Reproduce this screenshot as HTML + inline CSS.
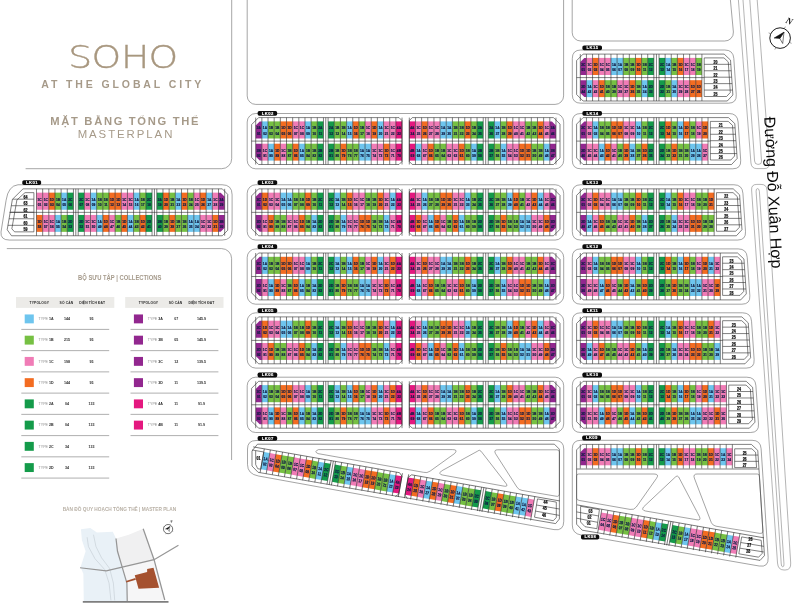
<!DOCTYPE html>
<html lang="vi"><head><meta charset="utf-8"><title>SOHO at The Global City - Masterplan</title>
<style>
html,body{margin:0;padding:0;background:#fff}
body{width:800px;height:605px;overflow:hidden}
svg{display:block;will-change:transform}
.ln{fill:none;stroke:#4a4a4a;stroke-width:0.5}
.ll{fill:none;stroke:#2e2e2e;stroke-width:0.6}
.ln2{fill:none;stroke:#6a6a6a;stroke-width:0.6}
.lt text{font:700 4.25px "Liberation Sans",sans-serif;fill:#101c44;text-anchor:middle;stroke:#101c44;stroke-width:0.24px}
.lt text.le{fill:#0c0c0c;stroke:#0c0c0c;font-size:4.7px}
.pl{font:700 4.2px "Liberation Sans",sans-serif;fill:#fff;stroke:#fff;stroke-width:0.12px;text-anchor:middle;letter-spacing:0.4px}
.soho{font:200 32.2px "DejaVu Sans Light","DejaVu Sans","Liberation Sans",sans-serif;fill:#a8977f;stroke:#a8977f;stroke-width:0.35px}
.t1{font:700 10.5px "Liberation Sans",sans-serif;fill:#a69a89;letter-spacing:2.88px}
.t2{font:700 11.2px "Liberation Sans",sans-serif;fill:#a69a89;letter-spacing:1.68px}
.rd{fill:none;stroke:#6b6b6b;stroke-width:0.5}
.rt{font:400 15.8px "Liberation Sans",sans-serif;fill:#0a0a0a}
.nn{font:italic 700 8px "Liberation Serif",serif;fill:#111}
.lg1{font:700 6.9px "Liberation Sans",sans-serif;fill:#a59a8b}
.lg2{font:700 4.78px "Liberation Sans",sans-serif;fill:#b9b1a6}
.lh{font:700 3.35px "Liberation Sans",sans-serif;fill:#2b2b2b;text-anchor:middle;letter-spacing:0.1px}
.lr{font:700 3.6px "Liberation Sans",sans-serif;fill:#2b2b2b}
.lr.m{text-anchor:middle}
.ty{font-weight:400;fill:#8d8d8d}
.t3{font:400 11.4px "Liberation Sans",sans-serif;fill:#a69a89;letter-spacing:1.95px}
</style></head><body>
<svg width="800" height="605" viewBox="0 0 800 605">
<rect width="800" height="605" fill="#fff"/>
<path d="M231.7 0V158.7A10 10 0 0 1 221.7 168.7H25.6" class="ln2"/>
<path d="M6.8 248.6H221.6A10 10 0 0 1 231.6 258.6V460" class="ln2"/>
<path d="M247.2 0V95.9A8.5 8.5 0 0 0 255.7 104.4H555.1A8.5 8.5 0 0 0 563.6 95.9V0" class="ln"/>
<path d="M572.2 0V32.5A8.5 8.5 0 0 0 580.7 41H724.5A8.5 8.5 0 0 0 733.4 32L730.4 0" class="ln"/>
<text transform="translate(0 67.9) scale(1.17 1)" x="58.29 78.29 103.33 126.84" y="0" class="soho">SOHO</text>
<text x="41.3" y="87.6" class="t1">AT THE GLOBAL CITY</text>
<text x="125.2" y="125.3" class="t2" text-anchor="middle">MẶT BẰNG TỔNG THỂ</text>
<text x="126" y="138.4" class="t3" text-anchor="middle">MASTERPLAN</text>
<rect x="247.2" y="113.5" width="316.5" height="55.3" rx="8.5" class="ln"/>
<polygon points="259.7,121.4 261.86,121.4 261.86,138.5 255.7,138.5 255.7,125.4" fill="#92278f"/><polygon points="255.7,143.7 261.86,143.7 261.86,160.6 259.7,160.6 255.7,156.6" fill="#92278f"/><rect x="261.86" y="121.4" width="6.16" height="17.1" fill="#6ec5ee"/><rect x="261.86" y="143.7" width="6.16" height="16.9" fill="#f07cb6"/><rect x="268.02" y="121.4" width="6.16" height="17.1" fill="#76c043"/><rect x="268.02" y="143.7" width="6.16" height="16.9" fill="#6ec5ee"/><rect x="274.18" y="121.4" width="6.16" height="17.1" fill="#76c043"/><rect x="274.18" y="143.7" width="6.16" height="16.9" fill="#f36c21"/><rect x="280.34" y="121.4" width="6.16" height="17.1" fill="#f36c21"/><rect x="280.34" y="143.7" width="6.16" height="16.9" fill="#f07cb6"/><rect x="286.5" y="121.4" width="6.16" height="17.1" fill="#f36c21"/><rect x="286.5" y="143.7" width="6.16" height="16.9" fill="#76c043"/><rect x="292.66" y="121.4" width="6.16" height="17.1" fill="#f07cb6"/><rect x="292.66" y="143.7" width="6.16" height="16.9" fill="#f36c21"/><rect x="298.82" y="121.4" width="6.16" height="17.1" fill="#f07cb6"/><rect x="298.82" y="143.7" width="6.16" height="16.9" fill="#6ec5ee"/><rect x="304.98" y="121.4" width="6.16" height="17.1" fill="#6ec5ee"/><rect x="304.98" y="143.7" width="6.16" height="16.9" fill="#76c043"/><rect x="311.14" y="121.4" width="6.16" height="17.1" fill="#76c043"/><rect x="311.14" y="143.7" width="6.16" height="16.9" fill="#76c043"/><rect x="317.3" y="121.4" width="6.16" height="17.1" fill="#149b4a"/><rect x="317.3" y="143.7" width="6.16" height="16.9" fill="#149b4a"/><rect x="328.1" y="121.4" width="6.16" height="17.1" fill="#149b4a"/><rect x="328.1" y="143.7" width="6.16" height="16.9" fill="#149b4a"/><rect x="334.26" y="121.4" width="6.16" height="17.1" fill="#76c043"/><rect x="334.26" y="143.7" width="6.16" height="16.9" fill="#76c043"/><rect x="340.42" y="121.4" width="6.16" height="17.1" fill="#76c043"/><rect x="340.42" y="143.7" width="6.16" height="16.9" fill="#f36c21"/><rect x="346.58" y="121.4" width="6.16" height="17.1" fill="#6ec5ee"/><rect x="346.58" y="143.7" width="6.16" height="16.9" fill="#76c043"/><rect x="352.74" y="121.4" width="6.16" height="17.1" fill="#f36c21"/><rect x="352.74" y="143.7" width="6.16" height="16.9" fill="#76c043"/><rect x="358.9" y="121.4" width="6.16" height="17.1" fill="#76c043"/><rect x="358.9" y="143.7" width="6.16" height="16.9" fill="#6ec5ee"/><rect x="365.06" y="121.4" width="6.16" height="17.1" fill="#f07cb6"/><rect x="365.06" y="143.7" width="6.16" height="16.9" fill="#6ec5ee"/><rect x="371.22" y="121.4" width="6.16" height="17.1" fill="#f36c21"/><rect x="371.22" y="143.7" width="6.16" height="16.9" fill="#f07cb6"/><rect x="377.38" y="121.4" width="6.16" height="17.1" fill="#6ec5ee"/><rect x="377.38" y="143.7" width="6.16" height="16.9" fill="#f07cb6"/><rect x="383.54" y="121.4" width="6.16" height="17.1" fill="#f07cb6"/><rect x="383.54" y="143.7" width="6.16" height="16.9" fill="#f36c21"/><rect x="389.7" y="121.4" width="6.16" height="17.1" fill="#f07cb6"/><rect x="389.7" y="143.7" width="6.16" height="16.9" fill="#f07cb6"/><rect x="395.86" y="121.4" width="6.16" height="17.1" fill="#e4187f"/><rect x="395.86" y="143.7" width="6.16" height="16.9" fill="#e4187f"/><rect x="409.3" y="121.4" width="6.16" height="17.1" fill="#e4187f"/><rect x="409.3" y="143.7" width="6.16" height="16.9" fill="#e4187f"/><rect x="415.46" y="121.4" width="6.16" height="17.1" fill="#f07cb6"/><rect x="415.46" y="143.7" width="6.16" height="16.9" fill="#6ec5ee"/><rect x="421.62" y="121.4" width="6.16" height="17.1" fill="#f36c21"/><rect x="421.62" y="143.7" width="6.16" height="16.9" fill="#f07cb6"/><rect x="427.78" y="121.4" width="6.16" height="17.1" fill="#f07cb6"/><rect x="427.78" y="143.7" width="6.16" height="16.9" fill="#f36c21"/><rect x="433.94" y="121.4" width="6.16" height="17.1" fill="#f07cb6"/><rect x="433.94" y="143.7" width="6.16" height="16.9" fill="#76c043"/><rect x="440.1" y="121.4" width="6.16" height="17.1" fill="#6ec5ee"/><rect x="440.1" y="143.7" width="6.16" height="16.9" fill="#76c043"/><rect x="446.26" y="121.4" width="6.16" height="17.1" fill="#6ec5ee"/><rect x="446.26" y="143.7" width="6.16" height="16.9" fill="#f07cb6"/><rect x="452.42" y="121.4" width="6.16" height="17.1" fill="#76c043"/><rect x="452.42" y="143.7" width="6.16" height="16.9" fill="#f07cb6"/><rect x="458.58" y="121.4" width="6.16" height="17.1" fill="#76c043"/><rect x="458.58" y="143.7" width="6.16" height="16.9" fill="#f36c21"/><rect x="464.74" y="121.4" width="6.16" height="17.1" fill="#f36c21"/><rect x="464.74" y="143.7" width="6.16" height="16.9" fill="#76c043"/><rect x="470.9" y="121.4" width="6.16" height="17.1" fill="#76c043"/><rect x="470.9" y="143.7" width="6.16" height="16.9" fill="#6ec5ee"/><rect x="477.06" y="121.4" width="6.16" height="17.1" fill="#149b4a"/><rect x="477.06" y="143.7" width="6.16" height="16.9" fill="#149b4a"/><rect x="488.2" y="121.4" width="6.16" height="17.1" fill="#149b4a"/><rect x="488.2" y="143.7" width="6.16" height="16.9" fill="#149b4a"/><rect x="494.36" y="121.4" width="6.16" height="17.1" fill="#6ec5ee"/><rect x="494.36" y="143.7" width="6.16" height="16.9" fill="#76c043"/><rect x="500.52" y="121.4" width="6.16" height="17.1" fill="#76c043"/><rect x="500.52" y="143.7" width="6.16" height="16.9" fill="#6ec5ee"/><rect x="506.68" y="121.4" width="6.16" height="17.1" fill="#f36c21"/><rect x="506.68" y="143.7" width="6.16" height="16.9" fill="#f07cb6"/><rect x="512.84" y="121.4" width="6.16" height="17.1" fill="#f07cb6"/><rect x="512.84" y="143.7" width="6.16" height="16.9" fill="#f07cb6"/><rect x="519" y="121.4" width="6.16" height="17.1" fill="#f07cb6"/><rect x="519" y="143.7" width="6.16" height="16.9" fill="#f36c21"/><rect x="525.16" y="121.4" width="6.16" height="17.1" fill="#76c043"/><rect x="525.16" y="143.7" width="6.16" height="16.9" fill="#f36c21"/><rect x="531.32" y="121.4" width="6.16" height="17.1" fill="#76c043"/><rect x="531.32" y="143.7" width="6.16" height="16.9" fill="#76c043"/><rect x="537.48" y="121.4" width="6.16" height="17.1" fill="#f36c21"/><rect x="537.48" y="143.7" width="6.16" height="16.9" fill="#76c043"/><rect x="543.64" y="121.4" width="6.16" height="17.1" fill="#f07cb6"/><rect x="543.64" y="143.7" width="6.16" height="16.9" fill="#6ec5ee"/><polygon points="549.8,121.4 551.96,121.4 555.96,125.4 555.96,138.5 549.8,138.5" fill="#92278f"/><polygon points="549.8,143.7 555.96,143.7 555.96,156.6 551.96,160.6 549.8,160.6" fill="#92278f"/>
<path d="M258.6 117.6L399.02 117.6L402.02 120.6L402.02 161.5L399.02 164.5L258.6 164.5L251.6 157.5L251.6 124.6ZM412.3 117.6L553.5 117.6L560 124.1L560 158L553.5 164.5L412.3 164.5L409.3 161.5L409.3 120.6ZM251.6 141.1L402.02 141.1M409.3 141.1L560 141.1M325.78 117.6L325.78 164.5M485.71 117.6L485.71 164.5M255.7 117.6L255.7 164.5M261.86 117.6L261.86 164.5M268.02 117.6L268.02 164.5M274.18 117.6L274.18 164.5M280.34 117.6L280.34 164.5M286.5 117.6L286.5 164.5M292.66 117.6L292.66 164.5M298.82 117.6L298.82 164.5M304.98 117.6L304.98 164.5M311.14 117.6L311.14 164.5M317.3 117.6L317.3 164.5M323.46 117.6L323.46 164.5M328.1 117.6L328.1 164.5M334.26 117.6L334.26 164.5M340.42 117.6L340.42 164.5M346.58 117.6L346.58 164.5M352.74 117.6L352.74 164.5M358.9 117.6L358.9 164.5M365.06 117.6L365.06 164.5M371.22 117.6L371.22 164.5M377.38 117.6L377.38 164.5M383.54 117.6L383.54 164.5M389.7 117.6L389.7 164.5M395.86 117.6L395.86 164.5M402.02 117.6L402.02 164.5M409.3 117.6L409.3 164.5M415.46 117.6L415.46 164.5M421.62 117.6L421.62 164.5M427.78 117.6L427.78 164.5M433.94 117.6L433.94 164.5M440.1 117.6L440.1 164.5M446.26 117.6L446.26 164.5M452.42 117.6L452.42 164.5M458.58 117.6L458.58 164.5M464.74 117.6L464.74 164.5M470.9 117.6L470.9 164.5M477.06 117.6L477.06 164.5M483.22 117.6L483.22 164.5M488.2 117.6L488.2 164.5M494.36 117.6L494.36 164.5M500.52 117.6L500.52 164.5M506.68 117.6L506.68 164.5M512.84 117.6L512.84 164.5M519 117.6L519 164.5M525.16 117.6L525.16 164.5M531.32 117.6L531.32 164.5M537.48 117.6L537.48 164.5M543.64 117.6L543.64 164.5M549.8 117.6L549.8 164.5M555.96 117.6L555.96 164.5" class="ll"/>
<g class="lt" transform="scale(0.76 1)">
<text x="340.5" y="129.4">3A<tspan x="340.5" dy="5.2">01</tspan></text>
<text x="340.5" y="151.6">3B<tspan x="340.5" dy="5.2">92</tspan></text>
<text x="348.61" y="129.4">1A<tspan x="348.61" dy="5.2">02</tspan></text>
<text x="348.61" y="151.6">1C<tspan x="348.61" dy="5.2">91</tspan></text>
<text x="356.71" y="129.4">1B<tspan x="356.71" dy="5.2">03</tspan></text>
<text x="356.71" y="151.6">1A<tspan x="356.71" dy="5.2">90</tspan></text>
<text x="364.82" y="129.4">1B<tspan x="364.82" dy="5.2">04</tspan></text>
<text x="364.82" y="151.6">1D<tspan x="364.82" dy="5.2">89</tspan></text>
<text x="372.92" y="129.4">1D<tspan x="372.92" dy="5.2">05</tspan></text>
<text x="372.92" y="151.6">1C<tspan x="372.92" dy="5.2">88</tspan></text>
<text x="381.03" y="129.4">1D<tspan x="381.03" dy="5.2">06</tspan></text>
<text x="381.03" y="151.6">1B<tspan x="381.03" dy="5.2">87</tspan></text>
<text x="389.13" y="129.4">1C<tspan x="389.13" dy="5.2">07</tspan></text>
<text x="389.13" y="151.6">1D<tspan x="389.13" dy="5.2">86</tspan></text>
<text x="397.24" y="129.4">1C<tspan x="397.24" dy="5.2">08</tspan></text>
<text x="397.24" y="151.6">1A<tspan x="397.24" dy="5.2">85</tspan></text>
<text x="405.34" y="129.4">1A<tspan x="405.34" dy="5.2">09</tspan></text>
<text x="405.34" y="151.6">1B<tspan x="405.34" dy="5.2">84</tspan></text>
<text x="413.45" y="129.4">1B<tspan x="413.45" dy="5.2">10</tspan></text>
<text x="413.45" y="151.6">1B<tspan x="413.45" dy="5.2">83</tspan></text>
<text x="421.55" y="129.4">2A<tspan x="421.55" dy="5.2">11</tspan></text>
<text x="421.55" y="151.6">2B<tspan x="421.55" dy="5.2">82</tspan></text>
<text x="435.76" y="129.4">2A<tspan x="435.76" dy="5.2">12</tspan></text>
<text x="435.76" y="151.6">2B<tspan x="435.76" dy="5.2">81</tspan></text>
<text x="443.87" y="129.4">1B<tspan x="443.87" dy="5.2">13</tspan></text>
<text x="443.87" y="151.6">1B<tspan x="443.87" dy="5.2">80</tspan></text>
<text x="451.97" y="129.4">1B<tspan x="451.97" dy="5.2">14</tspan></text>
<text x="451.97" y="151.6">1D<tspan x="451.97" dy="5.2">79</tspan></text>
<text x="460.08" y="129.4">1A<tspan x="460.08" dy="5.2">15</tspan></text>
<text x="460.08" y="151.6">1B<tspan x="460.08" dy="5.2">78</tspan></text>
<text x="468.18" y="129.4">1D<tspan x="468.18" dy="5.2">16</tspan></text>
<text x="468.18" y="151.6">1B<tspan x="468.18" dy="5.2">77</tspan></text>
<text x="476.29" y="129.4">1B<tspan x="476.29" dy="5.2">17</tspan></text>
<text x="476.29" y="151.6">1A<tspan x="476.29" dy="5.2">76</tspan></text>
<text x="484.39" y="129.4">1C<tspan x="484.39" dy="5.2">18</tspan></text>
<text x="484.39" y="151.6">1A<tspan x="484.39" dy="5.2">75</tspan></text>
<text x="492.5" y="129.4">1D<tspan x="492.5" dy="5.2">19</tspan></text>
<text x="492.5" y="151.6">1C<tspan x="492.5" dy="5.2">74</tspan></text>
<text x="500.61" y="129.4">1A<tspan x="500.61" dy="5.2">20</tspan></text>
<text x="500.61" y="151.6">1C<tspan x="500.61" dy="5.2">73</tspan></text>
<text x="508.71" y="129.4">1C<tspan x="508.71" dy="5.2">21</tspan></text>
<text x="508.71" y="151.6">1D<tspan x="508.71" dy="5.2">72</tspan></text>
<text x="516.82" y="129.4">1C<tspan x="516.82" dy="5.2">22</tspan></text>
<text x="516.82" y="151.6">1C<tspan x="516.82" dy="5.2">71</tspan></text>
<text x="524.92" y="129.4">4A<tspan x="524.92" dy="5.2">23</tspan></text>
<text x="524.92" y="151.6">4B<tspan x="524.92" dy="5.2">70</tspan></text>
<text x="542.61" y="129.4">4A<tspan x="542.61" dy="5.2">24</tspan></text>
<text x="542.61" y="151.6">4B<tspan x="542.61" dy="5.2">69</tspan></text>
<text x="550.71" y="129.4">1C<tspan x="550.71" dy="5.2">25</tspan></text>
<text x="550.71" y="151.6">1A<tspan x="550.71" dy="5.2">68</tspan></text>
<text x="558.82" y="129.4">1D<tspan x="558.82" dy="5.2">26</tspan></text>
<text x="558.82" y="151.6">1C<tspan x="558.82" dy="5.2">67</tspan></text>
<text x="566.92" y="129.4">1C<tspan x="566.92" dy="5.2">27</tspan></text>
<text x="566.92" y="151.6">1D<tspan x="566.92" dy="5.2">66</tspan></text>
<text x="575.03" y="129.4">1C<tspan x="575.03" dy="5.2">28</tspan></text>
<text x="575.03" y="151.6">1B<tspan x="575.03" dy="5.2">65</tspan></text>
<text x="583.13" y="129.4">1A<tspan x="583.13" dy="5.2">29</tspan></text>
<text x="583.13" y="151.6">1B<tspan x="583.13" dy="5.2">64</tspan></text>
<text x="591.24" y="129.4">1A<tspan x="591.24" dy="5.2">30</tspan></text>
<text x="591.24" y="151.6">1C<tspan x="591.24" dy="5.2">63</tspan></text>
<text x="599.34" y="129.4">1B<tspan x="599.34" dy="5.2">31</tspan></text>
<text x="599.34" y="151.6">1C<tspan x="599.34" dy="5.2">62</tspan></text>
<text x="607.45" y="129.4">1B<tspan x="607.45" dy="5.2">32</tspan></text>
<text x="607.45" y="151.6">1D<tspan x="607.45" dy="5.2">61</tspan></text>
<text x="615.55" y="129.4">1D<tspan x="615.55" dy="5.2">33</tspan></text>
<text x="615.55" y="151.6">1B<tspan x="615.55" dy="5.2">60</tspan></text>
<text x="623.66" y="129.4">1B<tspan x="623.66" dy="5.2">34</tspan></text>
<text x="623.66" y="151.6">1A<tspan x="623.66" dy="5.2">59</tspan></text>
<text x="631.76" y="129.4">2A<tspan x="631.76" dy="5.2">35</tspan></text>
<text x="631.76" y="151.6">2B<tspan x="631.76" dy="5.2">58</tspan></text>
<text x="646.42" y="129.4">2A<tspan x="646.42" dy="5.2">36</tspan></text>
<text x="646.42" y="151.6">2B<tspan x="646.42" dy="5.2">57</tspan></text>
<text x="654.53" y="129.4">1A<tspan x="654.53" dy="5.2">37</tspan></text>
<text x="654.53" y="151.6">1B<tspan x="654.53" dy="5.2">56</tspan></text>
<text x="662.63" y="129.4">1B<tspan x="662.63" dy="5.2">38</tspan></text>
<text x="662.63" y="151.6">1A<tspan x="662.63" dy="5.2">55</tspan></text>
<text x="670.74" y="129.4">1D<tspan x="670.74" dy="5.2">39</tspan></text>
<text x="670.74" y="151.6">1C<tspan x="670.74" dy="5.2">54</tspan></text>
<text x="678.84" y="129.4">1C<tspan x="678.84" dy="5.2">40</tspan></text>
<text x="678.84" y="151.6">1C<tspan x="678.84" dy="5.2">53</tspan></text>
<text x="686.95" y="129.4">1C<tspan x="686.95" dy="5.2">41</tspan></text>
<text x="686.95" y="151.6">1D<tspan x="686.95" dy="5.2">52</tspan></text>
<text x="695.05" y="129.4">1B<tspan x="695.05" dy="5.2">42</tspan></text>
<text x="695.05" y="151.6">1D<tspan x="695.05" dy="5.2">51</tspan></text>
<text x="703.16" y="129.4">1B<tspan x="703.16" dy="5.2">43</tspan></text>
<text x="703.16" y="151.6">1B<tspan x="703.16" dy="5.2">50</tspan></text>
<text x="711.26" y="129.4">1D<tspan x="711.26" dy="5.2">44</tspan></text>
<text x="711.26" y="151.6">1B<tspan x="711.26" dy="5.2">49</tspan></text>
<text x="719.37" y="129.4">1C<tspan x="719.37" dy="5.2">45</tspan></text>
<text x="719.37" y="151.6">1A<tspan x="719.37" dy="5.2">48</tspan></text>
<text x="727.47" y="129.4">3A<tspan x="727.47" dy="5.2">46</tspan></text>
<text x="727.47" y="151.6">3B<tspan x="727.47" dy="5.2">47</tspan></text>
</g>
<rect x="257.6" y="111" width="19.6" height="4.8" rx="1.7" fill="#0b0b0b"/>
<text x="267.7" y="114.85" class="pl">LK02</text>
<rect x="247.2" y="184.75" width="316.5" height="55.3" rx="8.5" class="ln"/>
<polygon points="259.7,192.65 261.86,192.65 261.86,209.75 255.7,209.75 255.7,196.65" fill="#92278f"/><polygon points="255.7,214.95 261.86,214.95 261.86,231.85 259.7,231.85 255.7,227.85" fill="#92278f"/><rect x="261.86" y="192.65" width="6.16" height="17.1" fill="#f36c21"/><rect x="261.86" y="214.95" width="6.16" height="16.9" fill="#f07cb6"/><rect x="268.02" y="192.65" width="6.16" height="17.1" fill="#f07cb6"/><rect x="268.02" y="214.95" width="6.16" height="16.9" fill="#f36c21"/><rect x="274.18" y="192.65" width="6.16" height="17.1" fill="#f07cb6"/><rect x="274.18" y="214.95" width="6.16" height="16.9" fill="#76c043"/><rect x="280.34" y="192.65" width="6.16" height="17.1" fill="#6ec5ee"/><rect x="280.34" y="214.95" width="6.16" height="16.9" fill="#76c043"/><rect x="286.5" y="192.65" width="6.16" height="17.1" fill="#6ec5ee"/><rect x="286.5" y="214.95" width="6.16" height="16.9" fill="#f07cb6"/><rect x="292.66" y="192.65" width="6.16" height="17.1" fill="#76c043"/><rect x="292.66" y="214.95" width="6.16" height="16.9" fill="#f07cb6"/><rect x="298.82" y="192.65" width="6.16" height="17.1" fill="#76c043"/><rect x="298.82" y="214.95" width="6.16" height="16.9" fill="#f36c21"/><rect x="304.98" y="192.65" width="6.16" height="17.1" fill="#f36c21"/><rect x="304.98" y="214.95" width="6.16" height="16.9" fill="#76c043"/><rect x="311.14" y="192.65" width="6.16" height="17.1" fill="#76c043"/><rect x="311.14" y="214.95" width="6.16" height="16.9" fill="#6ec5ee"/><rect x="317.3" y="192.65" width="6.16" height="17.1" fill="#149b4a"/><rect x="317.3" y="214.95" width="6.16" height="16.9" fill="#149b4a"/><rect x="328.1" y="192.65" width="6.16" height="17.1" fill="#149b4a"/><rect x="328.1" y="214.95" width="6.16" height="16.9" fill="#149b4a"/><rect x="334.26" y="192.65" width="6.16" height="17.1" fill="#6ec5ee"/><rect x="334.26" y="214.95" width="6.16" height="16.9" fill="#76c043"/><rect x="340.42" y="192.65" width="6.16" height="17.1" fill="#76c043"/><rect x="340.42" y="214.95" width="6.16" height="16.9" fill="#6ec5ee"/><rect x="346.58" y="192.65" width="6.16" height="17.1" fill="#f36c21"/><rect x="346.58" y="214.95" width="6.16" height="16.9" fill="#f07cb6"/><rect x="352.74" y="192.65" width="6.16" height="17.1" fill="#f07cb6"/><rect x="352.74" y="214.95" width="6.16" height="16.9" fill="#f07cb6"/><rect x="358.9" y="192.65" width="6.16" height="17.1" fill="#f07cb6"/><rect x="358.9" y="214.95" width="6.16" height="16.9" fill="#f36c21"/><rect x="365.06" y="192.65" width="6.16" height="17.1" fill="#76c043"/><rect x="365.06" y="214.95" width="6.16" height="16.9" fill="#f36c21"/><rect x="371.22" y="192.65" width="6.16" height="17.1" fill="#76c043"/><rect x="371.22" y="214.95" width="6.16" height="16.9" fill="#76c043"/><rect x="377.38" y="192.65" width="6.16" height="17.1" fill="#f36c21"/><rect x="377.38" y="214.95" width="6.16" height="16.9" fill="#76c043"/><rect x="383.54" y="192.65" width="6.16" height="17.1" fill="#f07cb6"/><rect x="383.54" y="214.95" width="6.16" height="16.9" fill="#6ec5ee"/><rect x="389.7" y="192.65" width="6.16" height="17.1" fill="#6ec5ee"/><rect x="389.7" y="214.95" width="6.16" height="16.9" fill="#f07cb6"/><rect x="395.86" y="192.65" width="6.16" height="17.1" fill="#e4187f"/><rect x="395.86" y="214.95" width="6.16" height="16.9" fill="#e4187f"/><rect x="409.3" y="192.65" width="6.16" height="17.1" fill="#e4187f"/><rect x="409.3" y="214.95" width="6.16" height="16.9" fill="#e4187f"/><rect x="415.46" y="192.65" width="6.16" height="17.1" fill="#f07cb6"/><rect x="415.46" y="214.95" width="6.16" height="16.9" fill="#f36c21"/><rect x="421.62" y="192.65" width="6.16" height="17.1" fill="#6ec5ee"/><rect x="421.62" y="214.95" width="6.16" height="16.9" fill="#f07cb6"/><rect x="427.78" y="192.65" width="6.16" height="17.1" fill="#76c043"/><rect x="427.78" y="214.95" width="6.16" height="16.9" fill="#6ec5ee"/><rect x="433.94" y="192.65" width="6.16" height="17.1" fill="#76c043"/><rect x="433.94" y="214.95" width="6.16" height="16.9" fill="#f36c21"/><rect x="440.1" y="192.65" width="6.16" height="17.1" fill="#f36c21"/><rect x="440.1" y="214.95" width="6.16" height="16.9" fill="#f07cb6"/><rect x="446.26" y="192.65" width="6.16" height="17.1" fill="#f36c21"/><rect x="446.26" y="214.95" width="6.16" height="16.9" fill="#76c043"/><rect x="452.42" y="192.65" width="6.16" height="17.1" fill="#f07cb6"/><rect x="452.42" y="214.95" width="6.16" height="16.9" fill="#f36c21"/><rect x="458.58" y="192.65" width="6.16" height="17.1" fill="#f07cb6"/><rect x="458.58" y="214.95" width="6.16" height="16.9" fill="#6ec5ee"/><rect x="464.74" y="192.65" width="6.16" height="17.1" fill="#6ec5ee"/><rect x="464.74" y="214.95" width="6.16" height="16.9" fill="#76c043"/><rect x="470.9" y="192.65" width="6.16" height="17.1" fill="#76c043"/><rect x="470.9" y="214.95" width="6.16" height="16.9" fill="#76c043"/><rect x="477.06" y="192.65" width="6.16" height="17.1" fill="#149b4a"/><rect x="477.06" y="214.95" width="6.16" height="16.9" fill="#149b4a"/><rect x="488.2" y="192.65" width="6.16" height="17.1" fill="#149b4a"/><rect x="488.2" y="214.95" width="6.16" height="16.9" fill="#149b4a"/><rect x="494.36" y="192.65" width="6.16" height="17.1" fill="#76c043"/><rect x="494.36" y="214.95" width="6.16" height="16.9" fill="#76c043"/><rect x="500.52" y="192.65" width="6.16" height="17.1" fill="#76c043"/><rect x="500.52" y="214.95" width="6.16" height="16.9" fill="#f36c21"/><rect x="506.68" y="192.65" width="6.16" height="17.1" fill="#6ec5ee"/><rect x="506.68" y="214.95" width="6.16" height="16.9" fill="#76c043"/><rect x="512.84" y="192.65" width="6.16" height="17.1" fill="#f36c21"/><rect x="512.84" y="214.95" width="6.16" height="16.9" fill="#76c043"/><rect x="519" y="192.65" width="6.16" height="17.1" fill="#76c043"/><rect x="519" y="214.95" width="6.16" height="16.9" fill="#6ec5ee"/><rect x="525.16" y="192.65" width="6.16" height="17.1" fill="#f07cb6"/><rect x="525.16" y="214.95" width="6.16" height="16.9" fill="#6ec5ee"/><rect x="531.32" y="192.65" width="6.16" height="17.1" fill="#f36c21"/><rect x="531.32" y="214.95" width="6.16" height="16.9" fill="#f07cb6"/><rect x="537.48" y="192.65" width="6.16" height="17.1" fill="#6ec5ee"/><rect x="537.48" y="214.95" width="6.16" height="16.9" fill="#f07cb6"/><rect x="543.64" y="192.65" width="6.16" height="17.1" fill="#f07cb6"/><rect x="543.64" y="214.95" width="6.16" height="16.9" fill="#f36c21"/><polygon points="549.8,192.65 551.96,192.65 555.96,196.65 555.96,209.75 549.8,209.75" fill="#92278f"/><polygon points="549.8,214.95 555.96,214.95 555.96,227.85 551.96,231.85 549.8,231.85" fill="#92278f"/>
<path d="M258.6 188.85L399.02 188.85L402.02 191.85L402.02 232.75L399.02 235.75L258.6 235.75L251.6 228.75L251.6 195.85ZM412.3 188.85L553.5 188.85L560 195.35L560 229.25L553.5 235.75L412.3 235.75L409.3 232.75L409.3 191.85ZM251.6 212.35L402.02 212.35M409.3 212.35L560 212.35M325.78 188.85L325.78 235.75M485.71 188.85L485.71 235.75M255.7 188.85L255.7 235.75M261.86 188.85L261.86 235.75M268.02 188.85L268.02 235.75M274.18 188.85L274.18 235.75M280.34 188.85L280.34 235.75M286.5 188.85L286.5 235.75M292.66 188.85L292.66 235.75M298.82 188.85L298.82 235.75M304.98 188.85L304.98 235.75M311.14 188.85L311.14 235.75M317.3 188.85L317.3 235.75M323.46 188.85L323.46 235.75M328.1 188.85L328.1 235.75M334.26 188.85L334.26 235.75M340.42 188.85L340.42 235.75M346.58 188.85L346.58 235.75M352.74 188.85L352.74 235.75M358.9 188.85L358.9 235.75M365.06 188.85L365.06 235.75M371.22 188.85L371.22 235.75M377.38 188.85L377.38 235.75M383.54 188.85L383.54 235.75M389.7 188.85L389.7 235.75M395.86 188.85L395.86 235.75M402.02 188.85L402.02 235.75M409.3 188.85L409.3 235.75M415.46 188.85L415.46 235.75M421.62 188.85L421.62 235.75M427.78 188.85L427.78 235.75M433.94 188.85L433.94 235.75M440.1 188.85L440.1 235.75M446.26 188.85L446.26 235.75M452.42 188.85L452.42 235.75M458.58 188.85L458.58 235.75M464.74 188.85L464.74 235.75M470.9 188.85L470.9 235.75M477.06 188.85L477.06 235.75M483.22 188.85L483.22 235.75M488.2 188.85L488.2 235.75M494.36 188.85L494.36 235.75M500.52 188.85L500.52 235.75M506.68 188.85L506.68 235.75M512.84 188.85L512.84 235.75M519 188.85L519 235.75M525.16 188.85L525.16 235.75M531.32 188.85L531.32 235.75M537.48 188.85L537.48 235.75M543.64 188.85L543.64 235.75M549.8 188.85L549.8 235.75M555.96 188.85L555.96 235.75" class="ll"/>
<g class="lt" transform="scale(0.76 1)">
<text x="340.5" y="200.65">3C<tspan x="340.5" dy="5.2">01</tspan></text>
<text x="340.5" y="222.85">3D<tspan x="340.5" dy="5.2">92</tspan></text>
<text x="348.61" y="200.65">1D<tspan x="348.61" dy="5.2">02</tspan></text>
<text x="348.61" y="222.85">1C<tspan x="348.61" dy="5.2">91</tspan></text>
<text x="356.71" y="200.65">1C<tspan x="356.71" dy="5.2">03</tspan></text>
<text x="356.71" y="222.85">1D<tspan x="356.71" dy="5.2">90</tspan></text>
<text x="364.82" y="200.65">1C<tspan x="364.82" dy="5.2">04</tspan></text>
<text x="364.82" y="222.85">1B<tspan x="364.82" dy="5.2">89</tspan></text>
<text x="372.92" y="200.65">1A<tspan x="372.92" dy="5.2">05</tspan></text>
<text x="372.92" y="222.85">1B<tspan x="372.92" dy="5.2">88</tspan></text>
<text x="381.03" y="200.65">1A<tspan x="381.03" dy="5.2">06</tspan></text>
<text x="381.03" y="222.85">1C<tspan x="381.03" dy="5.2">87</tspan></text>
<text x="389.13" y="200.65">1B<tspan x="389.13" dy="5.2">07</tspan></text>
<text x="389.13" y="222.85">1C<tspan x="389.13" dy="5.2">86</tspan></text>
<text x="397.24" y="200.65">1B<tspan x="397.24" dy="5.2">08</tspan></text>
<text x="397.24" y="222.85">1D<tspan x="397.24" dy="5.2">85</tspan></text>
<text x="405.34" y="200.65">1D<tspan x="405.34" dy="5.2">09</tspan></text>
<text x="405.34" y="222.85">1B<tspan x="405.34" dy="5.2">84</tspan></text>
<text x="413.45" y="200.65">1B<tspan x="413.45" dy="5.2">10</tspan></text>
<text x="413.45" y="222.85">1A<tspan x="413.45" dy="5.2">83</tspan></text>
<text x="421.55" y="200.65">2C<tspan x="421.55" dy="5.2">11</tspan></text>
<text x="421.55" y="222.85">2D<tspan x="421.55" dy="5.2">82</tspan></text>
<text x="435.76" y="200.65">2C<tspan x="435.76" dy="5.2">12</tspan></text>
<text x="435.76" y="222.85">2D<tspan x="435.76" dy="5.2">81</tspan></text>
<text x="443.87" y="200.65">1A<tspan x="443.87" dy="5.2">13</tspan></text>
<text x="443.87" y="222.85">1B<tspan x="443.87" dy="5.2">80</tspan></text>
<text x="451.97" y="200.65">1B<tspan x="451.97" dy="5.2">14</tspan></text>
<text x="451.97" y="222.85">1A<tspan x="451.97" dy="5.2">79</tspan></text>
<text x="460.08" y="200.65">1D<tspan x="460.08" dy="5.2">15</tspan></text>
<text x="460.08" y="222.85">1C<tspan x="460.08" dy="5.2">78</tspan></text>
<text x="468.18" y="200.65">1C<tspan x="468.18" dy="5.2">16</tspan></text>
<text x="468.18" y="222.85">1C<tspan x="468.18" dy="5.2">77</tspan></text>
<text x="476.29" y="200.65">1C<tspan x="476.29" dy="5.2">17</tspan></text>
<text x="476.29" y="222.85">1D<tspan x="476.29" dy="5.2">76</tspan></text>
<text x="484.39" y="200.65">1B<tspan x="484.39" dy="5.2">18</tspan></text>
<text x="484.39" y="222.85">1D<tspan x="484.39" dy="5.2">75</tspan></text>
<text x="492.5" y="200.65">1B<tspan x="492.5" dy="5.2">19</tspan></text>
<text x="492.5" y="222.85">1B<tspan x="492.5" dy="5.2">74</tspan></text>
<text x="500.61" y="200.65">1D<tspan x="500.61" dy="5.2">20</tspan></text>
<text x="500.61" y="222.85">1B<tspan x="500.61" dy="5.2">73</tspan></text>
<text x="508.71" y="200.65">1C<tspan x="508.71" dy="5.2">21</tspan></text>
<text x="508.71" y="222.85">1A<tspan x="508.71" dy="5.2">72</tspan></text>
<text x="516.82" y="200.65">1A<tspan x="516.82" dy="5.2">22</tspan></text>
<text x="516.82" y="222.85">1C<tspan x="516.82" dy="5.2">71</tspan></text>
<text x="524.92" y="200.65">4A<tspan x="524.92" dy="5.2">23</tspan></text>
<text x="524.92" y="222.85">4B<tspan x="524.92" dy="5.2">70</tspan></text>
<text x="542.61" y="200.65">4A<tspan x="542.61" dy="5.2">24</tspan></text>
<text x="542.61" y="222.85">4B<tspan x="542.61" dy="5.2">69</tspan></text>
<text x="550.71" y="200.65">1C<tspan x="550.71" dy="5.2">25</tspan></text>
<text x="550.71" y="222.85">1D<tspan x="550.71" dy="5.2">68</tspan></text>
<text x="558.82" y="200.65">1A<tspan x="558.82" dy="5.2">26</tspan></text>
<text x="558.82" y="222.85">1C<tspan x="558.82" dy="5.2">67</tspan></text>
<text x="566.92" y="200.65">1B<tspan x="566.92" dy="5.2">27</tspan></text>
<text x="566.92" y="222.85">1A<tspan x="566.92" dy="5.2">66</tspan></text>
<text x="575.03" y="200.65">1B<tspan x="575.03" dy="5.2">28</tspan></text>
<text x="575.03" y="222.85">1D<tspan x="575.03" dy="5.2">65</tspan></text>
<text x="583.13" y="200.65">1D<tspan x="583.13" dy="5.2">29</tspan></text>
<text x="583.13" y="222.85">1C<tspan x="583.13" dy="5.2">64</tspan></text>
<text x="591.24" y="200.65">1D<tspan x="591.24" dy="5.2">30</tspan></text>
<text x="591.24" y="222.85">1B<tspan x="591.24" dy="5.2">63</tspan></text>
<text x="599.34" y="200.65">1C<tspan x="599.34" dy="5.2">31</tspan></text>
<text x="599.34" y="222.85">1D<tspan x="599.34" dy="5.2">62</tspan></text>
<text x="607.45" y="200.65">1C<tspan x="607.45" dy="5.2">32</tspan></text>
<text x="607.45" y="222.85">1A<tspan x="607.45" dy="5.2">61</tspan></text>
<text x="615.55" y="200.65">1A<tspan x="615.55" dy="5.2">33</tspan></text>
<text x="615.55" y="222.85">1B<tspan x="615.55" dy="5.2">60</tspan></text>
<text x="623.66" y="200.65">1B<tspan x="623.66" dy="5.2">34</tspan></text>
<text x="623.66" y="222.85">1B<tspan x="623.66" dy="5.2">59</tspan></text>
<text x="631.76" y="200.65">2C<tspan x="631.76" dy="5.2">35</tspan></text>
<text x="631.76" y="222.85">2D<tspan x="631.76" dy="5.2">58</tspan></text>
<text x="646.42" y="200.65">2C<tspan x="646.42" dy="5.2">36</tspan></text>
<text x="646.42" y="222.85">2D<tspan x="646.42" dy="5.2">57</tspan></text>
<text x="654.53" y="200.65">1B<tspan x="654.53" dy="5.2">37</tspan></text>
<text x="654.53" y="222.85">1B<tspan x="654.53" dy="5.2">56</tspan></text>
<text x="662.63" y="200.65">1B<tspan x="662.63" dy="5.2">38</tspan></text>
<text x="662.63" y="222.85">1D<tspan x="662.63" dy="5.2">55</tspan></text>
<text x="670.74" y="200.65">1A<tspan x="670.74" dy="5.2">39</tspan></text>
<text x="670.74" y="222.85">1B<tspan x="670.74" dy="5.2">54</tspan></text>
<text x="678.84" y="200.65">1D<tspan x="678.84" dy="5.2">40</tspan></text>
<text x="678.84" y="222.85">1B<tspan x="678.84" dy="5.2">53</tspan></text>
<text x="686.95" y="200.65">1B<tspan x="686.95" dy="5.2">41</tspan></text>
<text x="686.95" y="222.85">1A<tspan x="686.95" dy="5.2">52</tspan></text>
<text x="695.05" y="200.65">1C<tspan x="695.05" dy="5.2">42</tspan></text>
<text x="695.05" y="222.85">1A<tspan x="695.05" dy="5.2">51</tspan></text>
<text x="703.16" y="200.65">1D<tspan x="703.16" dy="5.2">43</tspan></text>
<text x="703.16" y="222.85">1C<tspan x="703.16" dy="5.2">50</tspan></text>
<text x="711.26" y="200.65">1A<tspan x="711.26" dy="5.2">44</tspan></text>
<text x="711.26" y="222.85">1C<tspan x="711.26" dy="5.2">49</tspan></text>
<text x="719.37" y="200.65">1C<tspan x="719.37" dy="5.2">45</tspan></text>
<text x="719.37" y="222.85">1D<tspan x="719.37" dy="5.2">48</tspan></text>
<text x="727.47" y="200.65">3C<tspan x="727.47" dy="5.2">46</tspan></text>
<text x="727.47" y="222.85">3D<tspan x="727.47" dy="5.2">47</tspan></text>
</g>
<rect x="257.6" y="180.15" width="19.6" height="4.8" rx="1.7" fill="#0b0b0b"/>
<text x="267.7" y="184" class="pl">LK03</text>
<rect x="247.2" y="248.9" width="316.5" height="55.3" rx="8.5" class="ln"/>
<polygon points="259.7,256.8 261.86,256.8 261.86,273.9 255.7,273.9 255.7,260.8" fill="#92278f"/><polygon points="255.7,279.1 261.86,279.1 261.86,296 259.7,296 255.7,292" fill="#92278f"/><rect x="261.86" y="256.8" width="6.16" height="17.1" fill="#6ec5ee"/><rect x="261.86" y="279.1" width="6.16" height="16.9" fill="#f07cb6"/><rect x="268.02" y="256.8" width="6.16" height="17.1" fill="#76c043"/><rect x="268.02" y="279.1" width="6.16" height="16.9" fill="#6ec5ee"/><rect x="274.18" y="256.8" width="6.16" height="17.1" fill="#76c043"/><rect x="274.18" y="279.1" width="6.16" height="16.9" fill="#f36c21"/><rect x="280.34" y="256.8" width="6.16" height="17.1" fill="#f36c21"/><rect x="280.34" y="279.1" width="6.16" height="16.9" fill="#f07cb6"/><rect x="286.5" y="256.8" width="6.16" height="17.1" fill="#f36c21"/><rect x="286.5" y="279.1" width="6.16" height="16.9" fill="#76c043"/><rect x="292.66" y="256.8" width="6.16" height="17.1" fill="#f07cb6"/><rect x="292.66" y="279.1" width="6.16" height="16.9" fill="#f36c21"/><rect x="298.82" y="256.8" width="6.16" height="17.1" fill="#f07cb6"/><rect x="298.82" y="279.1" width="6.16" height="16.9" fill="#6ec5ee"/><rect x="304.98" y="256.8" width="6.16" height="17.1" fill="#6ec5ee"/><rect x="304.98" y="279.1" width="6.16" height="16.9" fill="#76c043"/><rect x="311.14" y="256.8" width="6.16" height="17.1" fill="#76c043"/><rect x="311.14" y="279.1" width="6.16" height="16.9" fill="#6ec5ee"/><rect x="317.3" y="256.8" width="6.16" height="17.1" fill="#149b4a"/><rect x="317.3" y="279.1" width="6.16" height="16.9" fill="#149b4a"/><rect x="328.1" y="256.8" width="6.16" height="17.1" fill="#149b4a"/><rect x="328.1" y="279.1" width="6.16" height="16.9" fill="#149b4a"/><rect x="334.26" y="256.8" width="6.16" height="17.1" fill="#6ec5ee"/><rect x="334.26" y="279.1" width="6.16" height="16.9" fill="#76c043"/><rect x="340.42" y="256.8" width="6.16" height="17.1" fill="#76c043"/><rect x="340.42" y="279.1" width="6.16" height="16.9" fill="#f36c21"/><rect x="346.58" y="256.8" width="6.16" height="17.1" fill="#6ec5ee"/><rect x="346.58" y="279.1" width="6.16" height="16.9" fill="#76c043"/><rect x="352.74" y="256.8" width="6.16" height="17.1" fill="#f36c21"/><rect x="352.74" y="279.1" width="6.16" height="16.9" fill="#76c043"/><rect x="358.9" y="256.8" width="6.16" height="17.1" fill="#76c043"/><rect x="358.9" y="279.1" width="6.16" height="16.9" fill="#6ec5ee"/><rect x="365.06" y="256.8" width="6.16" height="17.1" fill="#f07cb6"/><rect x="365.06" y="279.1" width="6.16" height="16.9" fill="#6ec5ee"/><rect x="371.22" y="256.8" width="6.16" height="17.1" fill="#f36c21"/><rect x="371.22" y="279.1" width="6.16" height="16.9" fill="#f07cb6"/><rect x="377.38" y="256.8" width="6.16" height="17.1" fill="#6ec5ee"/><rect x="377.38" y="279.1" width="6.16" height="16.9" fill="#f07cb6"/><rect x="383.54" y="256.8" width="6.16" height="17.1" fill="#f07cb6"/><rect x="383.54" y="279.1" width="6.16" height="16.9" fill="#f36c21"/><rect x="389.7" y="256.8" width="6.16" height="17.1" fill="#f36c21"/><rect x="389.7" y="279.1" width="6.16" height="16.9" fill="#f07cb6"/><rect x="395.86" y="256.8" width="6.16" height="17.1" fill="#e4187f"/><rect x="395.86" y="279.1" width="6.16" height="16.9" fill="#e4187f"/><rect x="409.3" y="256.8" width="6.16" height="17.1" fill="#e4187f"/><rect x="409.3" y="279.1" width="6.16" height="16.9" fill="#e4187f"/><rect x="415.46" y="256.8" width="6.16" height="17.1" fill="#f07cb6"/><rect x="415.46" y="279.1" width="6.16" height="16.9" fill="#6ec5ee"/><rect x="421.62" y="256.8" width="6.16" height="17.1" fill="#f36c21"/><rect x="421.62" y="279.1" width="6.16" height="16.9" fill="#f07cb6"/><rect x="427.78" y="256.8" width="6.16" height="17.1" fill="#f07cb6"/><rect x="427.78" y="279.1" width="6.16" height="16.9" fill="#f36c21"/><rect x="433.94" y="256.8" width="6.16" height="17.1" fill="#f07cb6"/><rect x="433.94" y="279.1" width="6.16" height="16.9" fill="#76c043"/><rect x="440.1" y="256.8" width="6.16" height="17.1" fill="#6ec5ee"/><rect x="440.1" y="279.1" width="6.16" height="16.9" fill="#76c043"/><rect x="446.26" y="256.8" width="6.16" height="17.1" fill="#6ec5ee"/><rect x="446.26" y="279.1" width="6.16" height="16.9" fill="#f07cb6"/><rect x="452.42" y="256.8" width="6.16" height="17.1" fill="#76c043"/><rect x="452.42" y="279.1" width="6.16" height="16.9" fill="#f07cb6"/><rect x="458.58" y="256.8" width="6.16" height="17.1" fill="#76c043"/><rect x="458.58" y="279.1" width="6.16" height="16.9" fill="#f36c21"/><rect x="464.74" y="256.8" width="6.16" height="17.1" fill="#f36c21"/><rect x="464.74" y="279.1" width="6.16" height="16.9" fill="#76c043"/><rect x="470.9" y="256.8" width="6.16" height="17.1" fill="#76c043"/><rect x="470.9" y="279.1" width="6.16" height="16.9" fill="#6ec5ee"/><rect x="477.06" y="256.8" width="6.16" height="17.1" fill="#149b4a"/><rect x="477.06" y="279.1" width="6.16" height="16.9" fill="#149b4a"/><rect x="488.2" y="256.8" width="6.16" height="17.1" fill="#149b4a"/><rect x="488.2" y="279.1" width="6.16" height="16.9" fill="#149b4a"/><rect x="494.36" y="256.8" width="6.16" height="17.1" fill="#6ec5ee"/><rect x="494.36" y="279.1" width="6.16" height="16.9" fill="#76c043"/><rect x="500.52" y="256.8" width="6.16" height="17.1" fill="#76c043"/><rect x="500.52" y="279.1" width="6.16" height="16.9" fill="#6ec5ee"/><rect x="506.68" y="256.8" width="6.16" height="17.1" fill="#f36c21"/><rect x="506.68" y="279.1" width="6.16" height="16.9" fill="#f07cb6"/><rect x="512.84" y="256.8" width="6.16" height="17.1" fill="#f07cb6"/><rect x="512.84" y="279.1" width="6.16" height="16.9" fill="#f07cb6"/><rect x="519" y="256.8" width="6.16" height="17.1" fill="#f07cb6"/><rect x="519" y="279.1" width="6.16" height="16.9" fill="#f36c21"/><rect x="525.16" y="256.8" width="6.16" height="17.1" fill="#76c043"/><rect x="525.16" y="279.1" width="6.16" height="16.9" fill="#f36c21"/><rect x="531.32" y="256.8" width="6.16" height="17.1" fill="#76c043"/><rect x="531.32" y="279.1" width="6.16" height="16.9" fill="#76c043"/><rect x="537.48" y="256.8" width="6.16" height="17.1" fill="#f36c21"/><rect x="537.48" y="279.1" width="6.16" height="16.9" fill="#76c043"/><rect x="543.64" y="256.8" width="6.16" height="17.1" fill="#f07cb6"/><rect x="543.64" y="279.1" width="6.16" height="16.9" fill="#6ec5ee"/><polygon points="549.8,256.8 551.96,256.8 555.96,260.8 555.96,273.9 549.8,273.9" fill="#92278f"/><polygon points="549.8,279.1 555.96,279.1 555.96,292 551.96,296 549.8,296" fill="#92278f"/>
<path d="M258.6 253L399.02 253L402.02 256L402.02 296.9L399.02 299.9L258.6 299.9L251.6 292.9L251.6 260ZM412.3 253L553.5 253L560 259.5L560 293.4L553.5 299.9L412.3 299.9L409.3 296.9L409.3 256ZM251.6 276.5L402.02 276.5M409.3 276.5L560 276.5M325.78 253L325.78 299.9M485.71 253L485.71 299.9M255.7 253L255.7 299.9M261.86 253L261.86 299.9M268.02 253L268.02 299.9M274.18 253L274.18 299.9M280.34 253L280.34 299.9M286.5 253L286.5 299.9M292.66 253L292.66 299.9M298.82 253L298.82 299.9M304.98 253L304.98 299.9M311.14 253L311.14 299.9M317.3 253L317.3 299.9M323.46 253L323.46 299.9M328.1 253L328.1 299.9M334.26 253L334.26 299.9M340.42 253L340.42 299.9M346.58 253L346.58 299.9M352.74 253L352.74 299.9M358.9 253L358.9 299.9M365.06 253L365.06 299.9M371.22 253L371.22 299.9M377.38 253L377.38 299.9M383.54 253L383.54 299.9M389.7 253L389.7 299.9M395.86 253L395.86 299.9M402.02 253L402.02 299.9M409.3 253L409.3 299.9M415.46 253L415.46 299.9M421.62 253L421.62 299.9M427.78 253L427.78 299.9M433.94 253L433.94 299.9M440.1 253L440.1 299.9M446.26 253L446.26 299.9M452.42 253L452.42 299.9M458.58 253L458.58 299.9M464.74 253L464.74 299.9M470.9 253L470.9 299.9M477.06 253L477.06 299.9M483.22 253L483.22 299.9M488.2 253L488.2 299.9M494.36 253L494.36 299.9M500.52 253L500.52 299.9M506.68 253L506.68 299.9M512.84 253L512.84 299.9M519 253L519 299.9M525.16 253L525.16 299.9M531.32 253L531.32 299.9M537.48 253L537.48 299.9M543.64 253L543.64 299.9M549.8 253L549.8 299.9M555.96 253L555.96 299.9" class="ll"/>
<g class="lt" transform="scale(0.76 1)">
<text x="340.5" y="264.8">3C<tspan x="340.5" dy="5.2">01</tspan></text>
<text x="340.5" y="287">3D<tspan x="340.5" dy="5.2">92</tspan></text>
<text x="348.61" y="264.8">1A<tspan x="348.61" dy="5.2">02</tspan></text>
<text x="348.61" y="287">1C<tspan x="348.61" dy="5.2">91</tspan></text>
<text x="356.71" y="264.8">1B<tspan x="356.71" dy="5.2">03</tspan></text>
<text x="356.71" y="287">1A<tspan x="356.71" dy="5.2">90</tspan></text>
<text x="364.82" y="264.8">1B<tspan x="364.82" dy="5.2">04</tspan></text>
<text x="364.82" y="287">1D<tspan x="364.82" dy="5.2">89</tspan></text>
<text x="372.92" y="264.8">1D<tspan x="372.92" dy="5.2">05</tspan></text>
<text x="372.92" y="287">1C<tspan x="372.92" dy="5.2">88</tspan></text>
<text x="381.03" y="264.8">1D<tspan x="381.03" dy="5.2">06</tspan></text>
<text x="381.03" y="287">1B<tspan x="381.03" dy="5.2">87</tspan></text>
<text x="389.13" y="264.8">1C<tspan x="389.13" dy="5.2">07</tspan></text>
<text x="389.13" y="287">1D<tspan x="389.13" dy="5.2">86</tspan></text>
<text x="397.24" y="264.8">1C<tspan x="397.24" dy="5.2">08</tspan></text>
<text x="397.24" y="287">1A<tspan x="397.24" dy="5.2">85</tspan></text>
<text x="405.34" y="264.8">1A<tspan x="405.34" dy="5.2">09</tspan></text>
<text x="405.34" y="287">1B<tspan x="405.34" dy="5.2">84</tspan></text>
<text x="413.45" y="264.8">1B<tspan x="413.45" dy="5.2">10</tspan></text>
<text x="413.45" y="287">1A<tspan x="413.45" dy="5.2">83</tspan></text>
<text x="421.55" y="264.8">2C<tspan x="421.55" dy="5.2">11</tspan></text>
<text x="421.55" y="287">2D<tspan x="421.55" dy="5.2">82</tspan></text>
<text x="435.76" y="264.8">2C<tspan x="435.76" dy="5.2">12</tspan></text>
<text x="435.76" y="287">2D<tspan x="435.76" dy="5.2">81</tspan></text>
<text x="443.87" y="264.8">1A<tspan x="443.87" dy="5.2">13</tspan></text>
<text x="443.87" y="287">1B<tspan x="443.87" dy="5.2">80</tspan></text>
<text x="451.97" y="264.8">1B<tspan x="451.97" dy="5.2">14</tspan></text>
<text x="451.97" y="287">1D<tspan x="451.97" dy="5.2">79</tspan></text>
<text x="460.08" y="264.8">1A<tspan x="460.08" dy="5.2">15</tspan></text>
<text x="460.08" y="287">1B<tspan x="460.08" dy="5.2">78</tspan></text>
<text x="468.18" y="264.8">1D<tspan x="468.18" dy="5.2">16</tspan></text>
<text x="468.18" y="287">1B<tspan x="468.18" dy="5.2">77</tspan></text>
<text x="476.29" y="264.8">1B<tspan x="476.29" dy="5.2">17</tspan></text>
<text x="476.29" y="287">1A<tspan x="476.29" dy="5.2">76</tspan></text>
<text x="484.39" y="264.8">1C<tspan x="484.39" dy="5.2">18</tspan></text>
<text x="484.39" y="287">1A<tspan x="484.39" dy="5.2">75</tspan></text>
<text x="492.5" y="264.8">1D<tspan x="492.5" dy="5.2">19</tspan></text>
<text x="492.5" y="287">1C<tspan x="492.5" dy="5.2">74</tspan></text>
<text x="500.61" y="264.8">1A<tspan x="500.61" dy="5.2">20</tspan></text>
<text x="500.61" y="287">1C<tspan x="500.61" dy="5.2">73</tspan></text>
<text x="508.71" y="264.8">1C<tspan x="508.71" dy="5.2">21</tspan></text>
<text x="508.71" y="287">1D<tspan x="508.71" dy="5.2">72</tspan></text>
<text x="516.82" y="264.8">1D<tspan x="516.82" dy="5.2">22</tspan></text>
<text x="516.82" y="287">1C<tspan x="516.82" dy="5.2">71</tspan></text>
<text x="524.92" y="264.8">4A<tspan x="524.92" dy="5.2">23</tspan></text>
<text x="524.92" y="287">4B<tspan x="524.92" dy="5.2">70</tspan></text>
<text x="542.61" y="264.8">4A<tspan x="542.61" dy="5.2">24</tspan></text>
<text x="542.61" y="287">4B<tspan x="542.61" dy="5.2">69</tspan></text>
<text x="550.71" y="264.8">1C<tspan x="550.71" dy="5.2">25</tspan></text>
<text x="550.71" y="287">1A<tspan x="550.71" dy="5.2">68</tspan></text>
<text x="558.82" y="264.8">1D<tspan x="558.82" dy="5.2">26</tspan></text>
<text x="558.82" y="287">1C<tspan x="558.82" dy="5.2">67</tspan></text>
<text x="566.92" y="264.8">1C<tspan x="566.92" dy="5.2">27</tspan></text>
<text x="566.92" y="287">1D<tspan x="566.92" dy="5.2">66</tspan></text>
<text x="575.03" y="264.8">1C<tspan x="575.03" dy="5.2">28</tspan></text>
<text x="575.03" y="287">1B<tspan x="575.03" dy="5.2">65</tspan></text>
<text x="583.13" y="264.8">1A<tspan x="583.13" dy="5.2">29</tspan></text>
<text x="583.13" y="287">1B<tspan x="583.13" dy="5.2">64</tspan></text>
<text x="591.24" y="264.8">1A<tspan x="591.24" dy="5.2">30</tspan></text>
<text x="591.24" y="287">1C<tspan x="591.24" dy="5.2">63</tspan></text>
<text x="599.34" y="264.8">1B<tspan x="599.34" dy="5.2">31</tspan></text>
<text x="599.34" y="287">1C<tspan x="599.34" dy="5.2">62</tspan></text>
<text x="607.45" y="264.8">1B<tspan x="607.45" dy="5.2">32</tspan></text>
<text x="607.45" y="287">1D<tspan x="607.45" dy="5.2">61</tspan></text>
<text x="615.55" y="264.8">1D<tspan x="615.55" dy="5.2">33</tspan></text>
<text x="615.55" y="287">1B<tspan x="615.55" dy="5.2">60</tspan></text>
<text x="623.66" y="264.8">1B<tspan x="623.66" dy="5.2">34</tspan></text>
<text x="623.66" y="287">1A<tspan x="623.66" dy="5.2">59</tspan></text>
<text x="631.76" y="264.8">2C<tspan x="631.76" dy="5.2">35</tspan></text>
<text x="631.76" y="287">2D<tspan x="631.76" dy="5.2">58</tspan></text>
<text x="646.42" y="264.8">2C<tspan x="646.42" dy="5.2">36</tspan></text>
<text x="646.42" y="287">2D<tspan x="646.42" dy="5.2">57</tspan></text>
<text x="654.53" y="264.8">1A<tspan x="654.53" dy="5.2">37</tspan></text>
<text x="654.53" y="287">1B<tspan x="654.53" dy="5.2">56</tspan></text>
<text x="662.63" y="264.8">1B<tspan x="662.63" dy="5.2">38</tspan></text>
<text x="662.63" y="287">1A<tspan x="662.63" dy="5.2">55</tspan></text>
<text x="670.74" y="264.8">1D<tspan x="670.74" dy="5.2">39</tspan></text>
<text x="670.74" y="287">1C<tspan x="670.74" dy="5.2">54</tspan></text>
<text x="678.84" y="264.8">1C<tspan x="678.84" dy="5.2">40</tspan></text>
<text x="678.84" y="287">1C<tspan x="678.84" dy="5.2">53</tspan></text>
<text x="686.95" y="264.8">1C<tspan x="686.95" dy="5.2">41</tspan></text>
<text x="686.95" y="287">1D<tspan x="686.95" dy="5.2">52</tspan></text>
<text x="695.05" y="264.8">1B<tspan x="695.05" dy="5.2">42</tspan></text>
<text x="695.05" y="287">1D<tspan x="695.05" dy="5.2">51</tspan></text>
<text x="703.16" y="264.8">1B<tspan x="703.16" dy="5.2">43</tspan></text>
<text x="703.16" y="287">1B<tspan x="703.16" dy="5.2">50</tspan></text>
<text x="711.26" y="264.8">1D<tspan x="711.26" dy="5.2">44</tspan></text>
<text x="711.26" y="287">1B<tspan x="711.26" dy="5.2">49</tspan></text>
<text x="719.37" y="264.8">1C<tspan x="719.37" dy="5.2">45</tspan></text>
<text x="719.37" y="287">1A<tspan x="719.37" dy="5.2">48</tspan></text>
<text x="727.47" y="264.8">3C<tspan x="727.47" dy="5.2">46</tspan></text>
<text x="727.47" y="287">3D<tspan x="727.47" dy="5.2">47</tspan></text>
</g>
<rect x="257.6" y="244.3" width="19.6" height="4.8" rx="1.7" fill="#0b0b0b"/>
<text x="267.7" y="248.15" class="pl">LK04</text>
<rect x="247.2" y="312.8" width="316.5" height="55.3" rx="8.5" class="ln"/>
<polygon points="259.7,320.7 261.86,320.7 261.86,337.8 255.7,337.8 255.7,324.7" fill="#92278f"/><polygon points="255.7,343 261.86,343 261.86,359.9 259.7,359.9 255.7,355.9" fill="#92278f"/><rect x="261.86" y="320.7" width="6.16" height="17.1" fill="#f36c21"/><rect x="261.86" y="343" width="6.16" height="16.9" fill="#f07cb6"/><rect x="268.02" y="320.7" width="6.16" height="17.1" fill="#f07cb6"/><rect x="268.02" y="343" width="6.16" height="16.9" fill="#f36c21"/><rect x="274.18" y="320.7" width="6.16" height="17.1" fill="#f07cb6"/><rect x="274.18" y="343" width="6.16" height="16.9" fill="#76c043"/><rect x="280.34" y="320.7" width="6.16" height="17.1" fill="#6ec5ee"/><rect x="280.34" y="343" width="6.16" height="16.9" fill="#76c043"/><rect x="286.5" y="320.7" width="6.16" height="17.1" fill="#6ec5ee"/><rect x="286.5" y="343" width="6.16" height="16.9" fill="#f07cb6"/><rect x="292.66" y="320.7" width="6.16" height="17.1" fill="#76c043"/><rect x="292.66" y="343" width="6.16" height="16.9" fill="#f07cb6"/><rect x="298.82" y="320.7" width="6.16" height="17.1" fill="#76c043"/><rect x="298.82" y="343" width="6.16" height="16.9" fill="#f36c21"/><rect x="304.98" y="320.7" width="6.16" height="17.1" fill="#f36c21"/><rect x="304.98" y="343" width="6.16" height="16.9" fill="#76c043"/><rect x="311.14" y="320.7" width="6.16" height="17.1" fill="#76c043"/><rect x="311.14" y="343" width="6.16" height="16.9" fill="#6ec5ee"/><rect x="317.3" y="320.7" width="6.16" height="17.1" fill="#149b4a"/><rect x="317.3" y="343" width="6.16" height="16.9" fill="#149b4a"/><rect x="328.1" y="320.7" width="6.16" height="17.1" fill="#149b4a"/><rect x="328.1" y="343" width="6.16" height="16.9" fill="#149b4a"/><rect x="334.26" y="320.7" width="6.16" height="17.1" fill="#6ec5ee"/><rect x="334.26" y="343" width="6.16" height="16.9" fill="#76c043"/><rect x="340.42" y="320.7" width="6.16" height="17.1" fill="#76c043"/><rect x="340.42" y="343" width="6.16" height="16.9" fill="#6ec5ee"/><rect x="346.58" y="320.7" width="6.16" height="17.1" fill="#f36c21"/><rect x="346.58" y="343" width="6.16" height="16.9" fill="#f07cb6"/><rect x="352.74" y="320.7" width="6.16" height="17.1" fill="#f07cb6"/><rect x="352.74" y="343" width="6.16" height="16.9" fill="#f07cb6"/><rect x="358.9" y="320.7" width="6.16" height="17.1" fill="#f07cb6"/><rect x="358.9" y="343" width="6.16" height="16.9" fill="#f36c21"/><rect x="365.06" y="320.7" width="6.16" height="17.1" fill="#76c043"/><rect x="365.06" y="343" width="6.16" height="16.9" fill="#f36c21"/><rect x="371.22" y="320.7" width="6.16" height="17.1" fill="#76c043"/><rect x="371.22" y="343" width="6.16" height="16.9" fill="#76c043"/><rect x="377.38" y="320.7" width="6.16" height="17.1" fill="#f36c21"/><rect x="377.38" y="343" width="6.16" height="16.9" fill="#76c043"/><rect x="383.54" y="320.7" width="6.16" height="17.1" fill="#f07cb6"/><rect x="383.54" y="343" width="6.16" height="16.9" fill="#6ec5ee"/><rect x="389.7" y="320.7" width="6.16" height="17.1" fill="#6ec5ee"/><rect x="389.7" y="343" width="6.16" height="16.9" fill="#f07cb6"/><rect x="395.86" y="320.7" width="6.16" height="17.1" fill="#e4187f"/><rect x="395.86" y="343" width="6.16" height="16.9" fill="#e4187f"/><rect x="409.3" y="320.7" width="6.16" height="17.1" fill="#e4187f"/><rect x="409.3" y="343" width="6.16" height="16.9" fill="#e4187f"/><rect x="415.46" y="320.7" width="6.16" height="17.1" fill="#f07cb6"/><rect x="415.46" y="343" width="6.16" height="16.9" fill="#f36c21"/><rect x="421.62" y="320.7" width="6.16" height="17.1" fill="#6ec5ee"/><rect x="421.62" y="343" width="6.16" height="16.9" fill="#f07cb6"/><rect x="427.78" y="320.7" width="6.16" height="17.1" fill="#76c043"/><rect x="427.78" y="343" width="6.16" height="16.9" fill="#6ec5ee"/><rect x="433.94" y="320.7" width="6.16" height="17.1" fill="#76c043"/><rect x="433.94" y="343" width="6.16" height="16.9" fill="#f36c21"/><rect x="440.1" y="320.7" width="6.16" height="17.1" fill="#f36c21"/><rect x="440.1" y="343" width="6.16" height="16.9" fill="#f07cb6"/><rect x="446.26" y="320.7" width="6.16" height="17.1" fill="#f36c21"/><rect x="446.26" y="343" width="6.16" height="16.9" fill="#76c043"/><rect x="452.42" y="320.7" width="6.16" height="17.1" fill="#f07cb6"/><rect x="452.42" y="343" width="6.16" height="16.9" fill="#f36c21"/><rect x="458.58" y="320.7" width="6.16" height="17.1" fill="#f07cb6"/><rect x="458.58" y="343" width="6.16" height="16.9" fill="#6ec5ee"/><rect x="464.74" y="320.7" width="6.16" height="17.1" fill="#6ec5ee"/><rect x="464.74" y="343" width="6.16" height="16.9" fill="#76c043"/><rect x="470.9" y="320.7" width="6.16" height="17.1" fill="#76c043"/><rect x="470.9" y="343" width="6.16" height="16.9" fill="#76c043"/><rect x="477.06" y="320.7" width="6.16" height="17.1" fill="#149b4a"/><rect x="477.06" y="343" width="6.16" height="16.9" fill="#149b4a"/><rect x="488.2" y="320.7" width="6.16" height="17.1" fill="#149b4a"/><rect x="488.2" y="343" width="6.16" height="16.9" fill="#149b4a"/><rect x="494.36" y="320.7" width="6.16" height="17.1" fill="#76c043"/><rect x="494.36" y="343" width="6.16" height="16.9" fill="#76c043"/><rect x="500.52" y="320.7" width="6.16" height="17.1" fill="#76c043"/><rect x="500.52" y="343" width="6.16" height="16.9" fill="#f36c21"/><rect x="506.68" y="320.7" width="6.16" height="17.1" fill="#6ec5ee"/><rect x="506.68" y="343" width="6.16" height="16.9" fill="#76c043"/><rect x="512.84" y="320.7" width="6.16" height="17.1" fill="#f36c21"/><rect x="512.84" y="343" width="6.16" height="16.9" fill="#76c043"/><rect x="519" y="320.7" width="6.16" height="17.1" fill="#76c043"/><rect x="519" y="343" width="6.16" height="16.9" fill="#6ec5ee"/><rect x="525.16" y="320.7" width="6.16" height="17.1" fill="#f07cb6"/><rect x="525.16" y="343" width="6.16" height="16.9" fill="#6ec5ee"/><rect x="531.32" y="320.7" width="6.16" height="17.1" fill="#f36c21"/><rect x="531.32" y="343" width="6.16" height="16.9" fill="#f07cb6"/><rect x="537.48" y="320.7" width="6.16" height="17.1" fill="#6ec5ee"/><rect x="537.48" y="343" width="6.16" height="16.9" fill="#f07cb6"/><rect x="543.64" y="320.7" width="6.16" height="17.1" fill="#f07cb6"/><rect x="543.64" y="343" width="6.16" height="16.9" fill="#f36c21"/><polygon points="549.8,320.7 551.96,320.7 555.96,324.7 555.96,337.8 549.8,337.8" fill="#92278f"/><polygon points="549.8,343 555.96,343 555.96,355.9 551.96,359.9 549.8,359.9" fill="#92278f"/>
<path d="M258.6 316.9L399.02 316.9L402.02 319.9L402.02 360.8L399.02 363.8L258.6 363.8L251.6 356.8L251.6 323.9ZM412.3 316.9L553.5 316.9L560 323.4L560 357.3L553.5 363.8L412.3 363.8L409.3 360.8L409.3 319.9ZM251.6 340.4L402.02 340.4M409.3 340.4L560 340.4M325.78 316.9L325.78 363.8M485.71 316.9L485.71 363.8M255.7 316.9L255.7 363.8M261.86 316.9L261.86 363.8M268.02 316.9L268.02 363.8M274.18 316.9L274.18 363.8M280.34 316.9L280.34 363.8M286.5 316.9L286.5 363.8M292.66 316.9L292.66 363.8M298.82 316.9L298.82 363.8M304.98 316.9L304.98 363.8M311.14 316.9L311.14 363.8M317.3 316.9L317.3 363.8M323.46 316.9L323.46 363.8M328.1 316.9L328.1 363.8M334.26 316.9L334.26 363.8M340.42 316.9L340.42 363.8M346.58 316.9L346.58 363.8M352.74 316.9L352.74 363.8M358.9 316.9L358.9 363.8M365.06 316.9L365.06 363.8M371.22 316.9L371.22 363.8M377.38 316.9L377.38 363.8M383.54 316.9L383.54 363.8M389.7 316.9L389.7 363.8M395.86 316.9L395.86 363.8M402.02 316.9L402.02 363.8M409.3 316.9L409.3 363.8M415.46 316.9L415.46 363.8M421.62 316.9L421.62 363.8M427.78 316.9L427.78 363.8M433.94 316.9L433.94 363.8M440.1 316.9L440.1 363.8M446.26 316.9L446.26 363.8M452.42 316.9L452.42 363.8M458.58 316.9L458.58 363.8M464.74 316.9L464.74 363.8M470.9 316.9L470.9 363.8M477.06 316.9L477.06 363.8M483.22 316.9L483.22 363.8M488.2 316.9L488.2 363.8M494.36 316.9L494.36 363.8M500.52 316.9L500.52 363.8M506.68 316.9L506.68 363.8M512.84 316.9L512.84 363.8M519 316.9L519 363.8M525.16 316.9L525.16 363.8M531.32 316.9L531.32 363.8M537.48 316.9L537.48 363.8M543.64 316.9L543.64 363.8M549.8 316.9L549.8 363.8M555.96 316.9L555.96 363.8" class="ll"/>
<g class="lt" transform="scale(0.76 1)">
<text x="340.5" y="328.7">3C<tspan x="340.5" dy="5.2">01</tspan></text>
<text x="340.5" y="350.9">3D<tspan x="340.5" dy="5.2">92</tspan></text>
<text x="348.61" y="328.7">1D<tspan x="348.61" dy="5.2">02</tspan></text>
<text x="348.61" y="350.9">1C<tspan x="348.61" dy="5.2">91</tspan></text>
<text x="356.71" y="328.7">1C<tspan x="356.71" dy="5.2">03</tspan></text>
<text x="356.71" y="350.9">1D<tspan x="356.71" dy="5.2">90</tspan></text>
<text x="364.82" y="328.7">1C<tspan x="364.82" dy="5.2">04</tspan></text>
<text x="364.82" y="350.9">1B<tspan x="364.82" dy="5.2">89</tspan></text>
<text x="372.92" y="328.7">1A<tspan x="372.92" dy="5.2">05</tspan></text>
<text x="372.92" y="350.9">1B<tspan x="372.92" dy="5.2">88</tspan></text>
<text x="381.03" y="328.7">1A<tspan x="381.03" dy="5.2">06</tspan></text>
<text x="381.03" y="350.9">1C<tspan x="381.03" dy="5.2">87</tspan></text>
<text x="389.13" y="328.7">1B<tspan x="389.13" dy="5.2">07</tspan></text>
<text x="389.13" y="350.9">1C<tspan x="389.13" dy="5.2">86</tspan></text>
<text x="397.24" y="328.7">1B<tspan x="397.24" dy="5.2">08</tspan></text>
<text x="397.24" y="350.9">1D<tspan x="397.24" dy="5.2">85</tspan></text>
<text x="405.34" y="328.7">1D<tspan x="405.34" dy="5.2">09</tspan></text>
<text x="405.34" y="350.9">1B<tspan x="405.34" dy="5.2">84</tspan></text>
<text x="413.45" y="328.7">1B<tspan x="413.45" dy="5.2">10</tspan></text>
<text x="413.45" y="350.9">1A<tspan x="413.45" dy="5.2">83</tspan></text>
<text x="421.55" y="328.7">2C<tspan x="421.55" dy="5.2">11</tspan></text>
<text x="421.55" y="350.9">2D<tspan x="421.55" dy="5.2">82</tspan></text>
<text x="435.76" y="328.7">2C<tspan x="435.76" dy="5.2">12</tspan></text>
<text x="435.76" y="350.9">2D<tspan x="435.76" dy="5.2">81</tspan></text>
<text x="443.87" y="328.7">1A<tspan x="443.87" dy="5.2">13</tspan></text>
<text x="443.87" y="350.9">1B<tspan x="443.87" dy="5.2">80</tspan></text>
<text x="451.97" y="328.7">1B<tspan x="451.97" dy="5.2">14</tspan></text>
<text x="451.97" y="350.9">1A<tspan x="451.97" dy="5.2">79</tspan></text>
<text x="460.08" y="328.7">1D<tspan x="460.08" dy="5.2">15</tspan></text>
<text x="460.08" y="350.9">1C<tspan x="460.08" dy="5.2">78</tspan></text>
<text x="468.18" y="328.7">1C<tspan x="468.18" dy="5.2">16</tspan></text>
<text x="468.18" y="350.9">1C<tspan x="468.18" dy="5.2">77</tspan></text>
<text x="476.29" y="328.7">1C<tspan x="476.29" dy="5.2">17</tspan></text>
<text x="476.29" y="350.9">1D<tspan x="476.29" dy="5.2">76</tspan></text>
<text x="484.39" y="328.7">1B<tspan x="484.39" dy="5.2">18</tspan></text>
<text x="484.39" y="350.9">1D<tspan x="484.39" dy="5.2">75</tspan></text>
<text x="492.5" y="328.7">1B<tspan x="492.5" dy="5.2">19</tspan></text>
<text x="492.5" y="350.9">1B<tspan x="492.5" dy="5.2">74</tspan></text>
<text x="500.61" y="328.7">1D<tspan x="500.61" dy="5.2">20</tspan></text>
<text x="500.61" y="350.9">1B<tspan x="500.61" dy="5.2">73</tspan></text>
<text x="508.71" y="328.7">1C<tspan x="508.71" dy="5.2">21</tspan></text>
<text x="508.71" y="350.9">1A<tspan x="508.71" dy="5.2">72</tspan></text>
<text x="516.82" y="328.7">1A<tspan x="516.82" dy="5.2">22</tspan></text>
<text x="516.82" y="350.9">1C<tspan x="516.82" dy="5.2">71</tspan></text>
<text x="524.92" y="328.7">4A<tspan x="524.92" dy="5.2">23</tspan></text>
<text x="524.92" y="350.9">4B<tspan x="524.92" dy="5.2">70</tspan></text>
<text x="542.61" y="328.7">4A<tspan x="542.61" dy="5.2">24</tspan></text>
<text x="542.61" y="350.9">4B<tspan x="542.61" dy="5.2">69</tspan></text>
<text x="550.71" y="328.7">1C<tspan x="550.71" dy="5.2">25</tspan></text>
<text x="550.71" y="350.9">1D<tspan x="550.71" dy="5.2">68</tspan></text>
<text x="558.82" y="328.7">1A<tspan x="558.82" dy="5.2">26</tspan></text>
<text x="558.82" y="350.9">1C<tspan x="558.82" dy="5.2">67</tspan></text>
<text x="566.92" y="328.7">1B<tspan x="566.92" dy="5.2">27</tspan></text>
<text x="566.92" y="350.9">1A<tspan x="566.92" dy="5.2">66</tspan></text>
<text x="575.03" y="328.7">1B<tspan x="575.03" dy="5.2">28</tspan></text>
<text x="575.03" y="350.9">1D<tspan x="575.03" dy="5.2">65</tspan></text>
<text x="583.13" y="328.7">1D<tspan x="583.13" dy="5.2">29</tspan></text>
<text x="583.13" y="350.9">1C<tspan x="583.13" dy="5.2">64</tspan></text>
<text x="591.24" y="328.7">1D<tspan x="591.24" dy="5.2">30</tspan></text>
<text x="591.24" y="350.9">1B<tspan x="591.24" dy="5.2">63</tspan></text>
<text x="599.34" y="328.7">1C<tspan x="599.34" dy="5.2">31</tspan></text>
<text x="599.34" y="350.9">1D<tspan x="599.34" dy="5.2">62</tspan></text>
<text x="607.45" y="328.7">1C<tspan x="607.45" dy="5.2">32</tspan></text>
<text x="607.45" y="350.9">1A<tspan x="607.45" dy="5.2">61</tspan></text>
<text x="615.55" y="328.7">1A<tspan x="615.55" dy="5.2">33</tspan></text>
<text x="615.55" y="350.9">1B<tspan x="615.55" dy="5.2">60</tspan></text>
<text x="623.66" y="328.7">1B<tspan x="623.66" dy="5.2">34</tspan></text>
<text x="623.66" y="350.9">1B<tspan x="623.66" dy="5.2">59</tspan></text>
<text x="631.76" y="328.7">2C<tspan x="631.76" dy="5.2">35</tspan></text>
<text x="631.76" y="350.9">2D<tspan x="631.76" dy="5.2">58</tspan></text>
<text x="646.42" y="328.7">2C<tspan x="646.42" dy="5.2">36</tspan></text>
<text x="646.42" y="350.9">2D<tspan x="646.42" dy="5.2">57</tspan></text>
<text x="654.53" y="328.7">1B<tspan x="654.53" dy="5.2">37</tspan></text>
<text x="654.53" y="350.9">1B<tspan x="654.53" dy="5.2">56</tspan></text>
<text x="662.63" y="328.7">1B<tspan x="662.63" dy="5.2">38</tspan></text>
<text x="662.63" y="350.9">1D<tspan x="662.63" dy="5.2">55</tspan></text>
<text x="670.74" y="328.7">1A<tspan x="670.74" dy="5.2">39</tspan></text>
<text x="670.74" y="350.9">1B<tspan x="670.74" dy="5.2">54</tspan></text>
<text x="678.84" y="328.7">1D<tspan x="678.84" dy="5.2">40</tspan></text>
<text x="678.84" y="350.9">1B<tspan x="678.84" dy="5.2">53</tspan></text>
<text x="686.95" y="328.7">1B<tspan x="686.95" dy="5.2">41</tspan></text>
<text x="686.95" y="350.9">1A<tspan x="686.95" dy="5.2">52</tspan></text>
<text x="695.05" y="328.7">1C<tspan x="695.05" dy="5.2">42</tspan></text>
<text x="695.05" y="350.9">1A<tspan x="695.05" dy="5.2">51</tspan></text>
<text x="703.16" y="328.7">1D<tspan x="703.16" dy="5.2">43</tspan></text>
<text x="703.16" y="350.9">1C<tspan x="703.16" dy="5.2">50</tspan></text>
<text x="711.26" y="328.7">1A<tspan x="711.26" dy="5.2">44</tspan></text>
<text x="711.26" y="350.9">1C<tspan x="711.26" dy="5.2">49</tspan></text>
<text x="719.37" y="328.7">1C<tspan x="719.37" dy="5.2">45</tspan></text>
<text x="719.37" y="350.9">1D<tspan x="719.37" dy="5.2">48</tspan></text>
<text x="727.47" y="328.7">3C<tspan x="727.47" dy="5.2">46</tspan></text>
<text x="727.47" y="350.9">3D<tspan x="727.47" dy="5.2">47</tspan></text>
</g>
<rect x="257.6" y="308.2" width="19.6" height="4.8" rx="1.7" fill="#0b0b0b"/>
<text x="267.7" y="312.05" class="pl">LK05</text>
<rect x="247.2" y="377.2" width="316.5" height="55.3" rx="8.5" class="ln"/>
<polygon points="259.7,385.1 261.86,385.1 261.86,402.2 255.7,402.2 255.7,389.1" fill="#92278f"/><polygon points="255.7,407.4 261.86,407.4 261.86,424.3 259.7,424.3 255.7,420.3" fill="#92278f"/><rect x="261.86" y="385.1" width="6.16" height="17.1" fill="#6ec5ee"/><rect x="261.86" y="407.4" width="6.16" height="16.9" fill="#f07cb6"/><rect x="268.02" y="385.1" width="6.16" height="17.1" fill="#76c043"/><rect x="268.02" y="407.4" width="6.16" height="16.9" fill="#6ec5ee"/><rect x="274.18" y="385.1" width="6.16" height="17.1" fill="#76c043"/><rect x="274.18" y="407.4" width="6.16" height="16.9" fill="#f36c21"/><rect x="280.34" y="385.1" width="6.16" height="17.1" fill="#f36c21"/><rect x="280.34" y="407.4" width="6.16" height="16.9" fill="#f07cb6"/><rect x="286.5" y="385.1" width="6.16" height="17.1" fill="#f36c21"/><rect x="286.5" y="407.4" width="6.16" height="16.9" fill="#76c043"/><rect x="292.66" y="385.1" width="6.16" height="17.1" fill="#f07cb6"/><rect x="292.66" y="407.4" width="6.16" height="16.9" fill="#f36c21"/><rect x="298.82" y="385.1" width="6.16" height="17.1" fill="#f07cb6"/><rect x="298.82" y="407.4" width="6.16" height="16.9" fill="#6ec5ee"/><rect x="304.98" y="385.1" width="6.16" height="17.1" fill="#6ec5ee"/><rect x="304.98" y="407.4" width="6.16" height="16.9" fill="#76c043"/><rect x="311.14" y="385.1" width="6.16" height="17.1" fill="#76c043"/><rect x="311.14" y="407.4" width="6.16" height="16.9" fill="#6ec5ee"/><rect x="317.3" y="385.1" width="6.16" height="17.1" fill="#149b4a"/><rect x="317.3" y="407.4" width="6.16" height="16.9" fill="#149b4a"/><rect x="328.1" y="385.1" width="6.16" height="17.1" fill="#149b4a"/><rect x="328.1" y="407.4" width="6.16" height="16.9" fill="#149b4a"/><rect x="334.26" y="385.1" width="6.16" height="17.1" fill="#6ec5ee"/><rect x="334.26" y="407.4" width="6.16" height="16.9" fill="#76c043"/><rect x="340.42" y="385.1" width="6.16" height="17.1" fill="#76c043"/><rect x="340.42" y="407.4" width="6.16" height="16.9" fill="#f36c21"/><rect x="346.58" y="385.1" width="6.16" height="17.1" fill="#6ec5ee"/><rect x="346.58" y="407.4" width="6.16" height="16.9" fill="#76c043"/><rect x="352.74" y="385.1" width="6.16" height="17.1" fill="#f36c21"/><rect x="352.74" y="407.4" width="6.16" height="16.9" fill="#76c043"/><rect x="358.9" y="385.1" width="6.16" height="17.1" fill="#76c043"/><rect x="358.9" y="407.4" width="6.16" height="16.9" fill="#6ec5ee"/><rect x="365.06" y="385.1" width="6.16" height="17.1" fill="#f07cb6"/><rect x="365.06" y="407.4" width="6.16" height="16.9" fill="#6ec5ee"/><rect x="371.22" y="385.1" width="6.16" height="17.1" fill="#f36c21"/><rect x="371.22" y="407.4" width="6.16" height="16.9" fill="#f07cb6"/><rect x="377.38" y="385.1" width="6.16" height="17.1" fill="#6ec5ee"/><rect x="377.38" y="407.4" width="6.16" height="16.9" fill="#f07cb6"/><rect x="383.54" y="385.1" width="6.16" height="17.1" fill="#f07cb6"/><rect x="383.54" y="407.4" width="6.16" height="16.9" fill="#f36c21"/><rect x="389.7" y="385.1" width="6.16" height="17.1" fill="#f36c21"/><rect x="389.7" y="407.4" width="6.16" height="16.9" fill="#f07cb6"/><rect x="395.86" y="385.1" width="6.16" height="17.1" fill="#e4187f"/><rect x="395.86" y="407.4" width="6.16" height="16.9" fill="#e4187f"/><rect x="409.3" y="385.1" width="6.16" height="17.1" fill="#e4187f"/><rect x="409.3" y="407.4" width="6.16" height="16.9" fill="#e4187f"/><rect x="415.46" y="385.1" width="6.16" height="17.1" fill="#f07cb6"/><rect x="415.46" y="407.4" width="6.16" height="16.9" fill="#6ec5ee"/><rect x="421.62" y="385.1" width="6.16" height="17.1" fill="#f36c21"/><rect x="421.62" y="407.4" width="6.16" height="16.9" fill="#f07cb6"/><rect x="427.78" y="385.1" width="6.16" height="17.1" fill="#f07cb6"/><rect x="427.78" y="407.4" width="6.16" height="16.9" fill="#f36c21"/><rect x="433.94" y="385.1" width="6.16" height="17.1" fill="#f07cb6"/><rect x="433.94" y="407.4" width="6.16" height="16.9" fill="#76c043"/><rect x="440.1" y="385.1" width="6.16" height="17.1" fill="#6ec5ee"/><rect x="440.1" y="407.4" width="6.16" height="16.9" fill="#76c043"/><rect x="446.26" y="385.1" width="6.16" height="17.1" fill="#6ec5ee"/><rect x="446.26" y="407.4" width="6.16" height="16.9" fill="#f07cb6"/><rect x="452.42" y="385.1" width="6.16" height="17.1" fill="#76c043"/><rect x="452.42" y="407.4" width="6.16" height="16.9" fill="#f07cb6"/><rect x="458.58" y="385.1" width="6.16" height="17.1" fill="#76c043"/><rect x="458.58" y="407.4" width="6.16" height="16.9" fill="#f36c21"/><rect x="464.74" y="385.1" width="6.16" height="17.1" fill="#f36c21"/><rect x="464.74" y="407.4" width="6.16" height="16.9" fill="#76c043"/><rect x="470.9" y="385.1" width="6.16" height="17.1" fill="#76c043"/><rect x="470.9" y="407.4" width="6.16" height="16.9" fill="#6ec5ee"/><rect x="477.06" y="385.1" width="6.16" height="17.1" fill="#149b4a"/><rect x="477.06" y="407.4" width="6.16" height="16.9" fill="#149b4a"/><rect x="488.2" y="385.1" width="6.16" height="17.1" fill="#149b4a"/><rect x="488.2" y="407.4" width="6.16" height="16.9" fill="#149b4a"/><rect x="494.36" y="385.1" width="6.16" height="17.1" fill="#6ec5ee"/><rect x="494.36" y="407.4" width="6.16" height="16.9" fill="#76c043"/><rect x="500.52" y="385.1" width="6.16" height="17.1" fill="#76c043"/><rect x="500.52" y="407.4" width="6.16" height="16.9" fill="#6ec5ee"/><rect x="506.68" y="385.1" width="6.16" height="17.1" fill="#f36c21"/><rect x="506.68" y="407.4" width="6.16" height="16.9" fill="#f07cb6"/><rect x="512.84" y="385.1" width="6.16" height="17.1" fill="#f07cb6"/><rect x="512.84" y="407.4" width="6.16" height="16.9" fill="#f07cb6"/><rect x="519" y="385.1" width="6.16" height="17.1" fill="#f07cb6"/><rect x="519" y="407.4" width="6.16" height="16.9" fill="#f36c21"/><rect x="525.16" y="385.1" width="6.16" height="17.1" fill="#76c043"/><rect x="525.16" y="407.4" width="6.16" height="16.9" fill="#f36c21"/><rect x="531.32" y="385.1" width="6.16" height="17.1" fill="#76c043"/><rect x="531.32" y="407.4" width="6.16" height="16.9" fill="#76c043"/><rect x="537.48" y="385.1" width="6.16" height="17.1" fill="#f36c21"/><rect x="537.48" y="407.4" width="6.16" height="16.9" fill="#76c043"/><rect x="543.64" y="385.1" width="6.16" height="17.1" fill="#f07cb6"/><rect x="543.64" y="407.4" width="6.16" height="16.9" fill="#6ec5ee"/><polygon points="549.8,385.1 551.96,385.1 555.96,389.1 555.96,402.2 549.8,402.2" fill="#92278f"/><polygon points="549.8,407.4 555.96,407.4 555.96,420.3 551.96,424.3 549.8,424.3" fill="#92278f"/>
<path d="M258.6 381.3L399.02 381.3L402.02 384.3L402.02 425.2L399.02 428.2L258.6 428.2L251.6 421.2L251.6 388.3ZM412.3 381.3L553.5 381.3L560 387.8L560 421.7L553.5 428.2L412.3 428.2L409.3 425.2L409.3 384.3ZM251.6 404.8L402.02 404.8M409.3 404.8L560 404.8M325.78 381.3L325.78 428.2M485.71 381.3L485.71 428.2M255.7 381.3L255.7 428.2M261.86 381.3L261.86 428.2M268.02 381.3L268.02 428.2M274.18 381.3L274.18 428.2M280.34 381.3L280.34 428.2M286.5 381.3L286.5 428.2M292.66 381.3L292.66 428.2M298.82 381.3L298.82 428.2M304.98 381.3L304.98 428.2M311.14 381.3L311.14 428.2M317.3 381.3L317.3 428.2M323.46 381.3L323.46 428.2M328.1 381.3L328.1 428.2M334.26 381.3L334.26 428.2M340.42 381.3L340.42 428.2M346.58 381.3L346.58 428.2M352.74 381.3L352.74 428.2M358.9 381.3L358.9 428.2M365.06 381.3L365.06 428.2M371.22 381.3L371.22 428.2M377.38 381.3L377.38 428.2M383.54 381.3L383.54 428.2M389.7 381.3L389.7 428.2M395.86 381.3L395.86 428.2M402.02 381.3L402.02 428.2M409.3 381.3L409.3 428.2M415.46 381.3L415.46 428.2M421.62 381.3L421.62 428.2M427.78 381.3L427.78 428.2M433.94 381.3L433.94 428.2M440.1 381.3L440.1 428.2M446.26 381.3L446.26 428.2M452.42 381.3L452.42 428.2M458.58 381.3L458.58 428.2M464.74 381.3L464.74 428.2M470.9 381.3L470.9 428.2M477.06 381.3L477.06 428.2M483.22 381.3L483.22 428.2M488.2 381.3L488.2 428.2M494.36 381.3L494.36 428.2M500.52 381.3L500.52 428.2M506.68 381.3L506.68 428.2M512.84 381.3L512.84 428.2M519 381.3L519 428.2M525.16 381.3L525.16 428.2M531.32 381.3L531.32 428.2M537.48 381.3L537.48 428.2M543.64 381.3L543.64 428.2M549.8 381.3L549.8 428.2M555.96 381.3L555.96 428.2" class="ll"/>
<g class="lt" transform="scale(0.76 1)">
<text x="340.5" y="393.1">3C<tspan x="340.5" dy="5.2">01</tspan></text>
<text x="340.5" y="415.3">3D<tspan x="340.5" dy="5.2">92</tspan></text>
<text x="348.61" y="393.1">1A<tspan x="348.61" dy="5.2">02</tspan></text>
<text x="348.61" y="415.3">1C<tspan x="348.61" dy="5.2">91</tspan></text>
<text x="356.71" y="393.1">1B<tspan x="356.71" dy="5.2">03</tspan></text>
<text x="356.71" y="415.3">1A<tspan x="356.71" dy="5.2">90</tspan></text>
<text x="364.82" y="393.1">1B<tspan x="364.82" dy="5.2">04</tspan></text>
<text x="364.82" y="415.3">1D<tspan x="364.82" dy="5.2">89</tspan></text>
<text x="372.92" y="393.1">1D<tspan x="372.92" dy="5.2">05</tspan></text>
<text x="372.92" y="415.3">1C<tspan x="372.92" dy="5.2">88</tspan></text>
<text x="381.03" y="393.1">1D<tspan x="381.03" dy="5.2">06</tspan></text>
<text x="381.03" y="415.3">1B<tspan x="381.03" dy="5.2">87</tspan></text>
<text x="389.13" y="393.1">1C<tspan x="389.13" dy="5.2">07</tspan></text>
<text x="389.13" y="415.3">1D<tspan x="389.13" dy="5.2">86</tspan></text>
<text x="397.24" y="393.1">1C<tspan x="397.24" dy="5.2">08</tspan></text>
<text x="397.24" y="415.3">1A<tspan x="397.24" dy="5.2">85</tspan></text>
<text x="405.34" y="393.1">1A<tspan x="405.34" dy="5.2">09</tspan></text>
<text x="405.34" y="415.3">1B<tspan x="405.34" dy="5.2">84</tspan></text>
<text x="413.45" y="393.1">1B<tspan x="413.45" dy="5.2">10</tspan></text>
<text x="413.45" y="415.3">1A<tspan x="413.45" dy="5.2">83</tspan></text>
<text x="421.55" y="393.1">2C<tspan x="421.55" dy="5.2">11</tspan></text>
<text x="421.55" y="415.3">2D<tspan x="421.55" dy="5.2">82</tspan></text>
<text x="435.76" y="393.1">2C<tspan x="435.76" dy="5.2">12</tspan></text>
<text x="435.76" y="415.3">2D<tspan x="435.76" dy="5.2">81</tspan></text>
<text x="443.87" y="393.1">1A<tspan x="443.87" dy="5.2">13</tspan></text>
<text x="443.87" y="415.3">1B<tspan x="443.87" dy="5.2">80</tspan></text>
<text x="451.97" y="393.1">1B<tspan x="451.97" dy="5.2">14</tspan></text>
<text x="451.97" y="415.3">1D<tspan x="451.97" dy="5.2">79</tspan></text>
<text x="460.08" y="393.1">1A<tspan x="460.08" dy="5.2">15</tspan></text>
<text x="460.08" y="415.3">1B<tspan x="460.08" dy="5.2">78</tspan></text>
<text x="468.18" y="393.1">1D<tspan x="468.18" dy="5.2">16</tspan></text>
<text x="468.18" y="415.3">1B<tspan x="468.18" dy="5.2">77</tspan></text>
<text x="476.29" y="393.1">1B<tspan x="476.29" dy="5.2">17</tspan></text>
<text x="476.29" y="415.3">1A<tspan x="476.29" dy="5.2">76</tspan></text>
<text x="484.39" y="393.1">1C<tspan x="484.39" dy="5.2">18</tspan></text>
<text x="484.39" y="415.3">1A<tspan x="484.39" dy="5.2">75</tspan></text>
<text x="492.5" y="393.1">1D<tspan x="492.5" dy="5.2">19</tspan></text>
<text x="492.5" y="415.3">1C<tspan x="492.5" dy="5.2">74</tspan></text>
<text x="500.61" y="393.1">1A<tspan x="500.61" dy="5.2">20</tspan></text>
<text x="500.61" y="415.3">1C<tspan x="500.61" dy="5.2">73</tspan></text>
<text x="508.71" y="393.1">1C<tspan x="508.71" dy="5.2">21</tspan></text>
<text x="508.71" y="415.3">1D<tspan x="508.71" dy="5.2">72</tspan></text>
<text x="516.82" y="393.1">1D<tspan x="516.82" dy="5.2">22</tspan></text>
<text x="516.82" y="415.3">1C<tspan x="516.82" dy="5.2">71</tspan></text>
<text x="524.92" y="393.1">4A<tspan x="524.92" dy="5.2">23</tspan></text>
<text x="524.92" y="415.3">4B<tspan x="524.92" dy="5.2">70</tspan></text>
<text x="542.61" y="393.1">4A<tspan x="542.61" dy="5.2">24</tspan></text>
<text x="542.61" y="415.3">4B<tspan x="542.61" dy="5.2">69</tspan></text>
<text x="550.71" y="393.1">1C<tspan x="550.71" dy="5.2">25</tspan></text>
<text x="550.71" y="415.3">1A<tspan x="550.71" dy="5.2">68</tspan></text>
<text x="558.82" y="393.1">1D<tspan x="558.82" dy="5.2">26</tspan></text>
<text x="558.82" y="415.3">1C<tspan x="558.82" dy="5.2">67</tspan></text>
<text x="566.92" y="393.1">1C<tspan x="566.92" dy="5.2">27</tspan></text>
<text x="566.92" y="415.3">1D<tspan x="566.92" dy="5.2">66</tspan></text>
<text x="575.03" y="393.1">1C<tspan x="575.03" dy="5.2">28</tspan></text>
<text x="575.03" y="415.3">1B<tspan x="575.03" dy="5.2">65</tspan></text>
<text x="583.13" y="393.1">1A<tspan x="583.13" dy="5.2">29</tspan></text>
<text x="583.13" y="415.3">1B<tspan x="583.13" dy="5.2">64</tspan></text>
<text x="591.24" y="393.1">1A<tspan x="591.24" dy="5.2">30</tspan></text>
<text x="591.24" y="415.3">1C<tspan x="591.24" dy="5.2">63</tspan></text>
<text x="599.34" y="393.1">1B<tspan x="599.34" dy="5.2">31</tspan></text>
<text x="599.34" y="415.3">1C<tspan x="599.34" dy="5.2">62</tspan></text>
<text x="607.45" y="393.1">1B<tspan x="607.45" dy="5.2">32</tspan></text>
<text x="607.45" y="415.3">1D<tspan x="607.45" dy="5.2">61</tspan></text>
<text x="615.55" y="393.1">1D<tspan x="615.55" dy="5.2">33</tspan></text>
<text x="615.55" y="415.3">1B<tspan x="615.55" dy="5.2">60</tspan></text>
<text x="623.66" y="393.1">1B<tspan x="623.66" dy="5.2">34</tspan></text>
<text x="623.66" y="415.3">1A<tspan x="623.66" dy="5.2">59</tspan></text>
<text x="631.76" y="393.1">2C<tspan x="631.76" dy="5.2">35</tspan></text>
<text x="631.76" y="415.3">2D<tspan x="631.76" dy="5.2">58</tspan></text>
<text x="646.42" y="393.1">2C<tspan x="646.42" dy="5.2">36</tspan></text>
<text x="646.42" y="415.3">2D<tspan x="646.42" dy="5.2">57</tspan></text>
<text x="654.53" y="393.1">1A<tspan x="654.53" dy="5.2">37</tspan></text>
<text x="654.53" y="415.3">1B<tspan x="654.53" dy="5.2">56</tspan></text>
<text x="662.63" y="393.1">1B<tspan x="662.63" dy="5.2">38</tspan></text>
<text x="662.63" y="415.3">1A<tspan x="662.63" dy="5.2">55</tspan></text>
<text x="670.74" y="393.1">1D<tspan x="670.74" dy="5.2">39</tspan></text>
<text x="670.74" y="415.3">1C<tspan x="670.74" dy="5.2">54</tspan></text>
<text x="678.84" y="393.1">1C<tspan x="678.84" dy="5.2">40</tspan></text>
<text x="678.84" y="415.3">1C<tspan x="678.84" dy="5.2">53</tspan></text>
<text x="686.95" y="393.1">1C<tspan x="686.95" dy="5.2">41</tspan></text>
<text x="686.95" y="415.3">1D<tspan x="686.95" dy="5.2">52</tspan></text>
<text x="695.05" y="393.1">1B<tspan x="695.05" dy="5.2">42</tspan></text>
<text x="695.05" y="415.3">1D<tspan x="695.05" dy="5.2">51</tspan></text>
<text x="703.16" y="393.1">1B<tspan x="703.16" dy="5.2">43</tspan></text>
<text x="703.16" y="415.3">1B<tspan x="703.16" dy="5.2">50</tspan></text>
<text x="711.26" y="393.1">1D<tspan x="711.26" dy="5.2">44</tspan></text>
<text x="711.26" y="415.3">1B<tspan x="711.26" dy="5.2">49</tspan></text>
<text x="719.37" y="393.1">1C<tspan x="719.37" dy="5.2">45</tspan></text>
<text x="719.37" y="415.3">1A<tspan x="719.37" dy="5.2">48</tspan></text>
<text x="727.47" y="393.1">3C<tspan x="727.47" dy="5.2">46</tspan></text>
<text x="727.47" y="415.3">3D<tspan x="727.47" dy="5.2">47</tspan></text>
</g>
<rect x="257.6" y="372.6" width="19.6" height="4.8" rx="1.7" fill="#0b0b0b"/>
<text x="267.7" y="376.45" class="pl">LK06</text>
<path d="M580.8 50H724.75Q733.25 50 733.82 58.5L736.26 94.7Q736.84 103.2 728.34 103.2H580.8Q572.3 103.2 572.3 94.7V58.5Q572.3 50 580.8 50Z" class="ln"/>
<polygon points="584.3,57.9 586.43,57.9 586.43,75 580.3,75 580.3,61.9" fill="#92278f"/><polygon points="580.3,80.2 586.43,80.2 586.43,97.1 584.3,97.1 580.3,93.1" fill="#92278f"/><rect x="586.43" y="57.9" width="6.13" height="17.1" fill="#f07cb6"/><rect x="586.43" y="80.2" width="6.13" height="16.9" fill="#6ec5ee"/><rect x="592.56" y="57.9" width="6.13" height="17.1" fill="#f36c21"/><rect x="592.56" y="80.2" width="6.13" height="16.9" fill="#f07cb6"/><rect x="598.69" y="57.9" width="6.13" height="17.1" fill="#f07cb6"/><rect x="598.69" y="80.2" width="6.13" height="16.9" fill="#f36c21"/><rect x="604.82" y="57.9" width="6.13" height="17.1" fill="#f07cb6"/><rect x="604.82" y="80.2" width="6.13" height="16.9" fill="#76c043"/><rect x="610.95" y="57.9" width="6.13" height="17.1" fill="#6ec5ee"/><rect x="610.95" y="80.2" width="6.13" height="16.9" fill="#76c043"/><rect x="617.08" y="57.9" width="6.13" height="17.1" fill="#6ec5ee"/><rect x="617.08" y="80.2" width="6.13" height="16.9" fill="#f07cb6"/><rect x="623.21" y="57.9" width="6.13" height="17.1" fill="#76c043"/><rect x="623.21" y="80.2" width="6.13" height="16.9" fill="#f07cb6"/><rect x="629.34" y="57.9" width="6.13" height="17.1" fill="#76c043"/><rect x="629.34" y="80.2" width="6.13" height="16.9" fill="#f36c21"/><rect x="635.47" y="57.9" width="6.13" height="17.1" fill="#f36c21"/><rect x="635.47" y="80.2" width="6.13" height="16.9" fill="#76c043"/><rect x="641.6" y="57.9" width="6.13" height="17.1" fill="#76c043"/><rect x="641.6" y="80.2" width="6.13" height="16.9" fill="#6ec5ee"/><rect x="647.73" y="57.9" width="6.13" height="17.1" fill="#149b4a"/><rect x="647.73" y="80.2" width="6.13" height="16.9" fill="#149b4a"/><rect x="659" y="57.9" width="6.13" height="17.1" fill="#149b4a"/><rect x="659" y="80.2" width="6.13" height="16.9" fill="#149b4a"/><rect x="665.13" y="57.9" width="6.13" height="17.1" fill="#6ec5ee"/><rect x="665.13" y="80.2" width="6.13" height="16.9" fill="#76c043"/><rect x="671.26" y="57.9" width="6.13" height="17.1" fill="#76c043"/><rect x="671.26" y="80.2" width="6.13" height="16.9" fill="#6ec5ee"/><rect x="677.39" y="57.9" width="6.13" height="17.1" fill="#f36c21"/><rect x="677.39" y="80.2" width="6.13" height="16.9" fill="#f07cb6"/><rect x="683.52" y="57.9" width="6.13" height="17.1" fill="#f07cb6"/><rect x="683.52" y="80.2" width="6.13" height="16.9" fill="#f07cb6"/><rect x="689.65" y="57.9" width="6.13" height="17.1" fill="#f07cb6"/><rect x="689.65" y="80.2" width="6.13" height="16.9" fill="#f36c21"/><rect x="695.78" y="57.9" width="6.13" height="17.1" fill="#76c043"/><rect x="695.78" y="80.2" width="6.13" height="16.9" fill="#f36c21"/>
<path d="M583.1 54.1L724.12 54.1L730.53 60.1L732.88 95L727.29 101L583.1 101L576.6 94.5L576.6 60.6ZM576.6 77.6L704.21 77.6M656.43 54.1L656.43 101M580.3 54.1L580.3 101M586.43 54.1L586.43 101M592.56 54.1L592.56 101M598.69 54.1L598.69 101M604.82 54.1L604.82 101M610.95 54.1L610.95 101M617.08 54.1L617.08 101M623.21 54.1L623.21 101M629.34 54.1L629.34 101M635.47 54.1L635.47 101M641.6 54.1L641.6 101M647.73 54.1L647.73 101M653.86 54.1L653.86 101M659 54.1L659 101M665.13 54.1L665.13 101M671.26 54.1L671.26 101M677.39 54.1L677.39 101M683.52 54.1L683.52 101M689.65 54.1L689.65 101M695.78 54.1L695.78 101M701.91 54.1L701.91 101M704.21 57.9L723.98 57.9L728.25 61.9L730.31 92.5L726.58 96.5L704.21 96.5ZM704.21 64.33L730.81 64.33M704.21 70.77L731.25 70.77M704.21 77.2L731.68 77.2M704.21 83.63L732.12 83.63M704.21 90.07L732.55 90.07" class="ll"/>
<g class="lt" transform="scale(0.76 1)">
<text x="767.59" y="65.9">3C<tspan x="767.59" dy="5.2">01</tspan></text>
<text x="767.59" y="88.1">3D<tspan x="767.59" dy="5.2">44</tspan></text>
<text x="775.65" y="65.9">1C<tspan x="775.65" dy="5.2">02</tspan></text>
<text x="775.65" y="88.1">1A<tspan x="775.65" dy="5.2">43</tspan></text>
<text x="783.72" y="65.9">1D<tspan x="783.72" dy="5.2">03</tspan></text>
<text x="783.72" y="88.1">1C<tspan x="783.72" dy="5.2">42</tspan></text>
<text x="791.78" y="65.9">1C<tspan x="791.78" dy="5.2">04</tspan></text>
<text x="791.78" y="88.1">1D<tspan x="791.78" dy="5.2">41</tspan></text>
<text x="799.85" y="65.9">1C<tspan x="799.85" dy="5.2">05</tspan></text>
<text x="799.85" y="88.1">1B<tspan x="799.85" dy="5.2">40</tspan></text>
<text x="807.91" y="65.9">1A<tspan x="807.91" dy="5.2">06</tspan></text>
<text x="807.91" y="88.1">1B<tspan x="807.91" dy="5.2">39</tspan></text>
<text x="815.98" y="65.9">1A<tspan x="815.98" dy="5.2">07</tspan></text>
<text x="815.98" y="88.1">1C<tspan x="815.98" dy="5.2">38</tspan></text>
<text x="824.05" y="65.9">1B<tspan x="824.05" dy="5.2">08</tspan></text>
<text x="824.05" y="88.1">1C<tspan x="824.05" dy="5.2">37</tspan></text>
<text x="832.11" y="65.9">1B<tspan x="832.11" dy="5.2">09</tspan></text>
<text x="832.11" y="88.1">1D<tspan x="832.11" dy="5.2">36</tspan></text>
<text x="840.18" y="65.9">1D<tspan x="840.18" dy="5.2">10</tspan></text>
<text x="840.18" y="88.1">1B<tspan x="840.18" dy="5.2">35</tspan></text>
<text x="848.24" y="65.9">1B<tspan x="848.24" dy="5.2">11</tspan></text>
<text x="848.24" y="88.1">1A<tspan x="848.24" dy="5.2">34</tspan></text>
<text x="856.31" y="65.9">2C<tspan x="856.31" dy="5.2">12</tspan></text>
<text x="856.31" y="88.1">2D<tspan x="856.31" dy="5.2">33</tspan></text>
<text x="871.14" y="65.9">2C<tspan x="871.14" dy="5.2">13</tspan></text>
<text x="871.14" y="88.1">2D<tspan x="871.14" dy="5.2">32</tspan></text>
<text x="879.2" y="65.9">1A<tspan x="879.2" dy="5.2">14</tspan></text>
<text x="879.2" y="88.1">1B<tspan x="879.2" dy="5.2">31</tspan></text>
<text x="887.27" y="65.9">1B<tspan x="887.27" dy="5.2">15</tspan></text>
<text x="887.27" y="88.1">1A<tspan x="887.27" dy="5.2">30</tspan></text>
<text x="895.34" y="65.9">1D<tspan x="895.34" dy="5.2">16</tspan></text>
<text x="895.34" y="88.1">1C<tspan x="895.34" dy="5.2">29</tspan></text>
<text x="903.4" y="65.9">1C<tspan x="903.4" dy="5.2">17</tspan></text>
<text x="903.4" y="88.1">1C<tspan x="903.4" dy="5.2">28</tspan></text>
<text x="911.47" y="65.9">1C<tspan x="911.47" dy="5.2">18</tspan></text>
<text x="911.47" y="88.1">1D<tspan x="911.47" dy="5.2">27</tspan></text>
<text x="919.53" y="65.9">1B<tspan x="919.53" dy="5.2">19</tspan></text>
<text x="919.53" y="88.1">1D<tspan x="919.53" dy="5.2">26</tspan></text>
<text x="941.57" y="63.72" class="le">20</text>
<text x="941.57" y="70.15" class="le">21</text>
<text x="941.57" y="76.58" class="le">22</text>
<text x="941.57" y="83.02" class="le">23</text>
<text x="941.57" y="89.45" class="le">24</text>
<text x="941.57" y="95.88" class="le">25</text>
</g>
<rect x="582.4" y="45.4" width="19.6" height="4.8" rx="1.7" fill="#0b0b0b"/>
<text x="592.5" y="49.25" class="pl">LK15</text>
<path d="M580.8 113.5H729.03Q737.53 113.5 738.11 122L740.69 160.3Q741.26 168.8 732.76 168.8H580.8Q572.3 168.8 572.3 160.3V122Q572.3 113.5 580.8 113.5Z" class="ln"/>
<polygon points="584.3,121.4 586.43,121.4 586.43,138.5 580.3,138.5 580.3,125.4" fill="#92278f"/><polygon points="580.3,143.7 586.43,143.7 586.43,160.6 584.3,160.6 580.3,156.6" fill="#92278f"/><rect x="586.43" y="121.4" width="6.13" height="17.1" fill="#f07cb6"/><rect x="586.43" y="143.7" width="6.13" height="16.9" fill="#f07cb6"/><rect x="592.56" y="121.4" width="6.13" height="17.1" fill="#6ec5ee"/><rect x="592.56" y="143.7" width="6.13" height="16.9" fill="#f07cb6"/><rect x="598.69" y="121.4" width="6.13" height="17.1" fill="#76c043"/><rect x="598.69" y="143.7" width="6.13" height="16.9" fill="#6ec5ee"/><rect x="604.82" y="121.4" width="6.13" height="17.1" fill="#76c043"/><rect x="604.82" y="143.7" width="6.13" height="16.9" fill="#f36c21"/><rect x="610.95" y="121.4" width="6.13" height="17.1" fill="#f36c21"/><rect x="610.95" y="143.7" width="6.13" height="16.9" fill="#f07cb6"/><rect x="617.08" y="121.4" width="6.13" height="17.1" fill="#f36c21"/><rect x="617.08" y="143.7" width="6.13" height="16.9" fill="#76c043"/><rect x="623.21" y="121.4" width="6.13" height="17.1" fill="#f07cb6"/><rect x="623.21" y="143.7" width="6.13" height="16.9" fill="#f36c21"/><rect x="629.34" y="121.4" width="6.13" height="17.1" fill="#f07cb6"/><rect x="629.34" y="143.7" width="6.13" height="16.9" fill="#6ec5ee"/><rect x="635.47" y="121.4" width="6.13" height="17.1" fill="#6ec5ee"/><rect x="635.47" y="143.7" width="6.13" height="16.9" fill="#76c043"/><rect x="641.6" y="121.4" width="6.13" height="17.1" fill="#76c043"/><rect x="641.6" y="143.7" width="6.13" height="16.9" fill="#f36c21"/><rect x="647.73" y="121.4" width="6.13" height="17.1" fill="#149b4a"/><rect x="647.73" y="143.7" width="6.13" height="16.9" fill="#149b4a"/><rect x="659" y="121.4" width="6.13" height="17.1" fill="#149b4a"/><rect x="659" y="143.7" width="6.13" height="16.9" fill="#149b4a"/><rect x="665.13" y="121.4" width="6.13" height="17.1" fill="#f36c21"/><rect x="665.13" y="143.7" width="6.13" height="16.9" fill="#76c043"/><rect x="671.26" y="121.4" width="6.13" height="17.1" fill="#76c043"/><rect x="671.26" y="143.7" width="6.13" height="16.9" fill="#f36c21"/><rect x="677.39" y="121.4" width="6.13" height="17.1" fill="#6ec5ee"/><rect x="677.39" y="143.7" width="6.13" height="16.9" fill="#76c043"/><rect x="683.52" y="121.4" width="6.13" height="17.1" fill="#f36c21"/><rect x="683.52" y="143.7" width="6.13" height="16.9" fill="#76c043"/><rect x="689.65" y="121.4" width="6.13" height="17.1" fill="#76c043"/><rect x="689.65" y="143.7" width="6.13" height="16.9" fill="#6ec5ee"/><rect x="695.78" y="121.4" width="6.13" height="17.1" fill="#f07cb6"/><rect x="695.78" y="143.7" width="6.13" height="16.9" fill="#6ec5ee"/><rect x="701.91" y="121.4" width="6.13" height="17.1" fill="#f36c21"/><rect x="701.91" y="143.7" width="6.13" height="16.9" fill="#f07cb6"/>
<path d="M583.1 117.6L728.41 117.6L734.81 123.6L737.17 158.5L731.57 164.5L583.1 164.5L576.6 158L576.6 124.1ZM576.6 141.1L710.34 141.1M656.43 117.6L656.43 164.5M580.3 117.6L580.3 164.5M586.43 117.6L586.43 164.5M592.56 117.6L592.56 164.5M598.69 117.6L598.69 164.5M604.82 117.6L604.82 164.5M610.95 117.6L610.95 164.5M617.08 117.6L617.08 164.5M623.21 117.6L623.21 164.5M629.34 117.6L629.34 164.5M635.47 117.6L635.47 164.5M641.6 117.6L641.6 164.5M647.73 117.6L647.73 164.5M653.86 117.6L653.86 164.5M659 117.6L659 164.5M665.13 117.6L665.13 164.5M671.26 117.6L671.26 164.5M677.39 117.6L677.39 164.5M683.52 117.6L683.52 164.5M689.65 117.6L689.65 164.5M695.78 117.6L695.78 164.5M701.91 117.6L701.91 164.5M708.04 117.6L708.04 164.5M710.34 121.4L728.26 121.4L732.53 125.4L734.6 156L730.87 160L710.34 160ZM710.34 127.83L735.1 127.83M710.34 134.27L735.53 134.27M710.34 140.7L735.97 140.7M710.34 147.13L736.4 147.13M710.34 153.57L736.84 153.57" class="ll"/>
<g class="lt" transform="scale(0.76 1)">
<text x="767.59" y="129.4">3C<tspan x="767.59" dy="5.2">01</tspan></text>
<text x="767.59" y="151.6">3D<tspan x="767.59" dy="5.2">46</tspan></text>
<text x="775.65" y="129.4">1C<tspan x="775.65" dy="5.2">02</tspan></text>
<text x="775.65" y="151.6">1C<tspan x="775.65" dy="5.2">45</tspan></text>
<text x="783.72" y="129.4">1A<tspan x="783.72" dy="5.2">03</tspan></text>
<text x="783.72" y="151.6">1C<tspan x="783.72" dy="5.2">44</tspan></text>
<text x="791.78" y="129.4">1B<tspan x="791.78" dy="5.2">04</tspan></text>
<text x="791.78" y="151.6">1A<tspan x="791.78" dy="5.2">43</tspan></text>
<text x="799.85" y="129.4">1B<tspan x="799.85" dy="5.2">05</tspan></text>
<text x="799.85" y="151.6">1D<tspan x="799.85" dy="5.2">42</tspan></text>
<text x="807.91" y="129.4">1D<tspan x="807.91" dy="5.2">06</tspan></text>
<text x="807.91" y="151.6">1C<tspan x="807.91" dy="5.2">41</tspan></text>
<text x="815.98" y="129.4">1D<tspan x="815.98" dy="5.2">07</tspan></text>
<text x="815.98" y="151.6">1B<tspan x="815.98" dy="5.2">40</tspan></text>
<text x="824.05" y="129.4">1C<tspan x="824.05" dy="5.2">08</tspan></text>
<text x="824.05" y="151.6">1D<tspan x="824.05" dy="5.2">39</tspan></text>
<text x="832.11" y="129.4">1C<tspan x="832.11" dy="5.2">09</tspan></text>
<text x="832.11" y="151.6">1A<tspan x="832.11" dy="5.2">38</tspan></text>
<text x="840.18" y="129.4">1A<tspan x="840.18" dy="5.2">10</tspan></text>
<text x="840.18" y="151.6">1B<tspan x="840.18" dy="5.2">37</tspan></text>
<text x="848.24" y="129.4">1B<tspan x="848.24" dy="5.2">11</tspan></text>
<text x="848.24" y="151.6">1D<tspan x="848.24" dy="5.2">36</tspan></text>
<text x="856.31" y="129.4">2C<tspan x="856.31" dy="5.2">12</tspan></text>
<text x="856.31" y="151.6">2D<tspan x="856.31" dy="5.2">35</tspan></text>
<text x="871.14" y="129.4">2C<tspan x="871.14" dy="5.2">13</tspan></text>
<text x="871.14" y="151.6">2D<tspan x="871.14" dy="5.2">34</tspan></text>
<text x="879.2" y="129.4">1D<tspan x="879.2" dy="5.2">14</tspan></text>
<text x="879.2" y="151.6">1B<tspan x="879.2" dy="5.2">33</tspan></text>
<text x="887.27" y="129.4">1B<tspan x="887.27" dy="5.2">15</tspan></text>
<text x="887.27" y="151.6">1D<tspan x="887.27" dy="5.2">32</tspan></text>
<text x="895.34" y="129.4">1A<tspan x="895.34" dy="5.2">16</tspan></text>
<text x="895.34" y="151.6">1B<tspan x="895.34" dy="5.2">31</tspan></text>
<text x="903.4" y="129.4">1D<tspan x="903.4" dy="5.2">17</tspan></text>
<text x="903.4" y="151.6">1B<tspan x="903.4" dy="5.2">30</tspan></text>
<text x="911.47" y="129.4">1B<tspan x="911.47" dy="5.2">18</tspan></text>
<text x="911.47" y="151.6">1A<tspan x="911.47" dy="5.2">29</tspan></text>
<text x="919.53" y="129.4">1C<tspan x="919.53" dy="5.2">19</tspan></text>
<text x="919.53" y="151.6">1A<tspan x="919.53" dy="5.2">28</tspan></text>
<text x="927.6" y="129.4">1D<tspan x="927.6" dy="5.2">20</tspan></text>
<text x="927.6" y="151.6">1C<tspan x="927.6" dy="5.2">27</tspan></text>
<text x="948.42" y="127.22" class="le">21</text>
<text x="948.42" y="133.65" class="le">22</text>
<text x="948.42" y="140.08" class="le">23</text>
<text x="948.42" y="146.52" class="le">24</text>
<text x="948.42" y="152.95" class="le">25</text>
<text x="948.42" y="159.38" class="le">26</text>
</g>
<rect x="582.4" y="111" width="19.6" height="4.8" rx="1.7" fill="#0b0b0b"/>
<text x="592.5" y="114.85" class="pl">LK14</text>
<path d="M580.8 184.75H733.84Q742.34 184.75 742.91 193.25L745.5 231.55Q746.07 240.05 737.57 240.05H580.8Q572.3 240.05 572.3 231.55V193.25Q572.3 184.75 580.8 184.75Z" class="ln"/>
<polygon points="584.3,192.65 586.43,192.65 586.43,209.75 580.3,209.75 580.3,196.65" fill="#92278f"/><polygon points="580.3,214.95 586.43,214.95 586.43,231.85 584.3,231.85 580.3,227.85" fill="#92278f"/><rect x="586.43" y="192.65" width="6.13" height="17.1" fill="#f07cb6"/><rect x="586.43" y="214.95" width="6.13" height="16.9" fill="#6ec5ee"/><rect x="592.56" y="192.65" width="6.13" height="17.1" fill="#f36c21"/><rect x="592.56" y="214.95" width="6.13" height="16.9" fill="#f07cb6"/><rect x="598.69" y="192.65" width="6.13" height="17.1" fill="#f07cb6"/><rect x="598.69" y="214.95" width="6.13" height="16.9" fill="#f36c21"/><rect x="604.82" y="192.65" width="6.13" height="17.1" fill="#f07cb6"/><rect x="604.82" y="214.95" width="6.13" height="16.9" fill="#76c043"/><rect x="610.95" y="192.65" width="6.13" height="17.1" fill="#6ec5ee"/><rect x="610.95" y="214.95" width="6.13" height="16.9" fill="#76c043"/><rect x="617.08" y="192.65" width="6.13" height="17.1" fill="#6ec5ee"/><rect x="617.08" y="214.95" width="6.13" height="16.9" fill="#f07cb6"/><rect x="623.21" y="192.65" width="6.13" height="17.1" fill="#76c043"/><rect x="623.21" y="214.95" width="6.13" height="16.9" fill="#f07cb6"/><rect x="629.34" y="192.65" width="6.13" height="17.1" fill="#76c043"/><rect x="629.34" y="214.95" width="6.13" height="16.9" fill="#f36c21"/><rect x="635.47" y="192.65" width="6.13" height="17.1" fill="#f36c21"/><rect x="635.47" y="214.95" width="6.13" height="16.9" fill="#76c043"/><rect x="641.6" y="192.65" width="6.13" height="17.1" fill="#76c043"/><rect x="641.6" y="214.95" width="6.13" height="16.9" fill="#6ec5ee"/><rect x="647.73" y="192.65" width="6.13" height="17.1" fill="#149b4a"/><rect x="647.73" y="214.95" width="6.13" height="16.9" fill="#149b4a"/><rect x="659" y="192.65" width="6.13" height="17.1" fill="#149b4a"/><rect x="659" y="214.95" width="6.13" height="16.9" fill="#149b4a"/><rect x="665.13" y="192.65" width="6.13" height="17.1" fill="#6ec5ee"/><rect x="665.13" y="214.95" width="6.13" height="16.9" fill="#76c043"/><rect x="671.26" y="192.65" width="6.13" height="17.1" fill="#76c043"/><rect x="671.26" y="214.95" width="6.13" height="16.9" fill="#6ec5ee"/><rect x="677.39" y="192.65" width="6.13" height="17.1" fill="#f36c21"/><rect x="677.39" y="214.95" width="6.13" height="16.9" fill="#f07cb6"/><rect x="683.52" y="192.65" width="6.13" height="17.1" fill="#f07cb6"/><rect x="683.52" y="214.95" width="6.13" height="16.9" fill="#f07cb6"/><rect x="689.65" y="192.65" width="6.13" height="17.1" fill="#f07cb6"/><rect x="689.65" y="214.95" width="6.13" height="16.9" fill="#f36c21"/><rect x="695.78" y="192.65" width="6.13" height="17.1" fill="#76c043"/><rect x="695.78" y="214.95" width="6.13" height="16.9" fill="#f36c21"/><rect x="701.91" y="192.65" width="6.13" height="17.1" fill="#76c043"/><rect x="701.91" y="214.95" width="6.13" height="16.9" fill="#76c043"/><rect x="708.04" y="192.65" width="6.13" height="17.1" fill="#f36c21"/><rect x="708.04" y="214.95" width="6.13" height="16.9" fill="#76c043"/>
<path d="M583.1 188.85L733.22 188.85L739.62 194.85L741.98 229.75L736.38 235.75L583.1 235.75L576.6 229.25L576.6 195.35ZM576.6 212.35L716.47 212.35M656.43 188.85L656.43 235.75M580.3 188.85L580.3 235.75M586.43 188.85L586.43 235.75M592.56 188.85L592.56 235.75M598.69 188.85L598.69 235.75M604.82 188.85L604.82 235.75M610.95 188.85L610.95 235.75M617.08 188.85L617.08 235.75M623.21 188.85L623.21 235.75M629.34 188.85L629.34 235.75M635.47 188.85L635.47 235.75M641.6 188.85L641.6 235.75M647.73 188.85L647.73 235.75M653.86 188.85L653.86 235.75M659 188.85L659 235.75M665.13 188.85L665.13 235.75M671.26 188.85L671.26 235.75M677.39 188.85L677.39 235.75M683.52 188.85L683.52 235.75M689.65 188.85L689.65 235.75M695.78 188.85L695.78 235.75M701.91 188.85L701.91 235.75M708.04 188.85L708.04 235.75M714.17 188.85L714.17 235.75M716.47 192.65L733.07 192.65L737.34 196.65L739.41 227.25L735.68 231.25L716.47 231.25ZM716.47 199.08L739.91 199.08M716.47 205.52L740.34 205.52M716.47 211.95L740.78 211.95M716.47 218.38L741.21 218.38M716.47 224.82L741.65 224.82" class="ll"/>
<g class="lt" transform="scale(0.76 1)">
<text x="767.59" y="200.65">3C<tspan x="767.59" dy="5.2">01</tspan></text>
<text x="767.59" y="222.85">3D<tspan x="767.59" dy="5.2">48</tspan></text>
<text x="775.65" y="200.65">1C<tspan x="775.65" dy="5.2">02</tspan></text>
<text x="775.65" y="222.85">1A<tspan x="775.65" dy="5.2">47</tspan></text>
<text x="783.72" y="200.65">1D<tspan x="783.72" dy="5.2">03</tspan></text>
<text x="783.72" y="222.85">1C<tspan x="783.72" dy="5.2">46</tspan></text>
<text x="791.78" y="200.65">1C<tspan x="791.78" dy="5.2">04</tspan></text>
<text x="791.78" y="222.85">1D<tspan x="791.78" dy="5.2">45</tspan></text>
<text x="799.85" y="200.65">1C<tspan x="799.85" dy="5.2">05</tspan></text>
<text x="799.85" y="222.85">1B<tspan x="799.85" dy="5.2">44</tspan></text>
<text x="807.91" y="200.65">1A<tspan x="807.91" dy="5.2">06</tspan></text>
<text x="807.91" y="222.85">1B<tspan x="807.91" dy="5.2">43</tspan></text>
<text x="815.98" y="200.65">1A<tspan x="815.98" dy="5.2">07</tspan></text>
<text x="815.98" y="222.85">1C<tspan x="815.98" dy="5.2">42</tspan></text>
<text x="824.05" y="200.65">1B<tspan x="824.05" dy="5.2">08</tspan></text>
<text x="824.05" y="222.85">1C<tspan x="824.05" dy="5.2">41</tspan></text>
<text x="832.11" y="200.65">1B<tspan x="832.11" dy="5.2">09</tspan></text>
<text x="832.11" y="222.85">1D<tspan x="832.11" dy="5.2">40</tspan></text>
<text x="840.18" y="200.65">1D<tspan x="840.18" dy="5.2">10</tspan></text>
<text x="840.18" y="222.85">1B<tspan x="840.18" dy="5.2">39</tspan></text>
<text x="848.24" y="200.65">1B<tspan x="848.24" dy="5.2">11</tspan></text>
<text x="848.24" y="222.85">1A<tspan x="848.24" dy="5.2">38</tspan></text>
<text x="856.31" y="200.65">2C<tspan x="856.31" dy="5.2">12</tspan></text>
<text x="856.31" y="222.85">2D<tspan x="856.31" dy="5.2">37</tspan></text>
<text x="871.14" y="200.65">2C<tspan x="871.14" dy="5.2">13</tspan></text>
<text x="871.14" y="222.85">2D<tspan x="871.14" dy="5.2">36</tspan></text>
<text x="879.2" y="200.65">1A<tspan x="879.2" dy="5.2">14</tspan></text>
<text x="879.2" y="222.85">1B<tspan x="879.2" dy="5.2">35</tspan></text>
<text x="887.27" y="200.65">1B<tspan x="887.27" dy="5.2">15</tspan></text>
<text x="887.27" y="222.85">1A<tspan x="887.27" dy="5.2">34</tspan></text>
<text x="895.34" y="200.65">1D<tspan x="895.34" dy="5.2">16</tspan></text>
<text x="895.34" y="222.85">1C<tspan x="895.34" dy="5.2">33</tspan></text>
<text x="903.4" y="200.65">1C<tspan x="903.4" dy="5.2">17</tspan></text>
<text x="903.4" y="222.85">1C<tspan x="903.4" dy="5.2">32</tspan></text>
<text x="911.47" y="200.65">1C<tspan x="911.47" dy="5.2">18</tspan></text>
<text x="911.47" y="222.85">1D<tspan x="911.47" dy="5.2">31</tspan></text>
<text x="919.53" y="200.65">1B<tspan x="919.53" dy="5.2">19</tspan></text>
<text x="919.53" y="222.85">1D<tspan x="919.53" dy="5.2">30</tspan></text>
<text x="927.6" y="200.65">1B<tspan x="927.6" dy="5.2">20</tspan></text>
<text x="927.6" y="222.85">1B<tspan x="927.6" dy="5.2">29</tspan></text>
<text x="935.66" y="200.65">1D<tspan x="935.66" dy="5.2">21</tspan></text>
<text x="935.66" y="222.85">1B<tspan x="935.66" dy="5.2">28</tspan></text>
<text x="955.62" y="198.47" class="le">22</text>
<text x="955.62" y="204.9" class="le">23</text>
<text x="955.62" y="211.33" class="le">24</text>
<text x="955.62" y="217.77" class="le">25</text>
<text x="955.62" y="224.2" class="le">26</text>
<text x="955.62" y="230.63" class="le">27</text>
</g>
<rect x="582.4" y="180.15" width="19.6" height="4.8" rx="1.7" fill="#0b0b0b"/>
<text x="592.5" y="184" class="pl">LK13</text>
<path d="M580.8 248.9H738.17Q746.67 248.9 747.24 257.4L749.83 295.7Q750.4 304.2 741.9 304.2H580.8Q572.3 304.2 572.3 295.7V257.4Q572.3 248.9 580.8 248.9Z" class="ln"/>
<polygon points="584.3,256.8 586.43,256.8 586.43,273.9 580.3,273.9 580.3,260.8" fill="#92278f"/><polygon points="580.3,279.1 586.43,279.1 586.43,296 584.3,296 580.3,292" fill="#92278f"/><rect x="586.43" y="256.8" width="6.13" height="17.1" fill="#f07cb6"/><rect x="586.43" y="279.1" width="6.13" height="16.9" fill="#f07cb6"/><rect x="592.56" y="256.8" width="6.13" height="17.1" fill="#6ec5ee"/><rect x="592.56" y="279.1" width="6.13" height="16.9" fill="#f07cb6"/><rect x="598.69" y="256.8" width="6.13" height="17.1" fill="#76c043"/><rect x="598.69" y="279.1" width="6.13" height="16.9" fill="#6ec5ee"/><rect x="604.82" y="256.8" width="6.13" height="17.1" fill="#76c043"/><rect x="604.82" y="279.1" width="6.13" height="16.9" fill="#f36c21"/><rect x="610.95" y="256.8" width="6.13" height="17.1" fill="#f36c21"/><rect x="610.95" y="279.1" width="6.13" height="16.9" fill="#f07cb6"/><rect x="617.08" y="256.8" width="6.13" height="17.1" fill="#f36c21"/><rect x="617.08" y="279.1" width="6.13" height="16.9" fill="#76c043"/><rect x="623.21" y="256.8" width="6.13" height="17.1" fill="#f07cb6"/><rect x="623.21" y="279.1" width="6.13" height="16.9" fill="#f36c21"/><rect x="629.34" y="256.8" width="6.13" height="17.1" fill="#f07cb6"/><rect x="629.34" y="279.1" width="6.13" height="16.9" fill="#6ec5ee"/><rect x="635.47" y="256.8" width="6.13" height="17.1" fill="#6ec5ee"/><rect x="635.47" y="279.1" width="6.13" height="16.9" fill="#76c043"/><rect x="641.6" y="256.8" width="6.13" height="17.1" fill="#76c043"/><rect x="641.6" y="279.1" width="6.13" height="16.9" fill="#f36c21"/><rect x="647.73" y="256.8" width="6.13" height="17.1" fill="#149b4a"/><rect x="647.73" y="279.1" width="6.13" height="16.9" fill="#149b4a"/><rect x="659" y="256.8" width="6.13" height="17.1" fill="#149b4a"/><rect x="659" y="279.1" width="6.13" height="16.9" fill="#149b4a"/><rect x="665.13" y="256.8" width="6.13" height="17.1" fill="#f36c21"/><rect x="665.13" y="279.1" width="6.13" height="16.9" fill="#76c043"/><rect x="671.26" y="256.8" width="6.13" height="17.1" fill="#76c043"/><rect x="671.26" y="279.1" width="6.13" height="16.9" fill="#f36c21"/><rect x="677.39" y="256.8" width="6.13" height="17.1" fill="#6ec5ee"/><rect x="677.39" y="279.1" width="6.13" height="16.9" fill="#76c043"/><rect x="683.52" y="256.8" width="6.13" height="17.1" fill="#f36c21"/><rect x="683.52" y="279.1" width="6.13" height="16.9" fill="#76c043"/><rect x="689.65" y="256.8" width="6.13" height="17.1" fill="#76c043"/><rect x="689.65" y="279.1" width="6.13" height="16.9" fill="#6ec5ee"/><rect x="695.78" y="256.8" width="6.13" height="17.1" fill="#f07cb6"/><rect x="695.78" y="279.1" width="6.13" height="16.9" fill="#6ec5ee"/><rect x="701.91" y="256.8" width="6.13" height="17.1" fill="#f36c21"/><rect x="701.91" y="279.1" width="6.13" height="16.9" fill="#f07cb6"/><rect x="708.04" y="256.8" width="6.13" height="17.1" fill="#6ec5ee"/><rect x="708.04" y="279.1" width="6.13" height="16.9" fill="#f07cb6"/><rect x="714.17" y="256.8" width="6.13" height="17.1" fill="#f07cb6"/><rect x="714.17" y="279.1" width="6.13" height="16.9" fill="#f36c21"/>
<path d="M583.1 253L737.55 253L743.95 259L746.31 293.9L740.71 299.9L583.1 299.9L576.6 293.4L576.6 259.5ZM576.6 276.5L722.6 276.5M656.43 253L656.43 299.9M580.3 253L580.3 299.9M586.43 253L586.43 299.9M592.56 253L592.56 299.9M598.69 253L598.69 299.9M604.82 253L604.82 299.9M610.95 253L610.95 299.9M617.08 253L617.08 299.9M623.21 253L623.21 299.9M629.34 253L629.34 299.9M635.47 253L635.47 299.9M641.6 253L641.6 299.9M647.73 253L647.73 299.9M653.86 253L653.86 299.9M659 253L659 299.9M665.13 253L665.13 299.9M671.26 253L671.26 299.9M677.39 253L677.39 299.9M683.52 253L683.52 299.9M689.65 253L689.65 299.9M695.78 253L695.78 299.9M701.91 253L701.91 299.9M708.04 253L708.04 299.9M714.17 253L714.17 299.9M720.3 253L720.3 299.9M722.6 256.8L737.4 256.8L741.67 260.8L743.74 291.4L740.01 295.4L722.6 295.4ZM722.6 263.23L744.24 263.23M722.6 269.67L744.67 269.67M722.6 276.1L745.11 276.1M722.6 282.53L745.54 282.53M722.6 288.97L745.98 288.97" class="ll"/>
<g class="lt" transform="scale(0.76 1)">
<text x="767.59" y="264.8">3C<tspan x="767.59" dy="5.2">01</tspan></text>
<text x="767.59" y="287">3D<tspan x="767.59" dy="5.2">50</tspan></text>
<text x="775.65" y="264.8">1C<tspan x="775.65" dy="5.2">02</tspan></text>
<text x="775.65" y="287">1C<tspan x="775.65" dy="5.2">49</tspan></text>
<text x="783.72" y="264.8">1A<tspan x="783.72" dy="5.2">03</tspan></text>
<text x="783.72" y="287">1C<tspan x="783.72" dy="5.2">48</tspan></text>
<text x="791.78" y="264.8">1B<tspan x="791.78" dy="5.2">04</tspan></text>
<text x="791.78" y="287">1A<tspan x="791.78" dy="5.2">47</tspan></text>
<text x="799.85" y="264.8">1B<tspan x="799.85" dy="5.2">05</tspan></text>
<text x="799.85" y="287">1D<tspan x="799.85" dy="5.2">46</tspan></text>
<text x="807.91" y="264.8">1D<tspan x="807.91" dy="5.2">06</tspan></text>
<text x="807.91" y="287">1C<tspan x="807.91" dy="5.2">45</tspan></text>
<text x="815.98" y="264.8">1D<tspan x="815.98" dy="5.2">07</tspan></text>
<text x="815.98" y="287">1B<tspan x="815.98" dy="5.2">44</tspan></text>
<text x="824.05" y="264.8">1C<tspan x="824.05" dy="5.2">08</tspan></text>
<text x="824.05" y="287">1D<tspan x="824.05" dy="5.2">43</tspan></text>
<text x="832.11" y="264.8">1C<tspan x="832.11" dy="5.2">09</tspan></text>
<text x="832.11" y="287">1A<tspan x="832.11" dy="5.2">42</tspan></text>
<text x="840.18" y="264.8">1A<tspan x="840.18" dy="5.2">10</tspan></text>
<text x="840.18" y="287">1B<tspan x="840.18" dy="5.2">41</tspan></text>
<text x="848.24" y="264.8">1B<tspan x="848.24" dy="5.2">11</tspan></text>
<text x="848.24" y="287">1D<tspan x="848.24" dy="5.2">40</tspan></text>
<text x="856.31" y="264.8">2C<tspan x="856.31" dy="5.2">12</tspan></text>
<text x="856.31" y="287">2D<tspan x="856.31" dy="5.2">39</tspan></text>
<text x="871.14" y="264.8">2C<tspan x="871.14" dy="5.2">13</tspan></text>
<text x="871.14" y="287">2D<tspan x="871.14" dy="5.2">38</tspan></text>
<text x="879.2" y="264.8">1D<tspan x="879.2" dy="5.2">14</tspan></text>
<text x="879.2" y="287">1B<tspan x="879.2" dy="5.2">37</tspan></text>
<text x="887.27" y="264.8">1B<tspan x="887.27" dy="5.2">15</tspan></text>
<text x="887.27" y="287">1D<tspan x="887.27" dy="5.2">36</tspan></text>
<text x="895.34" y="264.8">1A<tspan x="895.34" dy="5.2">16</tspan></text>
<text x="895.34" y="287">1B<tspan x="895.34" dy="5.2">35</tspan></text>
<text x="903.4" y="264.8">1D<tspan x="903.4" dy="5.2">17</tspan></text>
<text x="903.4" y="287">1B<tspan x="903.4" dy="5.2">34</tspan></text>
<text x="911.47" y="264.8">1B<tspan x="911.47" dy="5.2">18</tspan></text>
<text x="911.47" y="287">1A<tspan x="911.47" dy="5.2">33</tspan></text>
<text x="919.53" y="264.8">1C<tspan x="919.53" dy="5.2">19</tspan></text>
<text x="919.53" y="287">1A<tspan x="919.53" dy="5.2">32</tspan></text>
<text x="927.6" y="264.8">1D<tspan x="927.6" dy="5.2">20</tspan></text>
<text x="927.6" y="287">1C<tspan x="927.6" dy="5.2">31</tspan></text>
<text x="935.66" y="264.8">1A<tspan x="935.66" dy="5.2">21</tspan></text>
<text x="935.66" y="287">1C<tspan x="935.66" dy="5.2">30</tspan></text>
<text x="943.73" y="264.8">1C<tspan x="943.73" dy="5.2">22</tspan></text>
<text x="943.73" y="287">1D<tspan x="943.73" dy="5.2">29</tspan></text>
<text x="962.5" y="262.62" class="le">23</text>
<text x="962.5" y="269.05" class="le">24</text>
<text x="962.5" y="275.48" class="le">25</text>
<text x="962.5" y="281.92" class="le">26</text>
<text x="962.5" y="288.35" class="le">27</text>
<text x="962.5" y="294.78" class="le">28</text>
</g>
<rect x="582.4" y="244.3" width="19.6" height="4.8" rx="1.7" fill="#0b0b0b"/>
<text x="592.5" y="248.15" class="pl">LK12</text>
<path d="M580.8 312.8H742.48Q750.98 312.8 751.56 321.3L754.14 359.6Q754.72 368.1 746.22 368.1H580.8Q572.3 368.1 572.3 359.6V321.3Q572.3 312.8 580.8 312.8Z" class="ln"/>
<polygon points="584.3,320.7 586.43,320.7 586.43,337.8 580.3,337.8 580.3,324.7" fill="#92278f"/><polygon points="580.3,343 586.43,343 586.43,359.9 584.3,359.9 580.3,355.9" fill="#92278f"/><rect x="586.43" y="320.7" width="6.13" height="17.1" fill="#f07cb6"/><rect x="586.43" y="343" width="6.13" height="16.9" fill="#6ec5ee"/><rect x="592.56" y="320.7" width="6.13" height="17.1" fill="#f36c21"/><rect x="592.56" y="343" width="6.13" height="16.9" fill="#f07cb6"/><rect x="598.69" y="320.7" width="6.13" height="17.1" fill="#f07cb6"/><rect x="598.69" y="343" width="6.13" height="16.9" fill="#f36c21"/><rect x="604.82" y="320.7" width="6.13" height="17.1" fill="#f07cb6"/><rect x="604.82" y="343" width="6.13" height="16.9" fill="#76c043"/><rect x="610.95" y="320.7" width="6.13" height="17.1" fill="#6ec5ee"/><rect x="610.95" y="343" width="6.13" height="16.9" fill="#76c043"/><rect x="617.08" y="320.7" width="6.13" height="17.1" fill="#6ec5ee"/><rect x="617.08" y="343" width="6.13" height="16.9" fill="#f07cb6"/><rect x="623.21" y="320.7" width="6.13" height="17.1" fill="#76c043"/><rect x="623.21" y="343" width="6.13" height="16.9" fill="#f07cb6"/><rect x="629.34" y="320.7" width="6.13" height="17.1" fill="#76c043"/><rect x="629.34" y="343" width="6.13" height="16.9" fill="#f36c21"/><rect x="635.47" y="320.7" width="6.13" height="17.1" fill="#f36c21"/><rect x="635.47" y="343" width="6.13" height="16.9" fill="#76c043"/><rect x="641.6" y="320.7" width="6.13" height="17.1" fill="#76c043"/><rect x="641.6" y="343" width="6.13" height="16.9" fill="#6ec5ee"/><rect x="647.73" y="320.7" width="6.13" height="17.1" fill="#149b4a"/><rect x="647.73" y="343" width="6.13" height="16.9" fill="#149b4a"/><rect x="659" y="320.7" width="6.13" height="17.1" fill="#149b4a"/><rect x="659" y="343" width="6.13" height="16.9" fill="#149b4a"/><rect x="665.13" y="320.7" width="6.13" height="17.1" fill="#6ec5ee"/><rect x="665.13" y="343" width="6.13" height="16.9" fill="#76c043"/><rect x="671.26" y="320.7" width="6.13" height="17.1" fill="#76c043"/><rect x="671.26" y="343" width="6.13" height="16.9" fill="#6ec5ee"/><rect x="677.39" y="320.7" width="6.13" height="17.1" fill="#f36c21"/><rect x="677.39" y="343" width="6.13" height="16.9" fill="#f07cb6"/><rect x="683.52" y="320.7" width="6.13" height="17.1" fill="#f07cb6"/><rect x="683.52" y="343" width="6.13" height="16.9" fill="#f07cb6"/><rect x="689.65" y="320.7" width="6.13" height="17.1" fill="#f07cb6"/><rect x="689.65" y="343" width="6.13" height="16.9" fill="#f36c21"/><rect x="695.78" y="320.7" width="6.13" height="17.1" fill="#76c043"/><rect x="695.78" y="343" width="6.13" height="16.9" fill="#f36c21"/><rect x="701.91" y="320.7" width="6.13" height="17.1" fill="#76c043"/><rect x="701.91" y="343" width="6.13" height="16.9" fill="#76c043"/><rect x="708.04" y="320.7" width="6.13" height="17.1" fill="#f36c21"/><rect x="708.04" y="343" width="6.13" height="16.9" fill="#76c043"/><rect x="714.17" y="320.7" width="6.13" height="17.1" fill="#f07cb6"/><rect x="714.17" y="343" width="6.13" height="16.9" fill="#6ec5ee"/>
<path d="M583.1 316.9L741.86 316.9L748.27 322.9L750.62 357.8L745.03 363.8L583.1 363.8L576.6 357.3L576.6 323.4ZM576.6 340.4L722.6 340.4M656.43 316.9L656.43 363.8M580.3 316.9L580.3 363.8M586.43 316.9L586.43 363.8M592.56 316.9L592.56 363.8M598.69 316.9L598.69 363.8M604.82 316.9L604.82 363.8M610.95 316.9L610.95 363.8M617.08 316.9L617.08 363.8M623.21 316.9L623.21 363.8M629.34 316.9L629.34 363.8M635.47 316.9L635.47 363.8M641.6 316.9L641.6 363.8M647.73 316.9L647.73 363.8M653.86 316.9L653.86 363.8M659 316.9L659 363.8M665.13 316.9L665.13 363.8M671.26 316.9L671.26 363.8M677.39 316.9L677.39 363.8M683.52 316.9L683.52 363.8M689.65 316.9L689.65 363.8M695.78 316.9L695.78 363.8M701.91 316.9L701.91 363.8M708.04 316.9L708.04 363.8M714.17 316.9L714.17 363.8M720.3 316.9L720.3 363.8M722.6 320.7L741.72 320.7L745.99 324.7L748.05 355.3L744.32 359.3L722.6 359.3ZM722.6 327.13L748.55 327.13M722.6 333.57L748.99 333.57M722.6 340L749.42 340M722.6 346.43L749.85 346.43M722.6 352.87L750.29 352.87" class="ll"/>
<g class="lt" transform="scale(0.76 1)">
<text x="767.59" y="328.7">3C<tspan x="767.59" dy="5.2">01</tspan></text>
<text x="767.59" y="350.9">3D<tspan x="767.59" dy="5.2">50</tspan></text>
<text x="775.65" y="328.7">1C<tspan x="775.65" dy="5.2">02</tspan></text>
<text x="775.65" y="350.9">1A<tspan x="775.65" dy="5.2">49</tspan></text>
<text x="783.72" y="328.7">1D<tspan x="783.72" dy="5.2">03</tspan></text>
<text x="783.72" y="350.9">1C<tspan x="783.72" dy="5.2">48</tspan></text>
<text x="791.78" y="328.7">1C<tspan x="791.78" dy="5.2">04</tspan></text>
<text x="791.78" y="350.9">1D<tspan x="791.78" dy="5.2">47</tspan></text>
<text x="799.85" y="328.7">1C<tspan x="799.85" dy="5.2">05</tspan></text>
<text x="799.85" y="350.9">1B<tspan x="799.85" dy="5.2">46</tspan></text>
<text x="807.91" y="328.7">1A<tspan x="807.91" dy="5.2">06</tspan></text>
<text x="807.91" y="350.9">1B<tspan x="807.91" dy="5.2">45</tspan></text>
<text x="815.98" y="328.7">1A<tspan x="815.98" dy="5.2">07</tspan></text>
<text x="815.98" y="350.9">1C<tspan x="815.98" dy="5.2">44</tspan></text>
<text x="824.05" y="328.7">1B<tspan x="824.05" dy="5.2">08</tspan></text>
<text x="824.05" y="350.9">1C<tspan x="824.05" dy="5.2">43</tspan></text>
<text x="832.11" y="328.7">1B<tspan x="832.11" dy="5.2">09</tspan></text>
<text x="832.11" y="350.9">1D<tspan x="832.11" dy="5.2">42</tspan></text>
<text x="840.18" y="328.7">1D<tspan x="840.18" dy="5.2">10</tspan></text>
<text x="840.18" y="350.9">1B<tspan x="840.18" dy="5.2">41</tspan></text>
<text x="848.24" y="328.7">1B<tspan x="848.24" dy="5.2">11</tspan></text>
<text x="848.24" y="350.9">1A<tspan x="848.24" dy="5.2">40</tspan></text>
<text x="856.31" y="328.7">2C<tspan x="856.31" dy="5.2">12</tspan></text>
<text x="856.31" y="350.9">2D<tspan x="856.31" dy="5.2">39</tspan></text>
<text x="871.14" y="328.7">2C<tspan x="871.14" dy="5.2">13</tspan></text>
<text x="871.14" y="350.9">2D<tspan x="871.14" dy="5.2">38</tspan></text>
<text x="879.2" y="328.7">1A<tspan x="879.2" dy="5.2">14</tspan></text>
<text x="879.2" y="350.9">1B<tspan x="879.2" dy="5.2">37</tspan></text>
<text x="887.27" y="328.7">1B<tspan x="887.27" dy="5.2">15</tspan></text>
<text x="887.27" y="350.9">1A<tspan x="887.27" dy="5.2">36</tspan></text>
<text x="895.34" y="328.7">1D<tspan x="895.34" dy="5.2">16</tspan></text>
<text x="895.34" y="350.9">1C<tspan x="895.34" dy="5.2">35</tspan></text>
<text x="903.4" y="328.7">1C<tspan x="903.4" dy="5.2">17</tspan></text>
<text x="903.4" y="350.9">1C<tspan x="903.4" dy="5.2">34</tspan></text>
<text x="911.47" y="328.7">1C<tspan x="911.47" dy="5.2">18</tspan></text>
<text x="911.47" y="350.9">1D<tspan x="911.47" dy="5.2">33</tspan></text>
<text x="919.53" y="328.7">1B<tspan x="919.53" dy="5.2">19</tspan></text>
<text x="919.53" y="350.9">1D<tspan x="919.53" dy="5.2">32</tspan></text>
<text x="927.6" y="328.7">1B<tspan x="927.6" dy="5.2">20</tspan></text>
<text x="927.6" y="350.9">1B<tspan x="927.6" dy="5.2">31</tspan></text>
<text x="935.66" y="328.7">1D<tspan x="935.66" dy="5.2">21</tspan></text>
<text x="935.66" y="350.9">1B<tspan x="935.66" dy="5.2">30</tspan></text>
<text x="943.73" y="328.7">1C<tspan x="943.73" dy="5.2">22</tspan></text>
<text x="943.73" y="350.9">1A<tspan x="943.73" dy="5.2">29</tspan></text>
<text x="965.34" y="326.52" class="le">23</text>
<text x="965.34" y="332.95" class="le">24</text>
<text x="965.34" y="339.38" class="le">25</text>
<text x="965.34" y="345.82" class="le">26</text>
<text x="965.34" y="352.25" class="le">27</text>
<text x="965.34" y="358.68" class="le">28</text>
</g>
<rect x="582.4" y="308.2" width="19.6" height="4.8" rx="1.7" fill="#0b0b0b"/>
<text x="592.5" y="312.05" class="pl">LK11</text>
<path d="M580.8 377.2H746.83Q755.33 377.2 755.9 385.7L758.49 424Q759.06 432.5 750.56 432.5H580.8Q572.3 432.5 572.3 424V385.7Q572.3 377.2 580.8 377.2Z" class="ln"/>
<polygon points="584.3,385.1 586.43,385.1 586.43,402.2 580.3,402.2 580.3,389.1" fill="#92278f"/><polygon points="580.3,407.4 586.43,407.4 586.43,424.3 584.3,424.3 580.3,420.3" fill="#92278f"/><rect x="586.43" y="385.1" width="6.13" height="17.1" fill="#f07cb6"/><rect x="586.43" y="407.4" width="6.13" height="16.9" fill="#f07cb6"/><rect x="592.56" y="385.1" width="6.13" height="17.1" fill="#6ec5ee"/><rect x="592.56" y="407.4" width="6.13" height="16.9" fill="#f07cb6"/><rect x="598.69" y="385.1" width="6.13" height="17.1" fill="#76c043"/><rect x="598.69" y="407.4" width="6.13" height="16.9" fill="#6ec5ee"/><rect x="604.82" y="385.1" width="6.13" height="17.1" fill="#76c043"/><rect x="604.82" y="407.4" width="6.13" height="16.9" fill="#f36c21"/><rect x="610.95" y="385.1" width="6.13" height="17.1" fill="#f36c21"/><rect x="610.95" y="407.4" width="6.13" height="16.9" fill="#f07cb6"/><rect x="617.08" y="385.1" width="6.13" height="17.1" fill="#f36c21"/><rect x="617.08" y="407.4" width="6.13" height="16.9" fill="#76c043"/><rect x="623.21" y="385.1" width="6.13" height="17.1" fill="#f07cb6"/><rect x="623.21" y="407.4" width="6.13" height="16.9" fill="#f36c21"/><rect x="629.34" y="385.1" width="6.13" height="17.1" fill="#f07cb6"/><rect x="629.34" y="407.4" width="6.13" height="16.9" fill="#6ec5ee"/><rect x="635.47" y="385.1" width="6.13" height="17.1" fill="#6ec5ee"/><rect x="635.47" y="407.4" width="6.13" height="16.9" fill="#76c043"/><rect x="641.6" y="385.1" width="6.13" height="17.1" fill="#76c043"/><rect x="641.6" y="407.4" width="6.13" height="16.9" fill="#f36c21"/><rect x="647.73" y="385.1" width="6.13" height="17.1" fill="#149b4a"/><rect x="647.73" y="407.4" width="6.13" height="16.9" fill="#149b4a"/><rect x="659" y="385.1" width="6.13" height="17.1" fill="#149b4a"/><rect x="659" y="407.4" width="6.13" height="16.9" fill="#149b4a"/><rect x="665.13" y="385.1" width="6.13" height="17.1" fill="#f36c21"/><rect x="665.13" y="407.4" width="6.13" height="16.9" fill="#76c043"/><rect x="671.26" y="385.1" width="6.13" height="17.1" fill="#76c043"/><rect x="671.26" y="407.4" width="6.13" height="16.9" fill="#f36c21"/><rect x="677.39" y="385.1" width="6.13" height="17.1" fill="#6ec5ee"/><rect x="677.39" y="407.4" width="6.13" height="16.9" fill="#76c043"/><rect x="683.52" y="385.1" width="6.13" height="17.1" fill="#f36c21"/><rect x="683.52" y="407.4" width="6.13" height="16.9" fill="#76c043"/><rect x="689.65" y="385.1" width="6.13" height="17.1" fill="#76c043"/><rect x="689.65" y="407.4" width="6.13" height="16.9" fill="#6ec5ee"/><rect x="695.78" y="385.1" width="6.13" height="17.1" fill="#f07cb6"/><rect x="695.78" y="407.4" width="6.13" height="16.9" fill="#6ec5ee"/><rect x="701.91" y="385.1" width="6.13" height="17.1" fill="#f36c21"/><rect x="701.91" y="407.4" width="6.13" height="16.9" fill="#f07cb6"/><rect x="708.04" y="385.1" width="6.13" height="17.1" fill="#6ec5ee"/><rect x="708.04" y="407.4" width="6.13" height="16.9" fill="#f07cb6"/><rect x="714.17" y="385.1" width="6.13" height="17.1" fill="#f07cb6"/><rect x="714.17" y="407.4" width="6.13" height="16.9" fill="#f36c21"/><rect x="720.3" y="385.1" width="6.13" height="17.1" fill="#f07cb6"/><rect x="720.3" y="407.4" width="6.13" height="16.9" fill="#f07cb6"/>
<path d="M583.1 381.3L746.21 381.3L752.61 387.3L754.97 422.2L749.37 428.2L583.1 428.2L576.6 421.7L576.6 387.8ZM576.6 404.8L728.73 404.8M656.43 381.3L656.43 428.2M580.3 381.3L580.3 428.2M586.43 381.3L586.43 428.2M592.56 381.3L592.56 428.2M598.69 381.3L598.69 428.2M604.82 381.3L604.82 428.2M610.95 381.3L610.95 428.2M617.08 381.3L617.08 428.2M623.21 381.3L623.21 428.2M629.34 381.3L629.34 428.2M635.47 381.3L635.47 428.2M641.6 381.3L641.6 428.2M647.73 381.3L647.73 428.2M653.86 381.3L653.86 428.2M659 381.3L659 428.2M665.13 381.3L665.13 428.2M671.26 381.3L671.26 428.2M677.39 381.3L677.39 428.2M683.52 381.3L683.52 428.2M689.65 381.3L689.65 428.2M695.78 381.3L695.78 428.2M701.91 381.3L701.91 428.2M708.04 381.3L708.04 428.2M714.17 381.3L714.17 428.2M720.3 381.3L720.3 428.2M726.43 381.3L726.43 428.2M728.73 385.1L746.06 385.1L750.33 389.1L752.4 419.7L748.67 423.7L728.73 423.7ZM728.73 391.53L752.9 391.53M728.73 397.97L753.33 397.97M728.73 404.4L753.77 404.4M728.73 410.83L754.2 410.83M728.73 417.27L754.64 417.27" class="ll"/>
<g class="lt" transform="scale(0.76 1)">
<text x="767.59" y="393.1">3C<tspan x="767.59" dy="5.2">01</tspan></text>
<text x="767.59" y="415.3">3D<tspan x="767.59" dy="5.2">52</tspan></text>
<text x="775.65" y="393.1">1C<tspan x="775.65" dy="5.2">02</tspan></text>
<text x="775.65" y="415.3">1C<tspan x="775.65" dy="5.2">51</tspan></text>
<text x="783.72" y="393.1">1A<tspan x="783.72" dy="5.2">03</tspan></text>
<text x="783.72" y="415.3">1C<tspan x="783.72" dy="5.2">50</tspan></text>
<text x="791.78" y="393.1">1B<tspan x="791.78" dy="5.2">04</tspan></text>
<text x="791.78" y="415.3">1A<tspan x="791.78" dy="5.2">49</tspan></text>
<text x="799.85" y="393.1">1B<tspan x="799.85" dy="5.2">05</tspan></text>
<text x="799.85" y="415.3">1D<tspan x="799.85" dy="5.2">48</tspan></text>
<text x="807.91" y="393.1">1D<tspan x="807.91" dy="5.2">06</tspan></text>
<text x="807.91" y="415.3">1C<tspan x="807.91" dy="5.2">47</tspan></text>
<text x="815.98" y="393.1">1D<tspan x="815.98" dy="5.2">07</tspan></text>
<text x="815.98" y="415.3">1B<tspan x="815.98" dy="5.2">46</tspan></text>
<text x="824.05" y="393.1">1C<tspan x="824.05" dy="5.2">08</tspan></text>
<text x="824.05" y="415.3">1D<tspan x="824.05" dy="5.2">45</tspan></text>
<text x="832.11" y="393.1">1C<tspan x="832.11" dy="5.2">09</tspan></text>
<text x="832.11" y="415.3">1A<tspan x="832.11" dy="5.2">44</tspan></text>
<text x="840.18" y="393.1">1A<tspan x="840.18" dy="5.2">10</tspan></text>
<text x="840.18" y="415.3">1B<tspan x="840.18" dy="5.2">43</tspan></text>
<text x="848.24" y="393.1">1B<tspan x="848.24" dy="5.2">11</tspan></text>
<text x="848.24" y="415.3">1D<tspan x="848.24" dy="5.2">42</tspan></text>
<text x="856.31" y="393.1">2C<tspan x="856.31" dy="5.2">12</tspan></text>
<text x="856.31" y="415.3">2D<tspan x="856.31" dy="5.2">41</tspan></text>
<text x="871.14" y="393.1">2C<tspan x="871.14" dy="5.2">13</tspan></text>
<text x="871.14" y="415.3">2D<tspan x="871.14" dy="5.2">40</tspan></text>
<text x="879.2" y="393.1">1D<tspan x="879.2" dy="5.2">14</tspan></text>
<text x="879.2" y="415.3">1B<tspan x="879.2" dy="5.2">39</tspan></text>
<text x="887.27" y="393.1">1B<tspan x="887.27" dy="5.2">15</tspan></text>
<text x="887.27" y="415.3">1D<tspan x="887.27" dy="5.2">38</tspan></text>
<text x="895.34" y="393.1">1A<tspan x="895.34" dy="5.2">16</tspan></text>
<text x="895.34" y="415.3">1B<tspan x="895.34" dy="5.2">37</tspan></text>
<text x="903.4" y="393.1">1D<tspan x="903.4" dy="5.2">17</tspan></text>
<text x="903.4" y="415.3">1B<tspan x="903.4" dy="5.2">36</tspan></text>
<text x="911.47" y="393.1">1B<tspan x="911.47" dy="5.2">18</tspan></text>
<text x="911.47" y="415.3">1A<tspan x="911.47" dy="5.2">35</tspan></text>
<text x="919.53" y="393.1">1C<tspan x="919.53" dy="5.2">19</tspan></text>
<text x="919.53" y="415.3">1A<tspan x="919.53" dy="5.2">34</tspan></text>
<text x="927.6" y="393.1">1D<tspan x="927.6" dy="5.2">20</tspan></text>
<text x="927.6" y="415.3">1C<tspan x="927.6" dy="5.2">33</tspan></text>
<text x="935.66" y="393.1">1A<tspan x="935.66" dy="5.2">21</tspan></text>
<text x="935.66" y="415.3">1C<tspan x="935.66" dy="5.2">32</tspan></text>
<text x="943.73" y="393.1">1C<tspan x="943.73" dy="5.2">22</tspan></text>
<text x="943.73" y="415.3">1D<tspan x="943.73" dy="5.2">31</tspan></text>
<text x="951.8" y="393.1">1C<tspan x="951.8" dy="5.2">23</tspan></text>
<text x="951.8" y="415.3">1C<tspan x="951.8" dy="5.2">30</tspan></text>
<text x="972.23" y="390.92" class="le">24</text>
<text x="972.23" y="397.35" class="le">25</text>
<text x="972.23" y="403.78" class="le">26</text>
<text x="972.23" y="410.22" class="le">27</text>
<text x="972.23" y="416.65" class="le">28</text>
<text x="972.23" y="423.08" class="le">29</text>
</g>
<rect x="582.4" y="372.6" width="19.6" height="4.8" rx="1.7" fill="#0b0b0b"/>
<text x="592.5" y="376.45" class="pl">LK10</text>
<path d="M18 184.75 H222.1 Q232.1 184.75 232.1 194.75 V230.05 Q232.1 240.05 222.1 240.05 H9.5 Q0.3 240.05 1 232.05 L6.1 200.25 Q8.3 185.75 18 184.75 Z" class="ln"/>
<rect x="36.5" y="192.65" width="6.16" height="17.1" fill="#f07cb6"/><rect x="36.5" y="214.95" width="6.16" height="16.9" fill="#f36c21"/><rect x="42.66" y="192.65" width="6.16" height="17.1" fill="#f07cb6"/><rect x="42.66" y="214.95" width="6.16" height="16.9" fill="#f07cb6"/><rect x="48.81" y="192.65" width="6.16" height="17.1" fill="#f36c21"/><rect x="48.81" y="214.95" width="6.16" height="16.9" fill="#f07cb6"/><rect x="54.97" y="192.65" width="6.16" height="17.1" fill="#76c043"/><rect x="54.97" y="214.95" width="6.16" height="16.9" fill="#6ec5ee"/><rect x="61.12" y="192.65" width="6.16" height="17.1" fill="#6ec5ee"/><rect x="61.12" y="214.95" width="6.16" height="16.9" fill="#76c043"/><rect x="67.28" y="192.65" width="6.16" height="17.1" fill="#149b4a"/><rect x="67.28" y="214.95" width="6.16" height="16.9" fill="#149b4a"/><rect x="78.2" y="192.65" width="6.16" height="17.1" fill="#149b4a"/><rect x="78.2" y="214.95" width="6.16" height="16.9" fill="#149b4a"/><rect x="84.36" y="192.65" width="6.16" height="17.1" fill="#f07cb6"/><rect x="84.36" y="214.95" width="6.16" height="16.9" fill="#f07cb6"/><rect x="90.51" y="192.65" width="6.16" height="17.1" fill="#6ec5ee"/><rect x="90.51" y="214.95" width="6.16" height="16.9" fill="#f07cb6"/><rect x="96.67" y="192.65" width="6.16" height="17.1" fill="#76c043"/><rect x="96.67" y="214.95" width="6.16" height="16.9" fill="#6ec5ee"/><rect x="102.82" y="192.65" width="6.16" height="17.1" fill="#76c043"/><rect x="102.82" y="214.95" width="6.16" height="16.9" fill="#f36c21"/><rect x="108.98" y="192.65" width="6.16" height="17.1" fill="#f36c21"/><rect x="108.98" y="214.95" width="6.16" height="16.9" fill="#f07cb6"/><rect x="115.13" y="192.65" width="6.16" height="17.1" fill="#f36c21"/><rect x="115.13" y="214.95" width="6.16" height="16.9" fill="#76c043"/><rect x="121.28" y="192.65" width="6.16" height="17.1" fill="#f07cb6"/><rect x="121.28" y="214.95" width="6.16" height="16.9" fill="#f36c21"/><rect x="127.44" y="192.65" width="6.16" height="17.1" fill="#f07cb6"/><rect x="127.44" y="214.95" width="6.16" height="16.9" fill="#6ec5ee"/><rect x="133.59" y="192.65" width="6.16" height="17.1" fill="#6ec5ee"/><rect x="133.59" y="214.95" width="6.16" height="16.9" fill="#76c043"/><rect x="139.75" y="192.65" width="6.16" height="17.1" fill="#76c043"/><rect x="139.75" y="214.95" width="6.16" height="16.9" fill="#f36c21"/><rect x="145.91" y="192.65" width="6.16" height="17.1" fill="#149b4a"/><rect x="145.91" y="214.95" width="6.16" height="16.9" fill="#149b4a"/><rect x="156.8" y="192.65" width="6.17" height="17.1" fill="#149b4a"/><rect x="156.8" y="214.95" width="6.17" height="16.9" fill="#149b4a"/><rect x="162.97" y="192.65" width="6.17" height="17.1" fill="#f36c21"/><rect x="162.97" y="214.95" width="6.17" height="16.9" fill="#76c043"/><rect x="169.14" y="192.65" width="6.17" height="17.1" fill="#76c043"/><rect x="169.14" y="214.95" width="6.17" height="16.9" fill="#f36c21"/><rect x="175.31" y="192.65" width="6.17" height="17.1" fill="#6ec5ee"/><rect x="175.31" y="214.95" width="6.17" height="16.9" fill="#76c043"/><rect x="181.48" y="192.65" width="6.17" height="17.1" fill="#f36c21"/><rect x="181.48" y="214.95" width="6.17" height="16.9" fill="#76c043"/><rect x="187.65" y="192.65" width="6.17" height="17.1" fill="#76c043"/><rect x="187.65" y="214.95" width="6.17" height="16.9" fill="#6ec5ee"/><rect x="193.82" y="192.65" width="6.17" height="17.1" fill="#f07cb6"/><rect x="193.82" y="214.95" width="6.17" height="16.9" fill="#6ec5ee"/><rect x="199.99" y="192.65" width="6.17" height="17.1" fill="#f36c21"/><rect x="199.99" y="214.95" width="6.17" height="16.9" fill="#f07cb6"/><rect x="206.16" y="192.65" width="6.17" height="17.1" fill="#6ec5ee"/><rect x="206.16" y="214.95" width="6.17" height="16.9" fill="#f07cb6"/><rect x="212.33" y="192.65" width="6.17" height="17.1" fill="#f07cb6"/><rect x="212.33" y="214.95" width="6.17" height="16.9" fill="#f36c21"/><polygon points="218.5,192.65 220.67,192.65 224.67,196.65 224.67,209.75 218.5,209.75" fill="#92278f"/><polygon points="218.5,214.95 224.67,214.95 224.67,227.85 220.67,231.85 218.5,231.85" fill="#92278f"/>
<path d="M23 188.85L222.3 188.85L227.7 194.35L227.7 230.25L222.3 235.75L11.5 235.75L7.2 229.75L12.4 199.35ZM9.5 212.35L227.7 212.35M75.81 188.85L75.81 235.75M154.43 188.85L154.43 235.75M36.5 188.85L36.5 235.75M42.66 188.85L42.66 235.75M48.81 188.85L48.81 235.75M54.97 188.85L54.97 235.75M61.12 188.85L61.12 235.75M67.28 188.85L67.28 235.75M73.43 188.85L73.43 235.75M78.2 188.85L78.2 235.75M84.36 188.85L84.36 235.75M90.51 188.85L90.51 235.75M96.67 188.85L96.67 235.75M102.82 188.85L102.82 235.75M108.98 188.85L108.98 235.75M115.13 188.85L115.13 235.75M121.28 188.85L121.28 235.75M127.44 188.85L127.44 235.75M133.59 188.85L133.59 235.75M139.75 188.85L139.75 235.75M145.91 188.85L145.91 235.75M152.06 188.85L152.06 235.75M156.8 188.85L156.8 235.75M162.97 188.85L162.97 235.75M169.14 188.85L169.14 235.75M175.31 188.85L175.31 235.75M181.48 188.85L181.48 235.75M187.65 188.85L187.65 235.75M193.82 188.85L193.82 235.75M199.99 188.85L199.99 235.75M206.16 188.85L206.16 235.75M212.33 188.85L212.33 235.75M218.5 188.85L218.5 235.75M224.67 188.85L224.67 235.75M25 192.65L33.9 192.65L33.9 231.85L14.6 231.85L11.84 228.85L16.9 199.95ZM12.57 199.18L33.9 199.18M11.29 205.72L33.9 205.72M10.14 212.25L33.9 212.25M9 218.78L33.9 218.78M7.86 225.32L33.9 225.32" class="ll"/>
<g class="lt" transform="scale(0.76 1)">
<text x="52.08" y="200.65">1C<tspan x="52.08" dy="5.2">01</tspan></text>
<text x="52.08" y="222.85">1D<tspan x="52.08" dy="5.2">58</tspan></text>
<text x="60.17" y="200.65">1C<tspan x="60.17" dy="5.2">02</tspan></text>
<text x="60.17" y="222.85">1C<tspan x="60.17" dy="5.2">57</tspan></text>
<text x="68.27" y="200.65">1D<tspan x="68.27" dy="5.2">03</tspan></text>
<text x="68.27" y="222.85">1C<tspan x="68.27" dy="5.2">56</tspan></text>
<text x="76.37" y="200.65">1B<tspan x="76.37" dy="5.2">04</tspan></text>
<text x="76.37" y="222.85">1A<tspan x="76.37" dy="5.2">55</tspan></text>
<text x="84.47" y="200.65">1A<tspan x="84.47" dy="5.2">05</tspan></text>
<text x="84.47" y="222.85">1B<tspan x="84.47" dy="5.2">54</tspan></text>
<text x="92.57" y="200.65">2C<tspan x="92.57" dy="5.2">06</tspan></text>
<text x="92.57" y="222.85">2D<tspan x="92.57" dy="5.2">53</tspan></text>
<text x="106.94" y="200.65">2C<tspan x="106.94" dy="5.2">07</tspan></text>
<text x="106.94" y="222.85">2D<tspan x="106.94" dy="5.2">52</tspan></text>
<text x="115.04" y="200.65">1C<tspan x="115.04" dy="5.2">08</tspan></text>
<text x="115.04" y="222.85">1C<tspan x="115.04" dy="5.2">51</tspan></text>
<text x="123.14" y="200.65">1A<tspan x="123.14" dy="5.2">09</tspan></text>
<text x="123.14" y="222.85">1C<tspan x="123.14" dy="5.2">50</tspan></text>
<text x="131.24" y="200.65">1B<tspan x="131.24" dy="5.2">10</tspan></text>
<text x="131.24" y="222.85">1A<tspan x="131.24" dy="5.2">49</tspan></text>
<text x="139.34" y="200.65">1B<tspan x="139.34" dy="5.2">11</tspan></text>
<text x="139.34" y="222.85">1D<tspan x="139.34" dy="5.2">48</tspan></text>
<text x="147.44" y="200.65">1D<tspan x="147.44" dy="5.2">12</tspan></text>
<text x="147.44" y="222.85">1C<tspan x="147.44" dy="5.2">47</tspan></text>
<text x="155.54" y="200.65">1D<tspan x="155.54" dy="5.2">13</tspan></text>
<text x="155.54" y="222.85">1B<tspan x="155.54" dy="5.2">46</tspan></text>
<text x="163.63" y="200.65">1C<tspan x="163.63" dy="5.2">14</tspan></text>
<text x="163.63" y="222.85">1D<tspan x="163.63" dy="5.2">45</tspan></text>
<text x="171.73" y="200.65">1C<tspan x="171.73" dy="5.2">15</tspan></text>
<text x="171.73" y="222.85">1A<tspan x="171.73" dy="5.2">44</tspan></text>
<text x="179.83" y="200.65">1A<tspan x="179.83" dy="5.2">16</tspan></text>
<text x="179.83" y="222.85">1B<tspan x="179.83" dy="5.2">43</tspan></text>
<text x="187.93" y="200.65">1B<tspan x="187.93" dy="5.2">17</tspan></text>
<text x="187.93" y="222.85">1D<tspan x="187.93" dy="5.2">42</tspan></text>
<text x="196.03" y="200.65">2C<tspan x="196.03" dy="5.2">18</tspan></text>
<text x="196.03" y="222.85">2D<tspan x="196.03" dy="5.2">41</tspan></text>
<text x="210.38" y="200.65">2A<tspan x="210.38" dy="5.2">19</tspan></text>
<text x="210.38" y="222.85">2B<tspan x="210.38" dy="5.2">40</tspan></text>
<text x="218.49" y="200.65">1D<tspan x="218.49" dy="5.2">20</tspan></text>
<text x="218.49" y="222.85">1B<tspan x="218.49" dy="5.2">39</tspan></text>
<text x="226.61" y="200.65">1B<tspan x="226.61" dy="5.2">21</tspan></text>
<text x="226.61" y="222.85">1D<tspan x="226.61" dy="5.2">38</tspan></text>
<text x="234.73" y="200.65">1A<tspan x="234.73" dy="5.2">22</tspan></text>
<text x="234.73" y="222.85">1B<tspan x="234.73" dy="5.2">37</tspan></text>
<text x="242.85" y="200.65">1D<tspan x="242.85" dy="5.2">23</tspan></text>
<text x="242.85" y="222.85">1B<tspan x="242.85" dy="5.2">36</tspan></text>
<text x="250.97" y="200.65">1B<tspan x="250.97" dy="5.2">24</tspan></text>
<text x="250.97" y="222.85">1A<tspan x="250.97" dy="5.2">35</tspan></text>
<text x="259.09" y="200.65">1C<tspan x="259.09" dy="5.2">25</tspan></text>
<text x="259.09" y="222.85">1A<tspan x="259.09" dy="5.2">34</tspan></text>
<text x="267.2" y="200.65">1D<tspan x="267.2" dy="5.2">26</tspan></text>
<text x="267.2" y="222.85">1C<tspan x="267.2" dy="5.2">33</tspan></text>
<text x="275.32" y="200.65">1A<tspan x="275.32" dy="5.2">27</tspan></text>
<text x="275.32" y="222.85">1C<tspan x="275.32" dy="5.2">32</tspan></text>
<text x="283.44" y="200.65">1C<tspan x="283.44" dy="5.2">28</tspan></text>
<text x="283.44" y="222.85">1D<tspan x="283.44" dy="5.2">31</tspan></text>
<text x="291.56" y="200.65">3A<tspan x="291.56" dy="5.2">29</tspan></text>
<text x="291.56" y="222.85">3B<tspan x="291.56" dy="5.2">30</tspan></text>
<text x="33.55" y="198.52" class="le">64</text>
<text x="33.55" y="205.05" class="le">63</text>
<text x="33.55" y="211.58" class="le">62</text>
<text x="33.55" y="218.12" class="le">61</text>
<text x="33.55" y="224.65" class="le">60</text>
<text x="33.55" y="231.18" class="le">59</text>
</g>
<rect x="22.3" y="180.15" width="18.8" height="4.8" rx="1.7" fill="#0b0b0b"/>
<text x="32" y="184" class="pl">LK01</text>
<path d="M256 440.5H555.2Q563.75 440.5 563.75 449V521.2Q563.75 531.2 554 529.6L258.5 476Q247.5 474 247.5 464.5V449Q247.5 440.5 256 440.5Z" class="ln"/>
<path d="M318.5 449.6H452.5Q458.5 449.6 454.5 453.6L430 471.2Q427 473.4 423.5 472.3L318 453.6Q313.5 451.6 318.5 449.6Z" class="ln"/>
<path d="M477.5 451.2Q479.2 449.2 481 451.2L506.3 483.8Q508.3 486.8 504.3 486.2L442.4 475Q437.9 474 441.4 471Z" class="ln"/>
<path d="M497.5 449.8H557Q559.4 449.8 559.4 452V493.5Q559.4 497 556 496.2L522 490.4Q519 489.9 517.2 487.5L495.3 453.3Q493.8 449.8 497.5 449.8Z" class="ln"/>
<path d="M257.5 444.2L554.4 444.2L559.4 449.2L559.4 519L555.6 523.6L258.13 472.33L252 466L252 451Z" class="ll"/>
<g transform="translate(263.75 452) rotate(10)">
<rect x="0" y="0" width="6.17" height="17.5" fill="#6ec5ee"/><rect x="6.17" y="0" width="6.17" height="17.5" fill="#f07cb6"/><rect x="12.34" y="0" width="6.17" height="17.5" fill="#f36c21"/><rect x="18.51" y="0" width="6.17" height="17.5" fill="#76c043"/><rect x="24.68" y="0" width="6.17" height="17.5" fill="#76c043"/><rect x="30.85" y="0" width="6.17" height="17.5" fill="#f07cb6"/><rect x="37.02" y="0" width="6.17" height="17.5" fill="#f07cb6"/><rect x="43.19" y="0" width="6.17" height="17.5" fill="#f36c21"/><rect x="49.36" y="0" width="6.17" height="17.5" fill="#76c043"/><rect x="55.53" y="0" width="6.17" height="17.5" fill="#6ec5ee"/><rect x="61.7" y="0" width="6.17" height="17.5" fill="#149b4a"/><rect x="72.4" y="0" width="6.17" height="17.5" fill="#149b4a"/><rect x="78.57" y="0" width="6.17" height="17.5" fill="#76c043"/><rect x="84.74" y="0" width="6.17" height="17.5" fill="#6ec5ee"/><rect x="90.91" y="0" width="6.17" height="17.5" fill="#f07cb6"/><rect x="97.08" y="0" width="6.17" height="17.5" fill="#f07cb6"/><rect x="103.25" y="0" width="6.17" height="17.5" fill="#f36c21"/><rect x="109.42" y="0" width="6.17" height="17.5" fill="#f36c21"/><rect x="115.59" y="0" width="6.17" height="17.5" fill="#76c043"/><rect x="121.76" y="0" width="6.17" height="17.5" fill="#76c043"/><rect x="127.93" y="0" width="6.17" height="17.5" fill="#6ec5ee"/><rect x="134.1" y="0" width="6.17" height="17.5" fill="#e4187f"/><rect x="146.6" y="0" width="6.17" height="17.5" fill="#e4187f"/><rect x="152.77" y="0" width="6.17" height="17.5" fill="#f36c21"/><rect x="158.94" y="0" width="6.17" height="17.5" fill="#f07cb6"/><rect x="165.11" y="0" width="6.17" height="17.5" fill="#6ec5ee"/><rect x="171.28" y="0" width="6.17" height="17.5" fill="#f36c21"/><rect x="177.45" y="0" width="6.17" height="17.5" fill="#f07cb6"/><rect x="183.62" y="0" width="6.17" height="17.5" fill="#76c043"/><rect x="189.79" y="0" width="6.17" height="17.5" fill="#f36c21"/><rect x="195.96" y="0" width="6.17" height="17.5" fill="#6ec5ee"/><rect x="202.13" y="0" width="6.17" height="17.5" fill="#76c043"/><rect x="208.3" y="0" width="6.17" height="17.5" fill="#76c043"/><rect x="214.47" y="0" width="6.17" height="17.5" fill="#149b4a"/><rect x="225.3" y="0" width="6.17" height="17.5" fill="#149b4a"/><rect x="231.47" y="0" width="6.17" height="17.5" fill="#76c043"/><rect x="237.64" y="0" width="6.17" height="17.5" fill="#f36c21"/><rect x="243.81" y="0" width="6.17" height="17.5" fill="#76c043"/><rect x="249.98" y="0" width="6.17" height="17.5" fill="#76c043"/><rect x="256.15" y="0" width="6.17" height="17.5" fill="#6ec5ee"/><rect x="262.32" y="0" width="6.17" height="17.5" fill="#6ec5ee"/><rect x="268.49" y="0" width="6.17" height="17.5" fill="#f07cb6"/>
<path d="M-11.3 -3.2L137.3 -3.2L140.3 -0.2L140.3 18L137.3 21M149.6 21L146.6 18L146.6 -0.2L149.6 -3.2L300 -3.2M70.15 -3.2L70.15 21M222.95 -3.2L222.95 21M0 -3.2L0 21M6.17 -3.2L6.17 21M12.34 -3.2L12.34 21M18.51 -3.2L18.51 21M24.68 -3.2L24.68 21M30.85 -3.2L30.85 21M37.02 -3.2L37.02 21M43.19 -3.2L43.19 21M49.36 -3.2L49.36 21M55.53 -3.2L55.53 21M61.7 -3.2L61.7 21M67.87 -3.2L67.87 21M72.4 -3.2L72.4 21M78.57 -3.2L78.57 21M84.74 -3.2L84.74 21M90.91 -3.2L90.91 21M97.08 -3.2L97.08 21M103.25 -3.2L103.25 21M109.42 -3.2L109.42 21M115.59 -3.2L115.59 21M121.76 -3.2L121.76 21M127.93 -3.2L127.93 21M134.1 -3.2L134.1 21M140.27 -3.2L140.27 21M146.6 -3.2L146.6 21M152.77 -3.2L152.77 21M158.94 -3.2L158.94 21M165.11 -3.2L165.11 21M171.28 -3.2L171.28 21M177.45 -3.2L177.45 21M183.62 -3.2L183.62 21M189.79 -3.2L189.79 21M195.96 -3.2L195.96 21M202.13 -3.2L202.13 21M208.3 -3.2L208.3 21M214.47 -3.2L214.47 21M220.64 -3.2L220.64 21M225.3 -3.2L225.3 21M231.47 -3.2L231.47 21M237.64 -3.2L237.64 21M243.81 -3.2L243.81 21M249.98 -3.2L249.98 21M256.15 -3.2L256.15 21M262.32 -3.2L262.32 21M268.49 -3.2L268.49 21M274.66 -3.2L274.66 21" class="ll"/>
<g class="lt" transform="scale(0.76 1)">
<text x="4.06" y="8">1A<tspan x="4.06" dy="5.2">02</tspan></text>
<text x="12.18" y="8">1C<tspan x="12.18" dy="5.2">03</tspan></text>
<text x="20.3" y="8">1D<tspan x="20.3" dy="5.2">04</tspan></text>
<text x="28.41" y="8">1B<tspan x="28.41" dy="5.2">05</tspan></text>
<text x="36.53" y="8">1B<tspan x="36.53" dy="5.2">06</tspan></text>
<text x="44.65" y="8">1C<tspan x="44.65" dy="5.2">07</tspan></text>
<text x="52.77" y="8">1C<tspan x="52.77" dy="5.2">08</tspan></text>
<text x="60.89" y="8">1D<tspan x="60.89" dy="5.2">09</tspan></text>
<text x="69.01" y="8">1B<tspan x="69.01" dy="5.2">10</tspan></text>
<text x="77.12" y="8">1A<tspan x="77.12" dy="5.2">11</tspan></text>
<text x="85.24" y="8">2C<tspan x="85.24" dy="5.2">12</tspan></text>
<text x="99.32" y="8">2C<tspan x="99.32" dy="5.2">13</tspan></text>
<text x="107.44" y="8">1B<tspan x="107.44" dy="5.2">14</tspan></text>
<text x="115.56" y="8">1A<tspan x="115.56" dy="5.2">15</tspan></text>
<text x="123.68" y="8">1C<tspan x="123.68" dy="5.2">16</tspan></text>
<text x="131.8" y="8">1C<tspan x="131.8" dy="5.2">17</tspan></text>
<text x="139.91" y="8">1D<tspan x="139.91" dy="5.2">18</tspan></text>
<text x="148.03" y="8">1D<tspan x="148.03" dy="5.2">19</tspan></text>
<text x="156.15" y="8">1B<tspan x="156.15" dy="5.2">20</tspan></text>
<text x="164.27" y="8">1B<tspan x="164.27" dy="5.2">21</tspan></text>
<text x="172.39" y="8">1A<tspan x="172.39" dy="5.2">22</tspan></text>
<text x="180.51" y="8">4A<tspan x="180.51" dy="5.2">23</tspan></text>
<text x="196.95" y="8">4A<tspan x="196.95" dy="5.2">24</tspan></text>
<text x="205.07" y="8">1D<tspan x="205.07" dy="5.2">25</tspan></text>
<text x="213.19" y="8">1C<tspan x="213.19" dy="5.2">26</tspan></text>
<text x="221.31" y="8">1A<tspan x="221.31" dy="5.2">27</tspan></text>
<text x="229.43" y="8">1D<tspan x="229.43" dy="5.2">28</tspan></text>
<text x="237.55" y="8">1C<tspan x="237.55" dy="5.2">29</tspan></text>
<text x="245.66" y="8">1B<tspan x="245.66" dy="5.2">30</tspan></text>
<text x="253.78" y="8">1D<tspan x="253.78" dy="5.2">31</tspan></text>
<text x="261.9" y="8">1A<tspan x="261.9" dy="5.2">32</tspan></text>
<text x="270.02" y="8">1B<tspan x="270.02" dy="5.2">33</tspan></text>
<text x="278.14" y="8">1B<tspan x="278.14" dy="5.2">34</tspan></text>
<text x="286.26" y="8">2C<tspan x="286.26" dy="5.2">35</tspan></text>
<text x="300.51" y="8">2C<tspan x="300.51" dy="5.2">36</tspan></text>
<text x="308.62" y="8">1B<tspan x="308.62" dy="5.2">37</tspan></text>
<text x="316.74" y="8">1D<tspan x="316.74" dy="5.2">38</tspan></text>
<text x="324.86" y="8">1B<tspan x="324.86" dy="5.2">39</tspan></text>
<text x="332.98" y="8">1B<tspan x="332.98" dy="5.2">40</tspan></text>
<text x="341.1" y="8">1A<tspan x="341.1" dy="5.2">41</tspan></text>
<text x="349.22" y="8">1A<tspan x="349.22" dy="5.2">42</tspan></text>
<text x="357.34" y="8">1C<tspan x="357.34" dy="5.2">43</tspan></text>
</g>
</g>
<path d="M255.67 450.58L263.75 452L260.71 469.23L257.76 468.71L255.67 464.5ZM255.67 450.58L252 449.98M537.5 498.9L556.3 502.1L556.3 517.6L553.2 520.7L534.5 517.2ZM536.5 505L559.4 509M535.5 511.1L559.4 515.4" class="ll"/>
<g class="lt" transform="scale(0.76 1)">
<text x="340" y="459.6" class="le">01</text>
<text x="717.63" y="503.85" class="le">44</text>
<text x="716.78" y="510.35" class="le">45</text>
<text x="715.79" y="517" class="le">46</text>
</g>
<rect x="257.6" y="436" width="19.6" height="4.8" rx="1.7" fill="#0b0b0b"/>
<text x="267.7" y="439.85" class="pl">LK07</text>
<path d="M580.8 440.3 H752.12 Q760.62 440.3 761.12 448.8 L768.15 557.5 Q768.75 567.6 759.15 566 L581 535 Q572.3 533.5 572.3 525 V448.8 Q572.3 440.3 580.8 440.3 Z" class="ln"/>
<polygon points="584.3,448.2 586.43,448.2 586.43,465.3 580.3,465.3 580.3,452.2" fill="#92278f"/><rect x="586.43" y="448.2" width="6.13" height="17.1" fill="#f07cb6"/><rect x="592.56" y="448.2" width="6.13" height="17.1" fill="#f36c21"/><rect x="598.69" y="448.2" width="6.13" height="17.1" fill="#f07cb6"/><rect x="604.82" y="448.2" width="6.13" height="17.1" fill="#f07cb6"/><rect x="610.95" y="448.2" width="6.13" height="17.1" fill="#6ec5ee"/><rect x="617.08" y="448.2" width="6.13" height="17.1" fill="#6ec5ee"/><rect x="623.21" y="448.2" width="6.13" height="17.1" fill="#76c043"/><rect x="629.34" y="448.2" width="6.13" height="17.1" fill="#76c043"/><rect x="635.47" y="448.2" width="6.13" height="17.1" fill="#f36c21"/><rect x="641.6" y="448.2" width="6.13" height="17.1" fill="#76c043"/><rect x="647.73" y="448.2" width="6.13" height="17.1" fill="#149b4a"/><rect x="658.8" y="448.2" width="6.13" height="17.1" fill="#149b4a"/><rect x="664.93" y="448.2" width="6.13" height="17.1" fill="#6ec5ee"/><rect x="671.06" y="448.2" width="6.13" height="17.1" fill="#76c043"/><rect x="677.19" y="448.2" width="6.13" height="17.1" fill="#f36c21"/><rect x="683.32" y="448.2" width="6.13" height="17.1" fill="#f07cb6"/><rect x="689.45" y="448.2" width="6.13" height="17.1" fill="#f07cb6"/><rect x="695.58" y="448.2" width="6.13" height="17.1" fill="#76c043"/><rect x="701.71" y="448.2" width="6.13" height="17.1" fill="#76c043"/><rect x="707.84" y="448.2" width="6.13" height="17.1" fill="#f36c21"/><rect x="713.97" y="448.2" width="6.13" height="17.1" fill="#f07cb6"/><rect x="720.1" y="448.2" width="6.13" height="17.1" fill="#6ec5ee"/><rect x="726.23" y="448.2" width="6.13" height="17.1" fill="#f07cb6"/>
<path d="M582.1 444.4L751.38 444.4L757.78 450.4L764.46 555.6L760.08 560.4L582.2 530.2L576.6 524.2L576.6 449.9ZM576.6 469L758.96 469M656.43 444.4L656.43 469M580.3 444.4L580.3 468.5M586.43 444.4L586.43 468.5M592.56 444.4L592.56 468.5M598.69 444.4L598.69 468.5M604.82 444.4L604.82 468.5M610.95 444.4L610.95 468.5M617.08 444.4L617.08 468.5M623.21 444.4L623.21 468.5M629.34 444.4L629.34 468.5M635.47 444.4L635.47 468.5M641.6 444.4L641.6 468.5M647.73 444.4L647.73 468.5M653.86 444.4L653.86 468.5M658.8 444.4L658.8 468.5M664.93 444.4L664.93 468.5M671.06 444.4L671.06 468.5M677.19 444.4L677.19 468.5M683.32 444.4L683.32 468.5M689.45 444.4L689.45 468.5M695.58 444.4L695.58 468.5M701.71 444.4L701.71 468.5M707.84 444.4L707.84 468.5M713.97 444.4L713.97 468.5M720.1 444.4L720.1 468.5M726.23 444.4L726.23 468.5M732.36 444.4L732.36 468.5M734.66 448.8L751.86 448.8L755.56 452.3L756.57 467.6L734.66 467.6ZM734.66 455.07L758.06 455.07M734.66 461.33L758.47 461.33" class="ll"/>
<g class="lt" transform="scale(0.76 1)">
<text x="767.59" y="456.2">3C<tspan x="767.59" dy="5.2">01</tspan></text>
<text x="775.65" y="456.2">1C<tspan x="775.65" dy="5.2">02</tspan></text>
<text x="783.72" y="456.2">1D<tspan x="783.72" dy="5.2">03</tspan></text>
<text x="791.78" y="456.2">1C<tspan x="791.78" dy="5.2">04</tspan></text>
<text x="799.85" y="456.2">1C<tspan x="799.85" dy="5.2">05</tspan></text>
<text x="807.91" y="456.2">1A<tspan x="807.91" dy="5.2">06</tspan></text>
<text x="815.98" y="456.2">1A<tspan x="815.98" dy="5.2">07</tspan></text>
<text x="824.05" y="456.2">1B<tspan x="824.05" dy="5.2">08</tspan></text>
<text x="832.11" y="456.2">1B<tspan x="832.11" dy="5.2">09</tspan></text>
<text x="840.18" y="456.2">1D<tspan x="840.18" dy="5.2">10</tspan></text>
<text x="848.24" y="456.2">1B<tspan x="848.24" dy="5.2">11</tspan></text>
<text x="856.31" y="456.2">2C<tspan x="856.31" dy="5.2">12</tspan></text>
<text x="870.88" y="456.2">2C<tspan x="870.88" dy="5.2">13</tspan></text>
<text x="878.94" y="456.2">1A<tspan x="878.94" dy="5.2">14</tspan></text>
<text x="887.01" y="456.2">1B<tspan x="887.01" dy="5.2">15</tspan></text>
<text x="895.07" y="456.2">1D<tspan x="895.07" dy="5.2">16</tspan></text>
<text x="903.14" y="456.2">1C<tspan x="903.14" dy="5.2">17</tspan></text>
<text x="911.2" y="456.2">1C<tspan x="911.2" dy="5.2">18</tspan></text>
<text x="919.27" y="456.2">1B<tspan x="919.27" dy="5.2">19</tspan></text>
<text x="927.34" y="456.2">1B<tspan x="927.34" dy="5.2">20</tspan></text>
<text x="935.4" y="456.2">1D<tspan x="935.4" dy="5.2">21</tspan></text>
<text x="943.47" y="456.2">1C<tspan x="943.47" dy="5.2">22</tspan></text>
<text x="951.53" y="456.2">1A<tspan x="951.53" dy="5.2">23</tspan></text>
<text x="959.6" y="456.2">1C<tspan x="959.6" dy="5.2">24</tspan></text>
<text x="979.75" y="454.53" class="le">25</text>
<text x="979.75" y="460.8" class="le">26</text>
<text x="979.75" y="467.07" class="le">27</text>
</g>
<path d="M578.6 474H654Q659.5 474 656.5 478.3L636.3 507Q634 510.2 630 509.4L579 500.4Q576.6 500 576.6 498V476Q576.6 474 578.6 474Z" class="ln"/>
<path d="M675.4 477Q677.2 474.8 678.7 477L699.4 516.5Q701.4 520.6 697 519.8L645.5 511Q641 510 643.7 506.8Z" class="ln"/>
<path d="M697 474H757.28 Q759.28 474 759.38 476 L762.92 531 Q763.02 534 759.92 533.4 L716 526.2 Q712.8 525.6 711.4 522.8 L694.3 478 Q693 474 697 474Z" class="ln"/>
<g transform="translate(601.25 512.5) rotate(10)">
<rect x="0" y="0" width="6.17" height="17.5" fill="#f07cb6"/><rect x="6.17" y="0" width="6.17" height="17.5" fill="#f07cb6"/><rect x="12.34" y="0" width="6.17" height="17.5" fill="#f36c21"/><rect x="18.51" y="0" width="6.17" height="17.5" fill="#76c043"/><rect x="24.68" y="0" width="6.17" height="17.5" fill="#76c043"/><rect x="30.85" y="0" width="6.17" height="17.5" fill="#f07cb6"/><rect x="37.02" y="0" width="6.17" height="17.5" fill="#f07cb6"/><rect x="43.19" y="0" width="6.17" height="17.5" fill="#f36c21"/><rect x="49.36" y="0" width="6.17" height="17.5" fill="#76c043"/><rect x="55.53" y="0" width="6.17" height="17.5" fill="#6ec5ee"/><rect x="61.7" y="0" width="6.17" height="17.5" fill="#149b4a"/><rect x="72.4" y="0" width="6.17" height="17.5" fill="#149b4a"/><rect x="78.57" y="0" width="6.17" height="17.5" fill="#76c043"/><rect x="84.74" y="0" width="6.17" height="17.5" fill="#6ec5ee"/><rect x="90.91" y="0" width="6.17" height="17.5" fill="#f07cb6"/><rect x="97.08" y="0" width="6.17" height="17.5" fill="#f07cb6"/><rect x="103.25" y="0" width="6.17" height="17.5" fill="#f36c21"/><rect x="109.42" y="0" width="6.17" height="17.5" fill="#f36c21"/><rect x="115.59" y="0" width="6.17" height="17.5" fill="#76c043"/><rect x="121.76" y="0" width="6.17" height="17.5" fill="#76c043"/><rect x="127.93" y="0" width="6.17" height="17.5" fill="#6ec5ee"/><rect x="134.1" y="0" width="6.17" height="17.5" fill="#f07cb6"/>
<path d="M-25.2 -3.3L164.6 -3.3M70.15 -3.3L70.15 21M0 -3.3L0 21M6.17 -3.3L6.17 21M12.34 -3.3L12.34 21M18.51 -3.3L18.51 21M24.68 -3.3L24.68 21M30.85 -3.3L30.85 21M37.02 -3.3L37.02 21M43.19 -3.3L43.19 21M49.36 -3.3L49.36 21M55.53 -3.3L55.53 21M61.7 -3.3L61.7 21M67.87 -3.3L67.87 21M72.4 -3.3L72.4 21M78.57 -3.3L78.57 21M84.74 -3.3L84.74 21M90.91 -3.3L90.91 21M97.08 -3.3L97.08 21M103.25 -3.3L103.25 21M109.42 -3.3L109.42 21M115.59 -3.3L115.59 21M121.76 -3.3L121.76 21M127.93 -3.3L127.93 21M134.1 -3.3L134.1 21M140.27 -3.3L140.27 21" class="ll"/>
<g class="lt" transform="scale(0.76 1)">
<text x="4.06" y="8">1C<tspan x="4.06" dy="5.2">04</tspan></text>
<text x="12.18" y="8">1C<tspan x="12.18" dy="5.2">05</tspan></text>
<text x="20.3" y="8">1D<tspan x="20.3" dy="5.2">06</tspan></text>
<text x="28.41" y="8">1B<tspan x="28.41" dy="5.2">07</tspan></text>
<text x="36.53" y="8">1B<tspan x="36.53" dy="5.2">08</tspan></text>
<text x="44.65" y="8">1C<tspan x="44.65" dy="5.2">09</tspan></text>
<text x="52.77" y="8">1C<tspan x="52.77" dy="5.2">10</tspan></text>
<text x="60.89" y="8">1D<tspan x="60.89" dy="5.2">11</tspan></text>
<text x="69.01" y="8">1B<tspan x="69.01" dy="5.2">12</tspan></text>
<text x="77.12" y="8">1A<tspan x="77.12" dy="5.2">13</tspan></text>
<text x="85.24" y="8">2C<tspan x="85.24" dy="5.2">14</tspan></text>
<text x="99.32" y="8">2C<tspan x="99.32" dy="5.2">15</tspan></text>
<text x="107.44" y="8">1B<tspan x="107.44" dy="5.2">16</tspan></text>
<text x="115.56" y="8">1A<tspan x="115.56" dy="5.2">17</tspan></text>
<text x="123.68" y="8">1C<tspan x="123.68" dy="5.2">18</tspan></text>
<text x="131.8" y="8">1C<tspan x="131.8" dy="5.2">19</tspan></text>
<text x="139.91" y="8">1D<tspan x="139.91" dy="5.2">20</tspan></text>
<text x="148.03" y="8">1D<tspan x="148.03" dy="5.2">21</tspan></text>
<text x="156.15" y="8">1B<tspan x="156.15" dy="5.2">22</tspan></text>
<text x="164.27" y="8">1B<tspan x="164.27" dy="5.2">23</tspan></text>
<text x="172.39" y="8">1A<tspan x="172.39" dy="5.2">24</tspan></text>
<text x="180.51" y="8">1C<tspan x="180.51" dy="5.2">25</tspan></text>
</g>
</g>
<path d="M580.6 506.3L599.4 509.6L596.9 528.7L585 526.7L580.6 522ZM576.6 511.9L598.57 515.97M576.6 518.2L597.73 522.33M741.7 536.9L761.2 540.3L762.2 553.4L758.6 557.2L738.8 553.8ZM740.73 542.53L763.82 546.33M739.77 548.17L763.82 551.97" class="ll"/>
<g class="lt" transform="scale(0.76 1)">
<text x="777.11" y="512.6" class="le">03</text>
<text x="775.79" y="518.85" class="le">02</text>
<text x="774.67" y="525.1" class="le">01</text>
<text x="987.63" y="541.3" class="le">26</text>
<text x="985.79" y="547.1" class="le">27</text>
<text x="984.47" y="552.7" class="le">28</text>
</g>
<rect x="582.2" y="435.6" width="18.8" height="4.8" rx="1.7" fill="#0b0b0b"/>
<text x="591.9" y="439.45" class="pl">LK09</text>
<rect x="581" y="534.6" width="18.2" height="4.8" rx="1.7" fill="#0b0b0b"/>
<text x="590.4" y="538.45" class="pl">LK08</text>
<path d="M738.4 0L750.95 163Q751.54 168.6 756.84 168.6H764Q769.8 168.6 769.43 163L757.2 0" class="rd"/>
<path d="M743 0L754.59 161Q754.91 164.3 757.61 164.3H758.97Q761.77 164.3 761.55 161L749.8 0" class="rd"/>
<path d="M751.6 190Q751.21 184.4 756.81 184.4H761.04Q766.64 184.4 767 190L790.69 563Q791.13 570 785.13 570H784.01Q778.01 570 777.52 563Z" class="rd"/>
<path d="M756.1 191.5Q755.91 188.6 757.56 188.6Q759.21 188.6 759.4 191.5L783.98 564Q784.17 566.8 782.8 566.8Q781.43 566.8 781.25 564Z" class="rd"/>
<text transform="translate(764.3 116.9) rotate(87.2)" class="rt" textLength="152" lengthAdjust="spacingAndGlyphs">Đường Đỗ Xuân Hợp</text>
<g transform="translate(780.1 38.1)">
<circle r="10.3" fill="#fff" stroke="#111" stroke-width="0.95"/>
<polygon points="3.9,-6 -0.3,0.4 2.6,5.4" fill="#fff" stroke="#111" stroke-width="0.57" stroke-linejoin="miter"/>
<polygon points="3.9,-6 -6.1,0 -0.3,0.4" fill="#111" stroke="#111" stroke-width="0.47"/>
<path d="M4.27 -9.37L5.23 -11.47M9.37 4.27L11.47 5.23M-4.27 9.37L-5.23 11.47M-9.37 -4.27L-11.47 -5.23" stroke="#555" stroke-width="0.57" fill="none"/>
</g>
<text transform="translate(785 22.6) rotate(24)" class="nn" style="font-size:9.2px">N</text>
<g transform="translate(168.1 529.1)">
<circle r="4.6" fill="#fff" stroke="#111" stroke-width="0.6"/>
<polygon points="1.75,-2.7 -0.14,0.18 1.17,2.43" fill="#fff" stroke="#111" stroke-width="0.36" stroke-linejoin="miter"/>
<polygon points="1.75,-2.7 -2.75,0 -0.14,0.18" fill="#111" stroke="#111" stroke-width="0.3"/>
<path d="M1.91 -4.19L2.34 -5.13M4.19 1.91L5.13 2.34M-1.91 4.19L-2.34 5.13M-4.19 -1.91L-5.13 -2.34" stroke="#555" stroke-width="0.36" fill="none"/>
</g>
<text transform="translate(169.4 522) rotate(24)" class="nn" style="font-size:3.6px">N</text>
<text x="119.7" y="280.0" class="lg1" text-anchor="middle" textLength="83.4" lengthAdjust="spacingAndGlyphs">BỘ SƯU TẬP | COLLECTIONS</text>
<rect x="16" y="297" width="98.3" height="10.9" fill="#ecebe8"/>
<text x="39.3" y="304" class="lh">TYPOLOGY</text>
<text x="66.4" y="304" class="lh">SỐ CĂN</text>
<text x="92.2" y="304" class="lh">DIỆN TÍCH ĐẤT</text>
<rect x="24.7" y="314.45" width="9.1" height="8.9" fill="#6ec5ee"/>
<text x="38.6" y="320.2" class="lr"><tspan class="ty">TYPE </tspan>1A</text>
<text x="67" y="320.2" class="lr m">144</text>
<text x="91.4" y="320.2" class="lr m">95</text>
<rect x="24.7" y="335.69" width="9.1" height="8.9" fill="#76c043"/>
<text x="38.6" y="341.44" class="lr"><tspan class="ty">TYPE </tspan>1B</text>
<text x="67" y="341.44" class="lr m">215</text>
<text x="91.4" y="341.44" class="lr m">95</text>
<rect x="24.7" y="356.93" width="9.1" height="8.9" fill="#f07cb6"/>
<text x="38.6" y="362.68" class="lr"><tspan class="ty">TYPE </tspan>1C</text>
<text x="67" y="362.68" class="lr m">198</text>
<text x="91.4" y="362.68" class="lr m">95</text>
<rect x="24.7" y="378.17" width="9.1" height="8.9" fill="#f36c21"/>
<text x="38.6" y="383.92" class="lr"><tspan class="ty">TYPE </tspan>1D</text>
<text x="67" y="383.92" class="lr m">144</text>
<text x="91.4" y="383.92" class="lr m">95</text>
<rect x="24.7" y="399.41" width="9.1" height="8.9" fill="#149b4a"/>
<text x="38.6" y="405.16" class="lr"><tspan class="ty">TYPE </tspan>2A</text>
<text x="67" y="405.16" class="lr m">04</text>
<text x="91.4" y="405.16" class="lr m">133</text>
<rect x="24.7" y="420.65" width="9.1" height="8.9" fill="#149b4a"/>
<text x="38.6" y="426.4" class="lr"><tspan class="ty">TYPE </tspan>2B</text>
<text x="67" y="426.4" class="lr m">04</text>
<text x="91.4" y="426.4" class="lr m">133</text>
<rect x="24.7" y="441.89" width="9.1" height="8.9" fill="#149b4a"/>
<text x="38.6" y="447.64" class="lr"><tspan class="ty">TYPE </tspan>2C</text>
<text x="67" y="447.64" class="lr m">34</text>
<text x="91.4" y="447.64" class="lr m">133</text>
<rect x="24.7" y="463.13" width="9.1" height="8.9" fill="#149b4a"/>
<text x="38.6" y="468.88" class="lr"><tspan class="ty">TYPE </tspan>2D</text>
<text x="67" y="468.88" class="lr m">34</text>
<text x="91.4" y="468.88" class="lr m">133</text>
<path d="M21.3 329.4L109.2 329.4M21.3 350.64L109.2 350.64M21.3 371.88L109.2 371.88M21.3 393.12L109.2 393.12M21.3 414.36L109.2 414.36M21.3 435.6L109.2 435.6M21.3 456.84L109.2 456.84M21.3 478.08L109.2 478.08" class="ll" style="stroke:#6d6d6d;stroke-width:0.55"/>
<rect x="125.2" y="297" width="98.3" height="10.9" fill="#ecebe8"/>
<text x="148.5" y="304" class="lh">TYPOLOGY</text>
<text x="175.6" y="304" class="lh">SỐ CĂN</text>
<text x="201.4" y="304" class="lh">DIỆN TÍCH ĐẤT</text>
<rect x="133.9" y="314.45" width="9.1" height="8.9" fill="#92278f"/>
<text x="147.8" y="320.2" class="lr"><tspan class="ty">TYPE </tspan>3A</text>
<text x="176.2" y="320.2" class="lr m">07</text>
<text x="201.6" y="320.2" class="lr m">145.9</text>
<rect x="133.9" y="335.69" width="9.1" height="8.9" fill="#92278f"/>
<text x="147.8" y="341.44" class="lr"><tspan class="ty">TYPE </tspan>3B</text>
<text x="176.2" y="341.44" class="lr m">05</text>
<text x="201.6" y="341.44" class="lr m">145.9</text>
<rect x="133.9" y="356.93" width="9.1" height="8.9" fill="#92278f"/>
<text x="147.8" y="362.68" class="lr"><tspan class="ty">TYPE </tspan>3C</text>
<text x="176.2" y="362.68" class="lr m">12</text>
<text x="201.6" y="362.68" class="lr m">139.5</text>
<rect x="133.9" y="378.17" width="9.1" height="8.9" fill="#92278f"/>
<text x="147.8" y="383.92" class="lr"><tspan class="ty">TYPE </tspan>3D</text>
<text x="176.2" y="383.92" class="lr m">11</text>
<text x="201.6" y="383.92" class="lr m">139.5</text>
<rect x="133.9" y="399.41" width="9.1" height="8.9" fill="#e4187f"/>
<text x="147.8" y="405.16" class="lr"><tspan class="ty">TYPE </tspan>4A</text>
<text x="176.2" y="405.16" class="lr m">11</text>
<text x="201.6" y="405.16" class="lr m">91.9</text>
<rect x="133.9" y="420.65" width="9.1" height="8.9" fill="#e4187f"/>
<text x="147.8" y="426.4" class="lr"><tspan class="ty">TYPE </tspan>4B</text>
<text x="176.2" y="426.4" class="lr m">11</text>
<text x="201.6" y="426.4" class="lr m">91.9</text>
<path d="M130.5 329.4L218.4 329.4M130.5 350.64L218.4 350.64M130.5 371.88L218.4 371.88M130.5 393.12L218.4 393.12M130.5 414.36L218.4 414.36M130.5 435.6L218.4 435.6" class="ll" style="stroke:#6d6d6d;stroke-width:0.55"/>
<text x="119.4" y="510.8" class="lg2" text-anchor="middle">BẢN ĐỒ QUY HOẠCH TỔNG THỂ | MASTER PLAN</text>
<polygon points="80.94,529.13 90.32,528 96.88,532.5 112.82,531.75 116,538.5 117.5,551.25 122.19,567.19 126.88,583.13 127.25,600.94 83.75,600.94 83.38,573.75 80.56,567.19 85.63,551.25 81.88,540" fill="#e9f1f7"/>
<polygon points="116,538.5 128.75,534.75 143.19,528.75 154.07,559.69 122.19,567.19 117.5,551.25" fill="#f0f0f1"/>
<polygon points="122.19,567.19 154.07,559.69 158.76,577.51 164.76,600.01 127.25,600.94 126.88,583.13" fill="#f6f6f7"/>
<path d="M87.13 537.19L88.44 546.57L95 558.75L104.75 569.63L109.07 583.13L110.94 600.38M93.5 534.75L95.94 546.57L101.57 557.82L109.63 568.5L113.38 583.13L114.69 600.38" fill="none" stroke="#c3cbd1" stroke-width="0.6"/>
<path d="M80 567.75L106.25 570.94L154.07 559.69L178.45 545.25M116 538.5L117.5 551.25L122.19 567.19L126.88 583.13L127.25 600.94M143.19 528.75L154.07 559.69L158.76 577.51L164.76 600.01" fill="none" stroke="#969696" stroke-width="1.25"/>
<path d="M82.81 601.88L168.51 601.88" fill="none" stroke="#7e7e7e" stroke-width="1.7"/>
<polygon points="134.76,575.26 147.13,571.88 147.13,569.07 153.51,567.75 159.13,587.82 138.51,588.76" fill="#a5512f"/>
<polygon points="125.94,580.88 135.32,577.88 135.88,579.76 126.5,582.38" fill="#a5512f"/>
</svg>
</body></html>
